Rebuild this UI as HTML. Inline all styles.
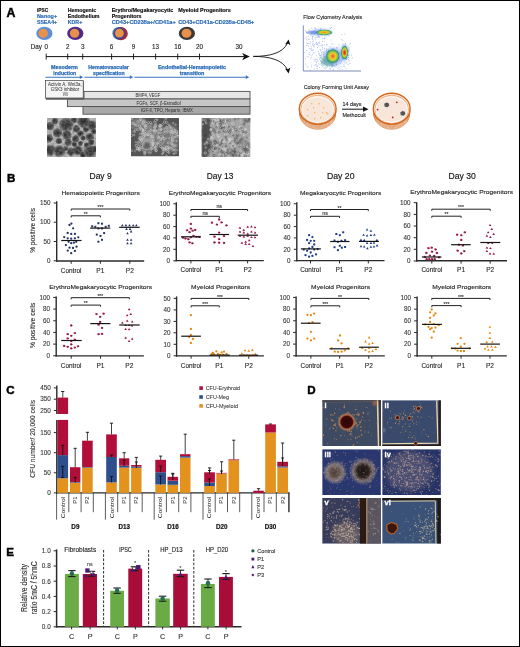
<!DOCTYPE html>
<html><head><meta charset="utf-8"><style>
html,body{margin:0;padding:0;background:#fff;}
svg{display:block;}
#root{will-change:transform;}
text{font-family:"Liberation Sans", sans-serif;}
</style></head><body>
<svg id="root" width="520" height="647" viewBox="0 0 520 647">
<defs>
<radialGradient id="gsph"><stop offset="0" stop-color="#303030"/><stop offset="0.5" stop-color="#3c3c3c" stop-opacity="0.95"/><stop offset="0.8" stop-color="#555" stop-opacity="0.7"/><stop offset="1" stop-color="#777" stop-opacity="0"/></radialGradient>
<radialGradient id="gflow2"><stop offset="0" stop-color="#f08820"/><stop offset="0.35" stop-color="#f0c020"/><stop offset="0.6" stop-color="#a8d040"/><stop offset="0.85" stop-color="#40a870"/><stop offset="1" stop-color="#3060c0" stop-opacity="0.3"/></radialGradient>
<radialGradient id="gflowM"><stop offset="0" stop-color="#e85a20"/><stop offset="0.25" stop-color="#f09a28"/><stop offset="0.45" stop-color="#f0d030"/><stop offset="0.68" stop-color="#88c440"/><stop offset="0.86" stop-color="#30a070"/><stop offset="1" stop-color="#3060c0" stop-opacity="0.3"/></radialGradient>
<radialGradient id="gflow"><stop offset="0" stop-color="#d82818"/><stop offset="0.3" stop-color="#e86020"/><stop offset="0.5" stop-color="#f0c828"/><stop offset="0.72" stop-color="#80c040"/><stop offset="0.88" stop-color="#30a070"/><stop offset="1" stop-color="#3060c0" stop-opacity="0.3"/></radialGradient>
<radialGradient id="gcol1"><stop offset="0" stop-color="#2a0606"/><stop offset="0.6" stop-color="#400a0a"/><stop offset="0.7" stop-color="#a04a28"/><stop offset="0.8" stop-color="#d09060" stop-opacity="0.6"/><stop offset="1" stop-color="#d08850" stop-opacity="0"/></radialGradient>
<radialGradient id="gcol2"><stop offset="0" stop-color="#3a0c08"/><stop offset="0.4" stop-color="#5a1a10"/><stop offset="0.65" stop-color="#b07048" stop-opacity="0.8"/><stop offset="1" stop-color="#c09060" stop-opacity="0"/></radialGradient>
<radialGradient id="gcol3"><stop offset="0" stop-color="#4a3c3a"/><stop offset="0.4" stop-color="#62524c"/><stop offset="0.7" stop-color="#988880" stop-opacity="0.75"/><stop offset="1" stop-color="#a09088" stop-opacity="0"/></radialGradient>
<radialGradient id="gcol4"><stop offset="0" stop-color="#1a1210"/><stop offset="0.45" stop-color="#2e2420"/><stop offset="0.68" stop-color="#807068" stop-opacity="0.85"/><stop offset="1" stop-color="#a09088" stop-opacity="0"/></radialGradient>
<filter id="spkW" x="0" y="0" width="100%" height="100%"><feTurbulence type="fractalNoise" baseFrequency="0.6" numOctaves="2" seed="4"/><feColorMatrix type="matrix" values="0 0 0 0 1  0 0 0 0 1  0 0 0 0 1  3 0 0 0 -1.35"/></filter>
<filter id="spkD" x="0" y="0" width="100%" height="100%"><feTurbulence type="fractalNoise" baseFrequency="0.6" numOctaves="2" seed="8"/><feColorMatrix type="matrix" values="0 0 0 0 0  0 0 0 0 0  0 0 0 0 0  3 0 0 0 -1.35"/></filter>
<filter id="spkW2" x="0" y="0" width="100%" height="100%"><feTurbulence type="fractalNoise" baseFrequency="0.35" numOctaves="2" seed="14"/><feColorMatrix type="matrix" values="0 0 0 0 1  0 0 0 0 1  0 0 0 0 1  3 0 0 0 -1.2"/></filter>
<filter id="spkD2" x="0" y="0" width="100%" height="100%"><feTurbulence type="fractalNoise" baseFrequency="0.35" numOctaves="2" seed="18"/><feColorMatrix type="matrix" values="0 0 0 0 0  0 0 0 0 0  0 0 0 0 0  3 0 0 0 -1.2"/></filter>
<filter id="blur03" x="-10%" y="-10%" width="120%" height="120%"><feGaussianBlur stdDeviation="0.3"/></filter>
<filter id="blur1" x="-50%" y="-50%" width="200%" height="200%"><feGaussianBlur stdDeviation="0.8"/></filter>
<filter id="blur2" x="-50%" y="-50%" width="200%" height="200%"><feGaussianBlur stdDeviation="2"/></filter>
<filter id="noise" x="0" y="0" width="100%" height="100%"><feTurbulence type="fractalNoise" baseFrequency="0.6" numOctaves="2" seed="3"/><feColorMatrix type="saturate" values="0"/></filter>
<filter id="noise2" x="0" y="0" width="100%" height="100%"><feTurbulence type="fractalNoise" baseFrequency="0.45" numOctaves="2" seed="5"/><feColorMatrix type="saturate" values="0"/></filter>
<filter id="noise3" x="0" y="0" width="100%" height="100%"><feTurbulence type="fractalNoise" baseFrequency="0.7" numOctaves="2" seed="9"/><feColorMatrix type="saturate" values="0"/></filter>
</defs>
<rect x="0" y="0" width="520" height="647" fill="#fff"/>
<text x="6.6" y="16.8" font-size="12.3" fill="#000" stroke="#000" stroke-width="0.45" font-weight="bold">A</text>
<text x="36.9" y="11.5" font-size="6.0" fill="#111" stroke="#111" stroke-width="0.18" font-weight="bold" textLength="11.3" lengthAdjust="spacingAndGlyphs">iPSC</text>
<text x="36.9" y="17.9" font-size="6.0" fill="#2b6cb6" stroke="#2b6cb6" stroke-width="0.18" font-weight="bold" textLength="20.2" lengthAdjust="spacingAndGlyphs">Nanog+</text>
<text x="36.9" y="24.4" font-size="6.0" fill="#2b6cb6" stroke="#2b6cb6" stroke-width="0.18" font-weight="bold" textLength="20.2" lengthAdjust="spacingAndGlyphs">SSEA4+</text>
<text x="67.8" y="11.5" font-size="6.0" fill="#111" stroke="#111" stroke-width="0.18" font-weight="bold" textLength="28.4" lengthAdjust="spacingAndGlyphs">Hemogenic</text>
<text x="67.8" y="17.9" font-size="6.0" fill="#111" stroke="#111" stroke-width="0.18" font-weight="bold" textLength="31.7" lengthAdjust="spacingAndGlyphs">Endothelium</text>
<text x="67.8" y="24.4" font-size="6.0" fill="#2b6cb6" stroke="#2b6cb6" stroke-width="0.18" font-weight="bold" textLength="14.4" lengthAdjust="spacingAndGlyphs">KDR+</text>
<text x="111.7" y="11.5" font-size="6.0" fill="#111" stroke="#111" stroke-width="0.18" font-weight="bold" textLength="61.6" lengthAdjust="spacingAndGlyphs">Erythro/Megakaryocytic</text>
<text x="111.7" y="17.9" font-size="6.0" fill="#111" stroke="#111" stroke-width="0.18" font-weight="bold" textLength="29.8" lengthAdjust="spacingAndGlyphs">Progenitors</text>
<text x="111.7" y="24.4" font-size="6.0" fill="#2b6cb6" stroke="#2b6cb6" stroke-width="0.18" font-weight="bold" textLength="64.1" lengthAdjust="spacingAndGlyphs">CD43+CD235a+/CD41a+</text>
<text x="178.2" y="11.5" font-size="6.0" fill="#111" stroke="#111" stroke-width="0.18" font-weight="bold" textLength="52.6" lengthAdjust="spacingAndGlyphs">Myeloid Progenitors</text>
<text x="178.2" y="24.4" font-size="6.0" fill="#2b6cb6" stroke="#2b6cb6" stroke-width="0.18" font-weight="bold" textLength="76" lengthAdjust="spacingAndGlyphs">CD43+CD41a-CD235a-CD45+</text>
<ellipse cx="44.4" cy="33.4" rx="8.1" ry="6.6" fill="#5b8fd8"/>
<ellipse cx="43.2" cy="33.2" rx="4.7" ry="4.5" fill="#e8914a"/>
<ellipse cx="75.3" cy="33.4" rx="8.1" ry="6.6" fill="#4e2a8a"/>
<ellipse cx="74.6" cy="33.2" rx="4.7" ry="4.5" fill="#e8914a"/>
<ellipse cx="120.9" cy="33.7" rx="6.9" ry="6.6" fill="#a02a3c"/>
<ellipse cx="118.7" cy="33.2" rx="6.3" ry="6.3" fill="#2c4a94" opacity="0.82"/>
<ellipse cx="119.4" cy="33.2" rx="4.4" ry="4.4" fill="#e8914a"/>
<ellipse cx="186.9" cy="33.4" rx="8.1" ry="6.6" fill="#3a3a3a"/>
<ellipse cx="186.5" cy="33.2" rx="4.9" ry="4.5" fill="#e8914a"/>
<text x="30.8" y="48.8" font-size="6.3" fill="#222" stroke="#222" stroke-width="0.12">Day</text>
<text x="46.2" y="48.8" font-size="6.3" fill="#222" stroke="#222" stroke-width="0.12" text-anchor="middle">0</text>
<text x="67.7" y="48.8" font-size="6.3" fill="#222" stroke="#222" stroke-width="0.12" text-anchor="middle">2</text>
<text x="82.7" y="48.8" font-size="6.3" fill="#222" stroke="#222" stroke-width="0.12" text-anchor="middle">3</text>
<text x="111.6" y="48.8" font-size="6.3" fill="#222" stroke="#222" stroke-width="0.12" text-anchor="middle">6</text>
<text x="133.5" y="48.8" font-size="6.3" fill="#222" stroke="#222" stroke-width="0.12" text-anchor="middle">9</text>
<text x="155.6" y="48.8" font-size="6.3" fill="#222" stroke="#222" stroke-width="0.12" text-anchor="middle">13</text>
<text x="177.7" y="48.8" font-size="6.3" fill="#222" stroke="#222" stroke-width="0.12" text-anchor="middle">16</text>
<text x="199.5" y="48.8" font-size="6.3" fill="#222" stroke="#222" stroke-width="0.12" text-anchor="middle">20</text>
<text x="239.0" y="48.8" font-size="6.3" fill="#222" stroke="#222" stroke-width="0.12" text-anchor="middle">30</text>
<line x1="46.2" y1="56.6" x2="245.0" y2="56.6" stroke="#111" stroke-width="1" />
<path d="M249.8 56.6 L242.2 52.9 L244.2 56.6 L242.2 60.3 Z" fill="#111"/>
<line x1="46.2" y1="53.6" x2="46.2" y2="59.6" stroke="#111" stroke-width="0.9" />
<line x1="67.7" y1="53.6" x2="67.7" y2="59.6" stroke="#111" stroke-width="0.9" />
<line x1="82.7" y1="53.6" x2="82.7" y2="59.6" stroke="#111" stroke-width="0.9" />
<line x1="111.6" y1="53.6" x2="111.6" y2="59.6" stroke="#111" stroke-width="0.9" />
<line x1="133.5" y1="53.6" x2="133.5" y2="59.6" stroke="#111" stroke-width="0.9" />
<line x1="155.6" y1="53.6" x2="155.6" y2="59.6" stroke="#111" stroke-width="0.9" />
<line x1="177.7" y1="53.6" x2="177.7" y2="59.6" stroke="#111" stroke-width="0.9" />
<line x1="199.5" y1="53.6" x2="199.5" y2="59.6" stroke="#111" stroke-width="0.9" />
<text x="64.4" y="68.7" font-size="5.4" fill="#2b6cb6" stroke="#2b6cb6" stroke-width="0.25" font-weight="bold" text-anchor="middle" textLength="26.9" lengthAdjust="spacingAndGlyphs">Mesoderm</text>
<text x="64.7" y="74.7" font-size="5.4" fill="#2b6cb6" stroke="#2b6cb6" stroke-width="0.25" font-weight="bold" text-anchor="middle" textLength="22.8" lengthAdjust="spacingAndGlyphs">induction</text>
<text x="108.6" y="68.7" font-size="5.4" fill="#2b6cb6" stroke="#2b6cb6" stroke-width="0.25" font-weight="bold" text-anchor="middle" textLength="40.6" lengthAdjust="spacingAndGlyphs">Hematovascular</text>
<text x="108.8" y="74.7" font-size="5.4" fill="#2b6cb6" stroke="#2b6cb6" stroke-width="0.25" font-weight="bold" text-anchor="middle" textLength="31.5" lengthAdjust="spacingAndGlyphs">specification</text>
<text x="192.0" y="68.9" font-size="5.4" fill="#2b6cb6" stroke="#2b6cb6" stroke-width="0.25" font-weight="bold" text-anchor="middle">Endothelial-Hematopoietic</text>
<text x="192.0" y="75.2" font-size="5.4" fill="#2b6cb6" stroke="#2b6cb6" stroke-width="0.25" font-weight="bold" text-anchor="middle">transition</text>
<line x1="45.5" y1="77.2" x2="80.7" y2="77.2" stroke="#3573c0" stroke-width="1.1" />
<path d="M79.8 75.3 L83.2 77.2 L79.8 79.1 Z" fill="#3573c0"/>
<line x1="84.5" y1="77.2" x2="130.7" y2="77.2" stroke="#3573c0" stroke-width="1.1" />
<path d="M129.8 75.3 L133.2 77.2 L129.8 79.1 Z" fill="#3573c0"/>
<line x1="134.5" y1="77.2" x2="246.7" y2="77.2" stroke="#3573c0" stroke-width="1.1" />
<path d="M245.8 75.3 L249.2 77.2 L245.8 79.1 Z" fill="#3573c0"/>
<rect x="84" y="91.4" width="166" height="7.6" fill="#e6e6e6" stroke="#505050" stroke-width="0.9"/>
<text x="147.9" y="97.1" font-size="4.9" fill="#333" stroke="#333" stroke-width="0.03" text-anchor="middle" textLength="25" lengthAdjust="spacingAndGlyphs">BMP4, VEGF</text>
<rect x="67.5" y="99" width="182.5" height="7.6" fill="#c6c6c6" stroke="#505050" stroke-width="0.9"/>
<text x="158.6" y="104.7" font-size="4.9" fill="#333" stroke="#333" stroke-width="0.03" text-anchor="middle" textLength="44" lengthAdjust="spacingAndGlyphs">FGFs, SCF, &#946;-Estradiol</text>
<rect x="83" y="106.6" width="167" height="7.6" fill="#a8a8a8" stroke="#505050" stroke-width="0.9"/>
<text x="166.9" y="112.3" font-size="4.9" fill="#333" stroke="#333" stroke-width="0.03" text-anchor="middle" textLength="52" lengthAdjust="spacingAndGlyphs">IGF-II, TPO, Heparin, IBMX</text>
<rect x="45.8" y="81.6" width="38" height="18.2" fill="#666"/>
<rect x="45.4" y="80.4" width="37.8" height="17.6" fill="#f4f4f4" stroke="#444" stroke-width="0.7"/>
<text x="64.9" y="86.0" font-size="5.0" fill="#333" stroke="#333" stroke-width="0.03" text-anchor="middle" textLength="33.8" lengthAdjust="spacingAndGlyphs">Activin A, Wnt3a,</text>
<text x="65.0" y="91.0" font-size="5.0" fill="#333" stroke="#333" stroke-width="0.03" text-anchor="middle" textLength="28.4" lengthAdjust="spacingAndGlyphs">GSK3 inhibitor</text>
<text x="65.2" y="96.3" font-size="5.0" fill="#333" stroke="#333" stroke-width="0.03" text-anchor="middle" textLength="4.9" lengthAdjust="spacingAndGlyphs">VIII</text>
<svg x="47" y="118" width="49" height="39" viewBox="0 0 49 39">
<rect width="49" height="39" fill="#b2b2b2"/>
<circle cx="3.1" cy="8.2" r="4.75" fill="url(#gsph)"/>
<circle cx="19.2" cy="6.8" r="8.00" fill="url(#gsph)"/>
<circle cx="36.7" cy="3.4" r="7.25" fill="url(#gsph)"/>
<circle cx="44.8" cy="7.5" r="5.50" fill="url(#gsph)"/>
<circle cx="10.5" cy="14.9" r="5.25" fill="url(#gsph)"/>
<circle cx="19.9" cy="16.9" r="5.25" fill="url(#gsph)"/>
<circle cx="29.3" cy="10.8" r="4.25" fill="url(#gsph)"/>
<circle cx="38.8" cy="11.5" r="3.50" fill="url(#gsph)"/>
<circle cx="33.4" cy="15.6" r="3.75" fill="url(#gsph)"/>
<circle cx="42.8" cy="18.9" r="4.75" fill="url(#gsph)"/>
<circle cx="46.8" cy="13.5" r="3.00" fill="url(#gsph)"/>
<circle cx="1.7" cy="20.3" r="4.75" fill="url(#gsph)"/>
<circle cx="11.8" cy="23" r="3.75" fill="url(#gsph)"/>
<circle cx="21.3" cy="24.3" r="4.25" fill="url(#gsph)"/>
<circle cx="28.7" cy="20.9" r="4.25" fill="url(#gsph)"/>
<circle cx="36.1" cy="20" r="3.00" fill="url(#gsph)"/>
<circle cx="27.3" cy="26.3" r="3.00" fill="url(#gsph)"/>
<circle cx="33.4" cy="25.6" r="3.00" fill="url(#gsph)"/>
<circle cx="39.4" cy="27" r="3.00" fill="url(#gsph)"/>
<circle cx="44.1" cy="24.3" r="3.75" fill="url(#gsph)"/>
<circle cx="3.1" cy="32.4" r="6.50" fill="url(#gsph)"/>
<circle cx="12.5" cy="33.1" r="6.50" fill="url(#gsph)"/>
<circle cx="18.6" cy="30.4" r="3.00" fill="url(#gsph)"/>
<circle cx="23.9" cy="33.7" r="4.75" fill="url(#gsph)"/>
<circle cx="30.7" cy="32.4" r="5.50" fill="url(#gsph)"/>
<circle cx="42.8" cy="33.7" r="7.25" fill="url(#gsph)"/>
<circle cx="8" cy="3" r="3.75" fill="url(#gsph)"/>
<circle cx="27" cy="2" r="3.75" fill="url(#gsph)"/>
<circle cx="48" cy="31" r="3.75" fill="url(#gsph)"/>
<circle cx="36" cy="37" r="3.75" fill="url(#gsph)"/>
<rect width="49" height="39" filter="url(#spkW2)" opacity="0.18"/>
<rect width="49" height="39" filter="url(#spkD2)" opacity="0.15"/>
</svg>
<svg x="131" y="118" width="48" height="38.5" viewBox="0 0 48 38.5">
<rect width="48" height="38.5" fill="#545454"/>
<g filter="url(#blur2)" fill="#8c8c8c">
<ellipse cx="7" cy="5" rx="8" ry="6" opacity="0.8"/>
<ellipse cx="20" cy="18" rx="11" ry="10" opacity="0.75"/>
<ellipse cx="40" cy="20" rx="8" ry="13" opacity="0.7"/>
<ellipse cx="16" cy="27" rx="6" ry="5.5" opacity="0.8"/>
</g>
<g filter="url(#blur03)" fill="none" stroke-width="0.55">
<circle cx="11.7" cy="11.6" r="0.9" stroke="rgb(200,200,200)"/>
<circle cx="10.0" cy="10.6" r="0.7" stroke="rgb(210,210,210)"/>
<circle cx="1.5" cy="9.8" r="0.8" stroke="rgb(164,164,164)"/>
<circle cx="17.3" cy="4.8" r="1.1" stroke="rgb(186,186,186)"/>
<circle cx="12.2" cy="5.9" r="1.1" stroke="rgb(191,191,191)"/>
<circle cx="16.8" cy="6.2" r="0.8" stroke="rgb(165,165,165)"/>
<circle cx="12.9" cy="2.6" r="1.1" stroke="rgb(195,195,195)"/>
<circle cx="4.2" cy="6.7" r="0.7" stroke="rgb(202,202,202)"/>
<circle cx="9.9" cy="2.3" r="0.8" stroke="rgb(209,209,209)"/>
<circle cx="13.9" cy="7.8" r="1.2" stroke="rgb(195,195,195)"/>
<circle cx="11.1" cy="15.8" r="1.0" stroke="rgb(216,216,216)"/>
<circle cx="3.1" cy="17.0" r="0.9" stroke="rgb(192,192,192)"/>
<circle cx="12.9" cy="4.8" r="1.2" stroke="rgb(161,161,161)"/>
<circle cx="12.2" cy="11.7" r="0.7" stroke="rgb(191,191,191)"/>
<circle cx="14.3" cy="7.9" r="0.8" stroke="rgb(193,193,193)"/>
<circle cx="1.1" cy="1.0" r="0.8" stroke="rgb(199,199,199)"/>
<circle cx="9.7" cy="1.1" r="1.1" stroke="rgb(208,208,208)"/>
<circle cx="6.0" cy="7.2" r="1.3" stroke="rgb(164,164,164)"/>
<circle cx="9.9" cy="9.7" r="1.1" stroke="rgb(170,170,170)"/>
<circle cx="12.9" cy="3.7" r="1.3" stroke="rgb(170,170,170)"/>
<circle cx="1.2" cy="5.3" r="1.3" stroke="rgb(175,175,175)"/>
<circle cx="7.2" cy="11.4" r="1.2" stroke="rgb(188,188,188)"/>
<circle cx="8.0" cy="3.6" r="1.1" stroke="rgb(176,176,176)"/>
<circle cx="11.4" cy="5.8" r="0.7" stroke="rgb(185,185,185)"/>
<circle cx="0.2" cy="14.1" r="1.1" stroke="rgb(169,169,169)"/>
<circle cx="2.5" cy="5.5" r="1.0" stroke="rgb(201,201,201)"/>
<circle cx="6.8" cy="3.8" r="1.2" stroke="rgb(173,173,173)"/>
<circle cx="4.7" cy="7.2" r="1.1" stroke="rgb(183,183,183)"/>
<circle cx="10.6" cy="22.7" r="1.0" stroke="rgb(214,214,214)"/>
<circle cx="26.9" cy="26.2" r="1.2" stroke="rgb(168,168,168)"/>
<circle cx="32.1" cy="18.8" r="0.7" stroke="rgb(205,205,205)"/>
<circle cx="10.4" cy="11.6" r="1.3" stroke="rgb(214,214,214)"/>
<circle cx="9.3" cy="23.8" r="1.3" stroke="rgb(208,208,208)"/>
<circle cx="23.6" cy="15.6" r="0.9" stroke="rgb(166,166,166)"/>
<circle cx="24.4" cy="28.6" r="0.8" stroke="rgb(210,210,210)"/>
<circle cx="27.8" cy="9.4" r="0.9" stroke="rgb(168,168,168)"/>
<circle cx="27.5" cy="15.1" r="0.8" stroke="rgb(216,216,216)"/>
<circle cx="22.6" cy="22.4" r="0.8" stroke="rgb(184,184,184)"/>
<circle cx="19.5" cy="4.6" r="1.1" stroke="rgb(198,198,198)"/>
<circle cx="29.7" cy="8.2" r="1.3" stroke="rgb(210,210,210)"/>
<circle cx="7.8" cy="28.4" r="1.2" stroke="rgb(185,185,185)"/>
<circle cx="25.7" cy="29.2" r="1.3" stroke="rgb(176,176,176)"/>
<circle cx="9.5" cy="9.9" r="0.9" stroke="rgb(175,175,175)"/>
<circle cx="13.7" cy="34.0" r="1.2" stroke="rgb(178,178,178)"/>
<circle cx="23.0" cy="9.2" r="0.8" stroke="rgb(196,196,196)"/>
<circle cx="12.3" cy="12.3" r="0.9" stroke="rgb(207,207,207)"/>
<circle cx="13.4" cy="17.3" r="1.0" stroke="rgb(199,199,199)"/>
<circle cx="17.3" cy="16.9" r="0.9" stroke="rgb(212,212,212)"/>
<circle cx="20.9" cy="20.8" r="1.3" stroke="rgb(202,202,202)"/>
<circle cx="22.5" cy="20.0" r="1.1" stroke="rgb(164,164,164)"/>
<circle cx="0.6" cy="17.4" r="1.1" stroke="rgb(203,203,203)"/>
<circle cx="11.0" cy="21.4" r="1.2" stroke="rgb(184,184,184)"/>
<circle cx="21.6" cy="18.8" r="1.0" stroke="rgb(202,202,202)"/>
<circle cx="20.2" cy="30.5" r="0.9" stroke="rgb(212,212,212)"/>
<circle cx="7.2" cy="24.3" r="0.9" stroke="rgb(185,185,185)"/>
<circle cx="8.7" cy="18.9" r="0.8" stroke="rgb(201,201,201)"/>
<circle cx="10.8" cy="19.2" r="1.1" stroke="rgb(205,205,205)"/>
<circle cx="21.9" cy="26.5" r="1.2" stroke="rgb(200,200,200)"/>
<circle cx="12.2" cy="4.2" r="1.2" stroke="rgb(204,204,204)"/>
<circle cx="19.3" cy="27.1" r="0.9" stroke="rgb(191,191,191)"/>
<circle cx="8.8" cy="8.1" r="1.3" stroke="rgb(205,205,205)"/>
<circle cx="26.9" cy="18.3" r="1.2" stroke="rgb(179,179,179)"/>
<circle cx="19.3" cy="14.6" r="0.7" stroke="rgb(171,171,171)"/>
<circle cx="13.8" cy="36.1" r="1.1" stroke="rgb(207,207,207)"/>
<circle cx="44.4" cy="15.4" r="1.1" stroke="rgb(170,170,170)"/>
<circle cx="22.0" cy="25.0" r="1.0" stroke="rgb(201,201,201)"/>
<circle cx="21.2" cy="21.1" r="0.9" stroke="rgb(161,161,161)"/>
<circle cx="19.6" cy="33.5" r="1.2" stroke="rgb(169,169,169)"/>
<circle cx="14.1" cy="17.7" r="0.9" stroke="rgb(204,204,204)"/>
<circle cx="6.2" cy="31.1" r="0.9" stroke="rgb(189,189,189)"/>
<circle cx="8.5" cy="20.9" r="0.8" stroke="rgb(202,202,202)"/>
<circle cx="15.2" cy="22.2" r="1.3" stroke="rgb(172,172,172)"/>
<circle cx="21.6" cy="25.3" r="1.3" stroke="rgb(200,200,200)"/>
<circle cx="19.6" cy="16.5" r="1.0" stroke="rgb(192,192,192)"/>
<circle cx="13.1" cy="23.2" r="0.8" stroke="rgb(188,188,188)"/>
<circle cx="30.0" cy="18.5" r="1.3" stroke="rgb(166,166,166)"/>
<circle cx="22.8" cy="25.2" r="0.9" stroke="rgb(160,160,160)"/>
<circle cx="29.4" cy="28.6" r="1.0" stroke="rgb(212,212,212)"/>
<circle cx="23.7" cy="12.2" r="0.9" stroke="rgb(186,186,186)"/>
<circle cx="14.6" cy="16.2" r="1.2" stroke="rgb(211,211,211)"/>
<circle cx="12.3" cy="13.4" r="0.7" stroke="rgb(210,210,210)"/>
<circle cx="17.1" cy="16.4" r="1.2" stroke="rgb(217,217,217)"/>
<circle cx="31.7" cy="17.2" r="0.7" stroke="rgb(169,169,169)"/>
<circle cx="24.4" cy="8.0" r="1.0" stroke="rgb(199,199,199)"/>
<circle cx="14.8" cy="7.2" r="0.9" stroke="rgb(169,169,169)"/>
<circle cx="15.9" cy="23.4" r="0.7" stroke="rgb(200,200,200)"/>
<circle cx="24.2" cy="6.9" r="1.0" stroke="rgb(171,171,171)"/>
<circle cx="17.7" cy="13.3" r="0.9" stroke="rgb(177,177,177)"/>
<circle cx="25.6" cy="27.0" r="1.1" stroke="rgb(177,177,177)"/>
<circle cx="17.3" cy="14.1" r="0.8" stroke="rgb(166,166,166)"/>
<circle cx="16.2" cy="22.7" r="1.1" stroke="rgb(172,172,172)"/>
<circle cx="18.6" cy="8.3" r="0.9" stroke="rgb(165,165,165)"/>
<circle cx="21.8" cy="27.3" r="0.9" stroke="rgb(206,206,206)"/>
<circle cx="9.0" cy="15.7" r="0.7" stroke="rgb(171,171,171)"/>
<circle cx="13.8" cy="24.7" r="1.2" stroke="rgb(215,215,215)"/>
<circle cx="26.1" cy="1.7" r="0.7" stroke="rgb(203,203,203)"/>
<circle cx="15.1" cy="7.5" r="1.0" stroke="rgb(199,199,199)"/>
<circle cx="37.8" cy="6.5" r="0.8" stroke="rgb(184,184,184)"/>
<circle cx="8.0" cy="20.8" r="0.7" stroke="rgb(183,183,183)"/>
<circle cx="13.4" cy="26.8" r="0.7" stroke="rgb(198,198,198)"/>
<circle cx="10.5" cy="27.3" r="1.3" stroke="rgb(171,171,171)"/>
<circle cx="3.9" cy="14.3" r="0.8" stroke="rgb(173,173,173)"/>
<circle cx="13.5" cy="17.4" r="1.1" stroke="rgb(188,188,188)"/>
<circle cx="25.6" cy="12.9" r="0.8" stroke="rgb(165,165,165)"/>
<circle cx="14.0" cy="13.6" r="1.2" stroke="rgb(202,202,202)"/>
<circle cx="17.3" cy="21.2" r="1.2" stroke="rgb(161,161,161)"/>
<circle cx="32.9" cy="14.2" r="1.1" stroke="rgb(202,202,202)"/>
<circle cx="19.7" cy="12.5" r="1.0" stroke="rgb(194,194,194)"/>
<circle cx="27.6" cy="12.1" r="0.8" stroke="rgb(167,167,167)"/>
<circle cx="14.2" cy="8.6" r="1.2" stroke="rgb(189,189,189)"/>
<circle cx="20.1" cy="6.4" r="0.8" stroke="rgb(176,176,176)"/>
<circle cx="22.6" cy="13.0" r="0.9" stroke="rgb(190,190,190)"/>
<circle cx="11.4" cy="15.9" r="1.2" stroke="rgb(162,162,162)"/>
<circle cx="15.6" cy="25.4" r="1.1" stroke="rgb(179,179,179)"/>
<circle cx="14.3" cy="23.6" r="1.2" stroke="rgb(160,160,160)"/>
<circle cx="24.5" cy="13.0" r="1.3" stroke="rgb(213,213,213)"/>
<circle cx="21.9" cy="23.4" r="1.0" stroke="rgb(206,206,206)"/>
<circle cx="21.1" cy="6.1" r="0.9" stroke="rgb(161,161,161)"/>
<circle cx="24.3" cy="9.6" r="0.9" stroke="rgb(189,189,189)"/>
<circle cx="11.9" cy="14.7" r="1.1" stroke="rgb(205,205,205)"/>
<circle cx="28.8" cy="8.0" r="1.1" stroke="rgb(183,183,183)"/>
<circle cx="19.1" cy="9.2" r="1.3" stroke="rgb(167,167,167)"/>
<circle cx="24.9" cy="32.7" r="1.2" stroke="rgb(216,216,216)"/>
<circle cx="19.8" cy="12.0" r="0.8" stroke="rgb(168,168,168)"/>
<circle cx="23.1" cy="12.5" r="1.1" stroke="rgb(203,203,203)"/>
<circle cx="14.2" cy="10.4" r="1.0" stroke="rgb(168,168,168)"/>
<circle cx="39.0" cy="13.2" r="1.2" stroke="rgb(203,203,203)"/>
<circle cx="46.4" cy="14.2" r="0.8" stroke="rgb(160,160,160)"/>
<circle cx="41.3" cy="22.7" r="1.2" stroke="rgb(204,204,204)"/>
<circle cx="34.2" cy="12.9" r="0.8" stroke="rgb(206,206,206)"/>
<circle cx="38.0" cy="8.9" r="1.3" stroke="rgb(194,194,194)"/>
<circle cx="34.0" cy="30.1" r="1.3" stroke="rgb(200,200,200)"/>
<circle cx="43.8" cy="27.9" r="1.1" stroke="rgb(188,188,188)"/>
<circle cx="33.1" cy="23.2" r="1.0" stroke="rgb(174,174,174)"/>
<circle cx="40.0" cy="10.8" r="0.8" stroke="rgb(169,169,169)"/>
<circle cx="41.6" cy="11.5" r="0.9" stroke="rgb(181,181,181)"/>
<circle cx="46.5" cy="17.6" r="0.8" stroke="rgb(172,172,172)"/>
<circle cx="31.7" cy="6.4" r="1.0" stroke="rgb(174,174,174)"/>
<circle cx="44.3" cy="32.4" r="0.9" stroke="rgb(200,200,200)"/>
<circle cx="40.3" cy="13.3" r="0.8" stroke="rgb(204,204,204)"/>
<circle cx="41.5" cy="32.7" r="0.8" stroke="rgb(175,175,175)"/>
<circle cx="30.2" cy="11.4" r="1.1" stroke="rgb(193,193,193)"/>
<circle cx="42.3" cy="10.7" r="1.2" stroke="rgb(180,180,180)"/>
<circle cx="35.2" cy="0.8" r="0.7" stroke="rgb(186,186,186)"/>
<circle cx="27.4" cy="20.2" r="1.2" stroke="rgb(209,209,209)"/>
<circle cx="38.3" cy="20.3" r="0.7" stroke="rgb(200,200,200)"/>
<circle cx="38.6" cy="7.9" r="0.9" stroke="rgb(170,170,170)"/>
<circle cx="35.2" cy="28.4" r="0.9" stroke="rgb(176,176,176)"/>
<circle cx="40.6" cy="16.9" r="1.1" stroke="rgb(178,178,178)"/>
<circle cx="28.9" cy="21.5" r="1.2" stroke="rgb(168,168,168)"/>
<circle cx="43.0" cy="26.9" r="0.9" stroke="rgb(167,167,167)"/>
<circle cx="34.2" cy="0.5" r="0.9" stroke="rgb(163,163,163)"/>
<circle cx="44.2" cy="12.1" r="0.8" stroke="rgb(204,204,204)"/>
<circle cx="44.1" cy="18.8" r="0.9" stroke="rgb(216,216,216)"/>
<circle cx="42.2" cy="31.1" r="1.1" stroke="rgb(179,179,179)"/>
<circle cx="30.6" cy="26.8" r="1.0" stroke="rgb(161,161,161)"/>
<circle cx="40.5" cy="22.4" r="0.8" stroke="rgb(173,173,173)"/>
<circle cx="41.0" cy="19.6" r="0.8" stroke="rgb(209,209,209)"/>
<circle cx="36.2" cy="11.1" r="0.9" stroke="rgb(207,207,207)"/>
<circle cx="42.2" cy="14.7" r="1.1" stroke="rgb(204,204,204)"/>
<circle cx="44.5" cy="6.6" r="0.8" stroke="rgb(190,190,190)"/>
<circle cx="31.3" cy="35.9" r="0.8" stroke="rgb(201,201,201)"/>
<circle cx="35.6" cy="4.5" r="1.1" stroke="rgb(203,203,203)"/>
<circle cx="41.8" cy="21.6" r="1.3" stroke="rgb(206,206,206)"/>
<circle cx="37.3" cy="28.6" r="0.8" stroke="rgb(210,210,210)"/>
<circle cx="33.3" cy="28.6" r="1.2" stroke="rgb(177,177,177)"/>
<circle cx="40.5" cy="12.8" r="1.2" stroke="rgb(167,167,167)"/>
<circle cx="47.0" cy="18.4" r="1.1" stroke="rgb(204,204,204)"/>
<circle cx="40.9" cy="25.9" r="1.0" stroke="rgb(217,217,217)"/>
<circle cx="37.4" cy="12.8" r="1.0" stroke="rgb(168,168,168)"/>
<circle cx="40.1" cy="14.0" r="1.2" stroke="rgb(167,167,167)"/>
<circle cx="45.5" cy="27.7" r="1.1" stroke="rgb(178,178,178)"/>
<circle cx="43.5" cy="14.0" r="0.9" stroke="rgb(209,209,209)"/>
<circle cx="39.6" cy="15.1" r="0.7" stroke="rgb(182,182,182)"/>
<circle cx="31.0" cy="29.6" r="0.9" stroke="rgb(216,216,216)"/>
<circle cx="36.3" cy="13.9" r="0.9" stroke="rgb(204,204,204)"/>
<circle cx="35.7" cy="30.0" r="1.3" stroke="rgb(201,201,201)"/>
<circle cx="34.9" cy="31.3" r="0.8" stroke="rgb(212,212,212)"/>
<circle cx="41.0" cy="14.3" r="0.7" stroke="rgb(181,181,181)"/>
<circle cx="42.2" cy="5.1" r="0.7" stroke="rgb(192,192,192)"/>
<circle cx="41.2" cy="14.2" r="1.1" stroke="rgb(196,196,196)"/>
<circle cx="40.4" cy="25.2" r="1.1" stroke="rgb(180,180,180)"/>
<circle cx="44.9" cy="34.8" r="0.8" stroke="rgb(166,166,166)"/>
<circle cx="39.3" cy="9.8" r="0.8" stroke="rgb(180,180,180)"/>
<circle cx="31.6" cy="30.8" r="0.9" stroke="rgb(214,214,214)"/>
<circle cx="41.6" cy="18.7" r="0.9" stroke="rgb(179,179,179)"/>
<circle cx="37.9" cy="30.0" r="0.8" stroke="rgb(215,215,215)"/>
<circle cx="45.4" cy="13.4" r="1.1" stroke="rgb(205,205,205)"/>
<circle cx="40.8" cy="13.7" r="1.0" stroke="rgb(199,199,199)"/>
<circle cx="45.6" cy="23.0" r="0.8" stroke="rgb(191,191,191)"/>
<circle cx="29.0" cy="7.5" r="1.3" stroke="rgb(218,218,218)"/>
<circle cx="33.6" cy="4.0" r="1.2" stroke="rgb(199,199,199)"/>
<circle cx="29.8" cy="11.0" r="1.0" stroke="rgb(179,179,179)"/>
<circle cx="30.0" cy="11.8" r="0.7" stroke="rgb(216,216,216)"/>
<circle cx="39.9" cy="8.9" r="0.8" stroke="rgb(188,188,188)"/>
<circle cx="20.4" cy="18.3" r="0.9" stroke="rgb(215,215,215)"/>
<circle cx="23.8" cy="14.4" r="1.0" stroke="rgb(171,171,171)"/>
<circle cx="23.1" cy="3.8" r="0.7" stroke="rgb(179,179,179)"/>
<circle cx="32.0" cy="10.8" r="1.1" stroke="rgb(186,186,186)"/>
<circle cx="23.6" cy="9.5" r="1.0" stroke="rgb(185,185,185)"/>
<circle cx="33.7" cy="15.3" r="1.2" stroke="rgb(163,163,163)"/>
<circle cx="24.7" cy="5.5" r="0.9" stroke="rgb(189,189,189)"/>
<circle cx="28.0" cy="19.4" r="1.0" stroke="rgb(202,202,202)"/>
<circle cx="29.5" cy="14.6" r="0.9" stroke="rgb(196,196,196)"/>
<circle cx="25.1" cy="7.6" r="1.0" stroke="rgb(194,194,194)"/>
<circle cx="31.1" cy="20.5" r="0.9" stroke="rgb(215,215,215)"/>
<circle cx="24.8" cy="2.3" r="1.3" stroke="rgb(193,193,193)"/>
<circle cx="34.9" cy="20.3" r="0.9" stroke="rgb(171,171,171)"/>
<circle cx="30.0" cy="7.8" r="0.9" stroke="rgb(194,194,194)"/>
<circle cx="28.3" cy="12.0" r="1.1" stroke="rgb(198,198,198)"/>
<circle cx="33.9" cy="31.9" r="1.0" stroke="rgb(178,178,178)"/>
<circle cx="36.4" cy="33.4" r="1.0" stroke="rgb(209,209,209)"/>
<circle cx="46.3" cy="32.0" r="1.1" stroke="rgb(175,175,175)"/>
<circle cx="29.6" cy="23.4" r="1.1" stroke="rgb(214,214,214)"/>
<circle cx="35.4" cy="37.6" r="0.8" stroke="rgb(187,187,187)"/>
<circle cx="32.2" cy="25.3" r="0.8" stroke="rgb(186,186,186)"/>
<circle cx="27.0" cy="24.8" r="1.1" stroke="rgb(219,219,219)"/>
<circle cx="32.9" cy="30.4" r="1.1" stroke="rgb(178,178,178)"/>
<circle cx="37.7" cy="32.3" r="0.9" stroke="rgb(183,183,183)"/>
<circle cx="43.1" cy="32.1" r="0.7" stroke="rgb(192,192,192)"/>
<circle cx="29.5" cy="26.2" r="1.2" stroke="rgb(174,174,174)"/>
<circle cx="43.0" cy="35.6" r="0.8" stroke="rgb(218,218,218)"/>
<circle cx="36.5" cy="31.2" r="1.0" stroke="rgb(198,198,198)"/>
<circle cx="43.1" cy="31.0" r="1.3" stroke="rgb(162,162,162)"/>
<circle cx="40.0" cy="30.2" r="1.0" stroke="rgb(215,215,215)"/>
<circle cx="32.4" cy="34.8" r="0.7" stroke="rgb(210,210,210)"/>
<circle cx="37.9" cy="34.7" r="0.9" stroke="rgb(197,197,197)"/>
<circle cx="33.5" cy="31.7" r="1.3" stroke="rgb(211,211,211)"/>
<circle cx="11.9" cy="32.0" r="1.1" stroke="rgb(173,173,173)"/>
<circle cx="17.1" cy="25.4" r="0.7" stroke="rgb(181,181,181)"/>
<circle cx="24.8" cy="25.5" r="1.0" stroke="rgb(181,181,181)"/>
<circle cx="17.6" cy="22.6" r="1.2" stroke="rgb(165,165,165)"/>
<circle cx="17.4" cy="26.3" r="1.3" stroke="rgb(209,209,209)"/>
<circle cx="12.2" cy="26.5" r="1.0" stroke="rgb(182,182,182)"/>
<circle cx="24.2" cy="31.1" r="0.9" stroke="rgb(189,189,189)"/>
<circle cx="10.9" cy="20.9" r="0.9" stroke="rgb(208,208,208)"/>
<circle cx="14.7" cy="26.1" r="1.1" stroke="rgb(175,175,175)"/>
<circle cx="24.4" cy="29.4" r="1.0" stroke="rgb(205,205,205)"/>
<circle cx="16.2" cy="30.1" r="1.2" stroke="rgb(196,196,196)"/>
<circle cx="8.2" cy="30.1" r="1.1" stroke="rgb(219,219,219)"/>
<circle cx="6.3" cy="30.4" r="1.3" stroke="rgb(216,216,216)"/>
<circle cx="18.7" cy="25.5" r="1.2" stroke="rgb(183,183,183)"/>
<circle cx="14.0" cy="34.3" r="1.0" stroke="rgb(203,203,203)"/>
<circle cx="18.1" cy="26.6" r="0.7" stroke="rgb(177,177,177)"/>
<circle cx="20.3" cy="30.2" r="1.0" stroke="rgb(201,201,201)"/>
<circle cx="19.4" cy="16.6" r="0.9" stroke="rgb(181,181,181)"/>
<circle cx="14.0" cy="26.7" r="0.8" stroke="rgb(214,214,214)"/>
<circle cx="5.0" cy="24.3" r="0.9" stroke="rgb(172,172,172)"/>
<circle cx="10.8" cy="29.9" r="1.0" stroke="rgb(220,220,220)"/>
<circle cx="5.2" cy="27.5" r="1.2" stroke="rgb(208,208,208)"/>
<circle cx="21.9" cy="29.9" r="1.3" stroke="rgb(220,220,220)"/>
<circle cx="21.7" cy="25.9" r="1.2" stroke="rgb(186,186,186)"/>
<circle cx="17.2" cy="34.3" r="0.8" stroke="rgb(161,161,161)"/>
<circle cx="15.8" cy="25.7" r="0.9" stroke="rgb(198,198,198)"/>
<circle cx="14.9" cy="24.5" r="1.3" stroke="rgb(167,167,167)"/>
<circle cx="15.6" cy="28.7" r="1.2" stroke="rgb(197,197,197)"/>
<circle cx="22.1" cy="22.3" r="1.1" stroke="rgb(162,162,162)"/>
<circle cx="17.9" cy="24.4" r="1.2" stroke="rgb(191,191,191)"/>
<circle cx="14.4" cy="27.7" r="1.1" stroke="rgb(190,190,190)"/>
<circle cx="15.9" cy="27.8" r="0.8" stroke="rgb(217,217,217)"/>
<circle cx="22.2" cy="26.0" r="0.9" stroke="rgb(197,197,197)"/>
<circle cx="21.3" cy="25.5" r="1.2" stroke="rgb(208,208,208)"/>
<circle cx="12.5" cy="25.5" r="1.1" stroke="rgb(200,200,200)"/>
<circle cx="15.7" cy="30.5" r="1.1" stroke="rgb(171,171,171)"/>
<circle cx="20.6" cy="31.0" r="1.0" stroke="rgb(170,170,170)"/>
<circle cx="18.8" cy="22.8" r="0.9" stroke="rgb(170,170,170)"/>
<circle cx="7.3" cy="26.0" r="0.9" stroke="rgb(165,165,165)"/>
<circle cx="13.0" cy="20.4" r="1.0" stroke="rgb(210,210,210)"/>
<circle cx="8.4" cy="32.4" r="0.9" stroke="rgb(218,218,218)"/>
<circle cx="33.9" cy="10.4" r="0.9" stroke="rgb(202,202,202)"/>
<circle cx="4.2" cy="32.9" r="1.0" stroke="rgb(160,160,160)"/>
<circle cx="9.6" cy="21.6" r="0.7" stroke="rgb(218,218,218)"/>
<circle cx="4.7" cy="11.7" r="1.1" stroke="rgb(200,200,200)"/>
<circle cx="35.5" cy="8.9" r="0.8" stroke="rgb(215,215,215)"/>
<circle cx="15.2" cy="9.6" r="1.3" stroke="rgb(202,202,202)"/>
<circle cx="19.0" cy="35.1" r="1.2" stroke="rgb(173,173,173)"/>
<circle cx="25.4" cy="32.4" r="1.0" stroke="rgb(194,194,194)"/>
<circle cx="0.9" cy="32.7" r="0.9" stroke="rgb(180,180,180)"/>
<circle cx="30.2" cy="21.3" r="0.8" stroke="rgb(189,189,189)"/>
<circle cx="14.8" cy="4.4" r="0.8" stroke="rgb(193,193,193)"/>
<circle cx="45.9" cy="16.3" r="1.1" stroke="rgb(203,203,203)"/>
<circle cx="19.1" cy="19.5" r="0.8" stroke="rgb(190,190,190)"/>
<circle cx="2.9" cy="13.2" r="0.9" stroke="rgb(180,180,180)"/>
<circle cx="40.1" cy="14.9" r="0.9" stroke="rgb(161,161,161)"/>
<circle cx="32.0" cy="33.2" r="1.1" stroke="rgb(189,189,189)"/>
<circle cx="18.1" cy="28.2" r="1.2" stroke="rgb(205,205,205)"/>
<circle cx="30.2" cy="15.0" r="0.7" stroke="rgb(170,170,170)"/>
<circle cx="42.0" cy="27.6" r="1.1" stroke="rgb(196,196,196)"/>
<circle cx="26.1" cy="25.4" r="0.9" stroke="rgb(180,180,180)"/>
<circle cx="21.7" cy="18.1" r="1.2" stroke="rgb(202,202,202)"/>
<circle cx="8.4" cy="31.2" r="1.2" stroke="rgb(210,210,210)"/>
<circle cx="37.2" cy="24.8" r="1.1" stroke="rgb(204,204,204)"/>
<circle cx="20.1" cy="11.5" r="0.7" stroke="rgb(173,173,173)"/>
<circle cx="33.1" cy="20.7" r="1.1" stroke="rgb(217,217,217)"/>
<circle cx="20.5" cy="22.4" r="1.1" stroke="rgb(190,190,190)"/>
</g>
<circle cx="16" cy="27.5" r="4.4" fill="none" stroke="#b0b0b0" stroke-width="1.2" filter="url(#blur03)"/>
<circle cx="16" cy="27.5" r="3.4" fill="#5e5e5e" filter="url(#blur1)"/>
</svg>
<svg x="201.5" y="118" width="49" height="39" viewBox="0 0 49 39">
<rect width="49" height="39" fill="#a4a4a4"/>
<g filter="url(#blur1)" fill="#404040">
<path d="M0 0 L11 0 L8 6 L11 12 L7 20 L10 28 L6 39 L0 39 Z" opacity="0.85"/>
<ellipse cx="37" cy="22" rx="4" ry="5" opacity="0.5"/>
<ellipse cx="30" cy="34" rx="5" ry="3.5" opacity="0.45"/>
<ellipse cx="46" cy="2" rx="4" ry="3" opacity="0.55"/>
<ellipse cx="44" cy="30" rx="4" ry="5" opacity="0.4"/>
<ellipse cx="20" cy="36" rx="4" ry="3" opacity="0.4"/>
</g>
<g filter="url(#blur03)" fill="none" stroke-width="0.55">
<circle cx="47.0" cy="5.5" r="0.7" stroke="rgb(203,203,203)"/>
<circle cx="5.9" cy="25.4" r="0.8" stroke="rgb(189,189,189)"/>
<circle cx="35.9" cy="16.8" r="1.1" stroke="rgb(96,96,96)"/>
<circle cx="28.9" cy="12.1" r="0.9" stroke="rgb(182,182,182)"/>
<circle cx="46.0" cy="30.2" r="0.6" stroke="rgb(96,96,96)"/>
<circle cx="16.0" cy="13.1" r="0.8" stroke="rgb(200,200,200)"/>
<circle cx="38.3" cy="37.2" r="0.8" stroke="rgb(69,69,69)"/>
<circle cx="13.3" cy="27.0" r="0.9" stroke="rgb(196,196,196)"/>
<circle cx="20.1" cy="25.8" r="0.9" stroke="rgb(79,79,79)"/>
<circle cx="19.5" cy="1.0" r="0.9" stroke="rgb(210,210,210)"/>
<circle cx="21.2" cy="26.3" r="0.7" stroke="rgb(180,180,180)"/>
<circle cx="21.7" cy="3.8" r="1.2" stroke="rgb(63,63,63)"/>
<circle cx="46.7" cy="20.0" r="0.9" stroke="rgb(181,181,181)"/>
<circle cx="9.5" cy="1.2" r="0.8" stroke="rgb(186,186,186)"/>
<circle cx="17.5" cy="7.5" r="0.7" stroke="rgb(209,209,209)"/>
<circle cx="38.2" cy="28.8" r="0.6" stroke="rgb(66,66,66)"/>
<circle cx="20.1" cy="32.3" r="0.6" stroke="rgb(89,89,89)"/>
<circle cx="33.5" cy="33.5" r="1.0" stroke="rgb(179,179,179)"/>
<circle cx="17.3" cy="30.6" r="0.8" stroke="rgb(98,98,98)"/>
<circle cx="4.8" cy="24.5" r="0.6" stroke="rgb(186,186,186)"/>
<circle cx="47.4" cy="13.7" r="0.9" stroke="rgb(188,188,188)"/>
<circle cx="23.8" cy="2.7" r="0.7" stroke="rgb(223,223,223)"/>
<circle cx="23.0" cy="8.1" r="1.1" stroke="rgb(222,222,222)"/>
<circle cx="25.7" cy="7.0" r="0.6" stroke="rgb(214,214,214)"/>
<circle cx="10.0" cy="19.1" r="1.0" stroke="rgb(223,223,223)"/>
<circle cx="20.5" cy="9.9" r="0.8" stroke="rgb(67,67,67)"/>
<circle cx="3.2" cy="26.0" r="0.8" stroke="rgb(216,216,216)"/>
<circle cx="1.5" cy="6.2" r="0.6" stroke="rgb(219,219,219)"/>
<circle cx="37.5" cy="0.2" r="1.1" stroke="rgb(88,88,88)"/>
<circle cx="11.4" cy="20.8" r="0.8" stroke="rgb(196,196,196)"/>
<circle cx="47.6" cy="26.9" r="1.0" stroke="rgb(98,98,98)"/>
<circle cx="8.6" cy="31.3" r="1.0" stroke="rgb(95,95,95)"/>
<circle cx="13.7" cy="32.9" r="0.8" stroke="rgb(191,191,191)"/>
<circle cx="7.8" cy="32.7" r="1.2" stroke="rgb(183,183,183)"/>
<circle cx="9.3" cy="15.8" r="0.6" stroke="rgb(108,108,108)"/>
<circle cx="32.6" cy="20.5" r="0.6" stroke="rgb(65,65,65)"/>
<circle cx="18.6" cy="9.2" r="0.7" stroke="rgb(184,184,184)"/>
<circle cx="17.7" cy="37.2" r="1.1" stroke="rgb(195,195,195)"/>
<circle cx="1.1" cy="37.0" r="1.1" stroke="rgb(100,100,100)"/>
<circle cx="46.0" cy="35.5" r="0.9" stroke="rgb(214,214,214)"/>
<circle cx="26.9" cy="12.6" r="1.0" stroke="rgb(110,110,110)"/>
<circle cx="44.2" cy="31.2" r="1.0" stroke="rgb(80,80,80)"/>
<circle cx="43.6" cy="36.5" r="1.1" stroke="rgb(203,203,203)"/>
<circle cx="45.0" cy="6.2" r="0.8" stroke="rgb(200,200,200)"/>
<circle cx="39.8" cy="12.0" r="1.2" stroke="rgb(214,214,214)"/>
<circle cx="18.4" cy="1.6" r="0.9" stroke="rgb(92,92,92)"/>
<circle cx="4.5" cy="32.1" r="0.7" stroke="rgb(95,95,95)"/>
<circle cx="2.4" cy="38.8" r="0.9" stroke="rgb(67,67,67)"/>
<circle cx="16.0" cy="6.5" r="0.8" stroke="rgb(218,218,218)"/>
<circle cx="18.7" cy="35.7" r="0.9" stroke="rgb(204,204,204)"/>
<circle cx="26.4" cy="15.4" r="0.9" stroke="rgb(217,217,217)"/>
<circle cx="10.2" cy="26.8" r="0.7" stroke="rgb(67,67,67)"/>
<circle cx="22.2" cy="30.4" r="1.1" stroke="rgb(205,205,205)"/>
<circle cx="13.1" cy="4.9" r="1.0" stroke="rgb(70,70,70)"/>
<circle cx="14.9" cy="9.3" r="0.8" stroke="rgb(110,110,110)"/>
<circle cx="19.5" cy="21.7" r="1.0" stroke="rgb(200,200,200)"/>
<circle cx="22.1" cy="31.2" r="1.1" stroke="rgb(224,224,224)"/>
<circle cx="38.4" cy="8.8" r="0.8" stroke="rgb(218,218,218)"/>
<circle cx="2.3" cy="36.2" r="0.8" stroke="rgb(75,75,75)"/>
<circle cx="39.1" cy="14.5" r="1.0" stroke="rgb(97,97,97)"/>
<circle cx="17.1" cy="14.6" r="0.6" stroke="rgb(68,68,68)"/>
<circle cx="29.6" cy="12.0" r="1.1" stroke="rgb(68,68,68)"/>
<circle cx="24.9" cy="35.8" r="0.8" stroke="rgb(181,181,181)"/>
<circle cx="31.8" cy="10.2" r="1.2" stroke="rgb(203,203,203)"/>
<circle cx="16.4" cy="18.9" r="0.7" stroke="rgb(213,213,213)"/>
<circle cx="22.1" cy="27.2" r="1.1" stroke="rgb(189,189,189)"/>
<circle cx="36.5" cy="24.9" r="0.6" stroke="rgb(83,83,83)"/>
<circle cx="40.5" cy="21.1" r="1.2" stroke="rgb(100,100,100)"/>
<circle cx="46.7" cy="29.9" r="0.8" stroke="rgb(201,201,201)"/>
<circle cx="27.9" cy="23.9" r="1.1" stroke="rgb(221,221,221)"/>
<circle cx="45.4" cy="19.9" r="0.8" stroke="rgb(104,104,104)"/>
<circle cx="3.6" cy="17.3" r="0.9" stroke="rgb(60,60,60)"/>
<circle cx="18.9" cy="2.9" r="0.8" stroke="rgb(90,90,90)"/>
<circle cx="14.1" cy="23.9" r="1.2" stroke="rgb(70,70,70)"/>
<circle cx="49.0" cy="4.3" r="0.8" stroke="rgb(187,187,187)"/>
<circle cx="40.8" cy="17.7" r="1.2" stroke="rgb(176,176,176)"/>
<circle cx="9.5" cy="16.5" r="1.0" stroke="rgb(91,91,91)"/>
<circle cx="15.0" cy="25.9" r="0.8" stroke="rgb(83,83,83)"/>
<circle cx="27.3" cy="38.0" r="0.8" stroke="rgb(202,202,202)"/>
<circle cx="3.7" cy="35.0" r="1.2" stroke="rgb(222,222,222)"/>
<circle cx="39.8" cy="35.8" r="1.1" stroke="rgb(214,214,214)"/>
<circle cx="23.4" cy="1.0" r="0.6" stroke="rgb(194,194,194)"/>
<circle cx="31.3" cy="37.3" r="0.7" stroke="rgb(70,70,70)"/>
<circle cx="32.2" cy="9.4" r="1.0" stroke="rgb(90,90,90)"/>
<circle cx="37.9" cy="37.8" r="0.8" stroke="rgb(103,103,103)"/>
<circle cx="34.6" cy="10.7" r="1.0" stroke="rgb(194,194,194)"/>
<circle cx="27.2" cy="8.7" r="0.7" stroke="rgb(68,68,68)"/>
<circle cx="12.4" cy="37.5" r="1.2" stroke="rgb(74,74,74)"/>
<circle cx="28.6" cy="32.5" r="0.9" stroke="rgb(182,182,182)"/>
<circle cx="37.7" cy="0.1" r="1.0" stroke="rgb(103,103,103)"/>
<circle cx="30.2" cy="29.3" r="0.7" stroke="rgb(218,218,218)"/>
<circle cx="25.2" cy="9.3" r="0.8" stroke="rgb(177,177,177)"/>
<circle cx="4.2" cy="29.5" r="0.9" stroke="rgb(207,207,207)"/>
<circle cx="11.4" cy="5.0" r="1.2" stroke="rgb(218,218,218)"/>
<circle cx="2.2" cy="2.5" r="0.8" stroke="rgb(61,61,61)"/>
<circle cx="39.2" cy="14.7" r="0.9" stroke="rgb(201,201,201)"/>
<circle cx="24.6" cy="14.3" r="1.1" stroke="rgb(98,98,98)"/>
<circle cx="19.1" cy="9.7" r="1.2" stroke="rgb(66,66,66)"/>
<circle cx="2.7" cy="28.3" r="0.8" stroke="rgb(84,84,84)"/>
<circle cx="13.0" cy="14.2" r="0.8" stroke="rgb(192,192,192)"/>
<circle cx="43.3" cy="14.3" r="1.0" stroke="rgb(77,77,77)"/>
<circle cx="47.3" cy="31.0" r="0.7" stroke="rgb(222,222,222)"/>
<circle cx="39.7" cy="3.8" r="1.1" stroke="rgb(190,190,190)"/>
<circle cx="11.5" cy="16.8" r="0.9" stroke="rgb(198,198,198)"/>
<circle cx="31.8" cy="17.4" r="0.7" stroke="rgb(88,88,88)"/>
<circle cx="17.3" cy="18.9" r="0.8" stroke="rgb(218,218,218)"/>
<circle cx="6.9" cy="34.8" r="0.9" stroke="rgb(88,88,88)"/>
<circle cx="48.3" cy="23.3" r="0.8" stroke="rgb(200,200,200)"/>
<circle cx="11.9" cy="18.6" r="1.0" stroke="rgb(182,182,182)"/>
<circle cx="46.8" cy="27.6" r="1.2" stroke="rgb(198,198,198)"/>
<circle cx="35.6" cy="13.5" r="1.1" stroke="rgb(108,108,108)"/>
<circle cx="23.7" cy="37.0" r="1.1" stroke="rgb(60,60,60)"/>
<circle cx="19.8" cy="18.2" r="1.2" stroke="rgb(186,186,186)"/>
<circle cx="17.5" cy="2.0" r="0.7" stroke="rgb(198,198,198)"/>
<circle cx="4.2" cy="28.6" r="1.0" stroke="rgb(108,108,108)"/>
<circle cx="33.1" cy="22.2" r="0.6" stroke="rgb(92,92,92)"/>
<circle cx="25.1" cy="33.6" r="0.8" stroke="rgb(200,200,200)"/>
<circle cx="47.4" cy="28.8" r="1.1" stroke="rgb(105,105,105)"/>
<circle cx="9.6" cy="20.1" r="1.0" stroke="rgb(221,221,221)"/>
<circle cx="16.5" cy="1.9" r="0.7" stroke="rgb(199,199,199)"/>
<circle cx="17.6" cy="15.6" r="1.2" stroke="rgb(194,194,194)"/>
<circle cx="45.2" cy="23.0" r="0.8" stroke="rgb(85,85,85)"/>
<circle cx="31.1" cy="11.6" r="0.9" stroke="rgb(213,213,213)"/>
<circle cx="32.1" cy="30.6" r="0.8" stroke="rgb(188,188,188)"/>
<circle cx="45.7" cy="28.9" r="0.7" stroke="rgb(191,191,191)"/>
<circle cx="1.1" cy="11.9" r="0.7" stroke="rgb(86,86,86)"/>
<circle cx="28.0" cy="2.5" r="1.1" stroke="rgb(110,110,110)"/>
<circle cx="30.9" cy="14.7" r="1.1" stroke="rgb(181,181,181)"/>
<circle cx="25.9" cy="34.5" r="1.0" stroke="rgb(65,65,65)"/>
<circle cx="16.2" cy="24.9" r="0.9" stroke="rgb(105,105,105)"/>
<circle cx="30.9" cy="5.3" r="1.0" stroke="rgb(213,213,213)"/>
<circle cx="44.7" cy="38.1" r="1.1" stroke="rgb(205,205,205)"/>
<circle cx="23.8" cy="16.2" r="1.0" stroke="rgb(214,214,214)"/>
<circle cx="43.9" cy="12.5" r="1.2" stroke="rgb(206,206,206)"/>
<circle cx="19.7" cy="20.9" r="0.9" stroke="rgb(194,194,194)"/>
<circle cx="39.2" cy="34.8" r="1.0" stroke="rgb(70,70,70)"/>
<circle cx="38.1" cy="27.0" r="1.1" stroke="rgb(189,189,189)"/>
<circle cx="23.7" cy="31.1" r="0.8" stroke="rgb(214,214,214)"/>
<circle cx="29.1" cy="21.1" r="1.0" stroke="rgb(216,216,216)"/>
<circle cx="16.0" cy="17.0" r="0.9" stroke="rgb(214,214,214)"/>
<circle cx="26.2" cy="8.2" r="0.8" stroke="rgb(178,178,178)"/>
<circle cx="25.2" cy="34.9" r="0.7" stroke="rgb(90,90,90)"/>
<circle cx="40.7" cy="12.8" r="1.1" stroke="rgb(221,221,221)"/>
<circle cx="2.1" cy="14.7" r="0.6" stroke="rgb(92,92,92)"/>
<circle cx="45.8" cy="14.9" r="0.8" stroke="rgb(202,202,202)"/>
<circle cx="23.5" cy="23.0" r="1.1" stroke="rgb(201,201,201)"/>
<circle cx="34.9" cy="6.2" r="0.8" stroke="rgb(92,92,92)"/>
<circle cx="37.6" cy="20.1" r="1.0" stroke="rgb(198,198,198)"/>
<circle cx="32.7" cy="34.8" r="0.7" stroke="rgb(60,60,60)"/>
<circle cx="35.1" cy="15.1" r="0.7" stroke="rgb(181,181,181)"/>
<circle cx="42.2" cy="29.8" r="0.7" stroke="rgb(92,92,92)"/>
<circle cx="45.4" cy="29.5" r="0.7" stroke="rgb(211,211,211)"/>
<circle cx="33.4" cy="27.8" r="1.0" stroke="rgb(221,221,221)"/>
<circle cx="22.9" cy="32.9" r="0.7" stroke="rgb(64,64,64)"/>
<circle cx="38.9" cy="30.2" r="1.0" stroke="rgb(175,175,175)"/>
<circle cx="45.7" cy="33.7" r="0.7" stroke="rgb(190,190,190)"/>
<circle cx="19.7" cy="2.7" r="1.0" stroke="rgb(71,71,71)"/>
<circle cx="45.9" cy="31.6" r="1.2" stroke="rgb(80,80,80)"/>
<circle cx="43.1" cy="29.3" r="0.9" stroke="rgb(94,94,94)"/>
<circle cx="13.1" cy="30.9" r="0.6" stroke="rgb(82,82,82)"/>
<circle cx="34.2" cy="11.4" r="1.2" stroke="rgb(89,89,89)"/>
<circle cx="28.2" cy="38.8" r="0.9" stroke="rgb(176,176,176)"/>
<circle cx="23.8" cy="12.7" r="1.0" stroke="rgb(203,203,203)"/>
<circle cx="33.4" cy="30.7" r="0.6" stroke="rgb(79,79,79)"/>
<circle cx="40.5" cy="13.6" r="1.1" stroke="rgb(88,88,88)"/>
<circle cx="31.4" cy="20.5" r="1.0" stroke="rgb(196,196,196)"/>
<circle cx="10.8" cy="15.0" r="0.8" stroke="rgb(195,195,195)"/>
<circle cx="11.5" cy="1.9" r="0.8" stroke="rgb(207,207,207)"/>
<circle cx="0.3" cy="2.1" r="0.7" stroke="rgb(224,224,224)"/>
<circle cx="32.8" cy="33.6" r="1.0" stroke="rgb(60,60,60)"/>
<circle cx="22.0" cy="37.5" r="0.7" stroke="rgb(221,221,221)"/>
<circle cx="45.6" cy="10.7" r="1.0" stroke="rgb(183,183,183)"/>
<circle cx="35.3" cy="6.2" r="0.8" stroke="rgb(210,210,210)"/>
<circle cx="14.5" cy="26.7" r="0.9" stroke="rgb(220,220,220)"/>
<circle cx="26.2" cy="32.4" r="0.6" stroke="rgb(65,65,65)"/>
<circle cx="1.1" cy="13.3" r="1.0" stroke="rgb(70,70,70)"/>
<circle cx="24.2" cy="19.0" r="0.8" stroke="rgb(79,79,79)"/>
<circle cx="43.9" cy="23.2" r="0.7" stroke="rgb(91,91,91)"/>
<circle cx="39.2" cy="14.6" r="0.7" stroke="rgb(225,225,225)"/>
<circle cx="49.0" cy="6.1" r="1.1" stroke="rgb(185,185,185)"/>
<circle cx="48.0" cy="19.5" r="0.6" stroke="rgb(196,196,196)"/>
<circle cx="23.4" cy="21.6" r="1.0" stroke="rgb(201,201,201)"/>
<circle cx="18.1" cy="36.5" r="1.2" stroke="rgb(201,201,201)"/>
<circle cx="19.5" cy="5.5" r="0.9" stroke="rgb(100,100,100)"/>
<circle cx="45.2" cy="1.1" r="0.9" stroke="rgb(184,184,184)"/>
<circle cx="24.5" cy="21.5" r="1.2" stroke="rgb(89,89,89)"/>
<circle cx="11.0" cy="27.6" r="1.1" stroke="rgb(198,198,198)"/>
<circle cx="21.1" cy="2.4" r="0.9" stroke="rgb(188,188,188)"/>
<circle cx="1.5" cy="21.9" r="1.0" stroke="rgb(67,67,67)"/>
<circle cx="6.3" cy="23.1" r="0.7" stroke="rgb(72,72,72)"/>
<circle cx="31.6" cy="25.6" r="0.9" stroke="rgb(218,218,218)"/>
<circle cx="38.5" cy="9.2" r="0.9" stroke="rgb(217,217,217)"/>
<circle cx="31.5" cy="12.6" r="0.6" stroke="rgb(218,218,218)"/>
<circle cx="22.8" cy="26.0" r="1.1" stroke="rgb(80,80,80)"/>
<circle cx="20.1" cy="29.8" r="0.9" stroke="rgb(189,189,189)"/>
<circle cx="40.7" cy="37.1" r="1.0" stroke="rgb(202,202,202)"/>
<circle cx="7.1" cy="21.4" r="0.7" stroke="rgb(100,100,100)"/>
<circle cx="13.3" cy="14.1" r="1.0" stroke="rgb(72,72,72)"/>
<circle cx="23.6" cy="31.9" r="0.7" stroke="rgb(221,221,221)"/>
<circle cx="12.2" cy="4.5" r="1.1" stroke="rgb(206,206,206)"/>
<circle cx="32.9" cy="6.7" r="0.7" stroke="rgb(192,192,192)"/>
<circle cx="14.9" cy="37.2" r="0.9" stroke="rgb(75,75,75)"/>
<circle cx="21.2" cy="28.7" r="0.6" stroke="rgb(75,75,75)"/>
<circle cx="33.5" cy="1.2" r="1.0" stroke="rgb(87,87,87)"/>
<circle cx="31.9" cy="21.1" r="0.8" stroke="rgb(192,192,192)"/>
<circle cx="24.1" cy="24.4" r="0.7" stroke="rgb(183,183,183)"/>
<circle cx="24.3" cy="36.2" r="0.9" stroke="rgb(200,200,200)"/>
<circle cx="13.1" cy="26.3" r="0.9" stroke="rgb(64,64,64)"/>
<circle cx="44.9" cy="14.3" r="0.7" stroke="rgb(91,91,91)"/>
<circle cx="26.8" cy="33.4" r="1.0" stroke="rgb(177,177,177)"/>
<circle cx="9.3" cy="12.0" r="1.0" stroke="rgb(211,211,211)"/>
<circle cx="39.4" cy="10.3" r="1.0" stroke="rgb(88,88,88)"/>
<circle cx="42.3" cy="34.9" r="0.9" stroke="rgb(209,209,209)"/>
<circle cx="23.2" cy="3.3" r="1.0" stroke="rgb(223,223,223)"/>
<circle cx="15.2" cy="1.5" r="1.1" stroke="rgb(217,217,217)"/>
<circle cx="24.1" cy="27.8" r="0.9" stroke="rgb(67,67,67)"/>
<circle cx="42.7" cy="16.6" r="1.0" stroke="rgb(217,217,217)"/>
<circle cx="21.0" cy="34.0" r="1.0" stroke="rgb(101,101,101)"/>
<circle cx="36.2" cy="33.5" r="0.9" stroke="rgb(110,110,110)"/>
<circle cx="33.3" cy="33.8" r="0.9" stroke="rgb(66,66,66)"/>
<circle cx="7.3" cy="27.7" r="0.7" stroke="rgb(70,70,70)"/>
<circle cx="43.8" cy="11.2" r="0.9" stroke="rgb(214,214,214)"/>
<circle cx="17.6" cy="14.4" r="0.9" stroke="rgb(60,60,60)"/>
<circle cx="28.0" cy="14.5" r="1.0" stroke="rgb(70,70,70)"/>
<circle cx="32.2" cy="36.2" r="0.8" stroke="rgb(100,100,100)"/>
<circle cx="15.6" cy="27.2" r="0.8" stroke="rgb(199,199,199)"/>
<circle cx="22.9" cy="26.2" r="1.0" stroke="rgb(175,175,175)"/>
<circle cx="9.5" cy="11.2" r="1.0" stroke="rgb(201,201,201)"/>
<circle cx="46.8" cy="25.4" r="1.0" stroke="rgb(99,99,99)"/>
<circle cx="39.2" cy="32.8" r="0.9" stroke="rgb(209,209,209)"/>
<circle cx="48.6" cy="29.7" r="1.0" stroke="rgb(177,177,177)"/>
<circle cx="23.1" cy="32.9" r="1.0" stroke="rgb(204,204,204)"/>
<circle cx="29.8" cy="26.4" r="1.0" stroke="rgb(222,222,222)"/>
<circle cx="42.6" cy="6.2" r="1.0" stroke="rgb(74,74,74)"/>
<circle cx="48.2" cy="1.2" r="0.7" stroke="rgb(88,88,88)"/>
<circle cx="44.0" cy="0.6" r="0.9" stroke="rgb(176,176,176)"/>
<circle cx="16.8" cy="15.1" r="1.1" stroke="rgb(182,182,182)"/>
<circle cx="3.7" cy="2.7" r="1.1" stroke="rgb(186,186,186)"/>
<circle cx="42.4" cy="28.5" r="1.1" stroke="rgb(196,196,196)"/>
<circle cx="40.1" cy="34.3" r="1.0" stroke="rgb(180,180,180)"/>
<circle cx="14.9" cy="37.2" r="0.8" stroke="rgb(202,202,202)"/>
<circle cx="45.4" cy="22.2" r="1.2" stroke="rgb(203,203,203)"/>
<circle cx="23.5" cy="31.3" r="0.9" stroke="rgb(192,192,192)"/>
<circle cx="31.8" cy="37.8" r="0.8" stroke="rgb(95,95,95)"/>
<circle cx="25.7" cy="2.5" r="0.8" stroke="rgb(91,91,91)"/>
<circle cx="13.9" cy="30.2" r="1.1" stroke="rgb(60,60,60)"/>
<circle cx="23.4" cy="26.9" r="0.6" stroke="rgb(181,181,181)"/>
<circle cx="12.2" cy="3.2" r="0.7" stroke="rgb(68,68,68)"/>
<circle cx="44.2" cy="1.7" r="0.9" stroke="rgb(99,99,99)"/>
<circle cx="22.5" cy="22.6" r="1.1" stroke="rgb(195,195,195)"/>
<circle cx="13.4" cy="2.5" r="0.8" stroke="rgb(224,224,224)"/>
<circle cx="0.0" cy="16.8" r="1.0" stroke="rgb(91,91,91)"/>
<circle cx="9.5" cy="7.9" r="0.7" stroke="rgb(202,202,202)"/>
<circle cx="20.1" cy="24.6" r="0.8" stroke="rgb(86,86,86)"/>
<circle cx="22.2" cy="2.1" r="0.9" stroke="rgb(80,80,80)"/>
<circle cx="18.5" cy="27.0" r="0.7" stroke="rgb(79,79,79)"/>
<circle cx="31.9" cy="34.7" r="0.6" stroke="rgb(189,189,189)"/>
<circle cx="36.5" cy="32.8" r="1.2" stroke="rgb(175,175,175)"/>
<circle cx="12.5" cy="11.6" r="1.0" stroke="rgb(78,78,78)"/>
<circle cx="38.3" cy="19.1" r="1.1" stroke="rgb(192,192,192)"/>
<circle cx="43.6" cy="31.7" r="0.6" stroke="rgb(108,108,108)"/>
<circle cx="31.5" cy="27.9" r="0.6" stroke="rgb(101,101,101)"/>
<circle cx="10.5" cy="28.6" r="0.7" stroke="rgb(103,103,103)"/>
<circle cx="2.2" cy="2.0" r="0.7" stroke="rgb(182,182,182)"/>
<circle cx="22.8" cy="12.8" r="1.2" stroke="rgb(69,69,69)"/>
<circle cx="22.7" cy="9.4" r="0.8" stroke="rgb(62,62,62)"/>
<circle cx="41.7" cy="12.8" r="0.8" stroke="rgb(109,109,109)"/>
<circle cx="9.6" cy="24.2" r="0.7" stroke="rgb(89,89,89)"/>
<circle cx="21.1" cy="36.4" r="0.8" stroke="rgb(186,186,186)"/>
<circle cx="28.4" cy="21.7" r="0.9" stroke="rgb(215,215,215)"/>
<circle cx="5.5" cy="23.7" r="1.0" stroke="rgb(206,206,206)"/>
<circle cx="22.5" cy="24.2" r="0.8" stroke="rgb(201,201,201)"/>
<circle cx="45.0" cy="34.3" r="1.1" stroke="rgb(100,100,100)"/>
<circle cx="6.7" cy="0.5" r="0.8" stroke="rgb(103,103,103)"/>
<circle cx="37.1" cy="15.4" r="1.1" stroke="rgb(176,176,176)"/>
<circle cx="40.3" cy="37.4" r="1.1" stroke="rgb(207,207,207)"/>
<circle cx="43.9" cy="38.0" r="1.1" stroke="rgb(79,79,79)"/>
<circle cx="18.8" cy="22.1" r="1.0" stroke="rgb(210,210,210)"/>
<circle cx="20.8" cy="22.4" r="0.9" stroke="rgb(64,64,64)"/>
<circle cx="6.7" cy="20.9" r="0.8" stroke="rgb(211,211,211)"/>
<circle cx="18.8" cy="6.5" r="1.1" stroke="rgb(74,74,74)"/>
<circle cx="13.2" cy="22.9" r="1.1" stroke="rgb(77,77,77)"/>
<circle cx="21.8" cy="23.8" r="0.8" stroke="rgb(212,212,212)"/>
<circle cx="10.8" cy="28.7" r="0.7" stroke="rgb(98,98,98)"/>
<circle cx="36.0" cy="22.4" r="1.1" stroke="rgb(222,222,222)"/>
<circle cx="2.7" cy="20.0" r="0.8" stroke="rgb(85,85,85)"/>
<circle cx="43.0" cy="26.6" r="1.0" stroke="rgb(179,179,179)"/>
<circle cx="34.7" cy="37.3" r="0.8" stroke="rgb(77,77,77)"/>
<circle cx="27.6" cy="20.8" r="1.0" stroke="rgb(221,221,221)"/>
<circle cx="28.9" cy="25.3" r="0.6" stroke="rgb(69,69,69)"/>
<circle cx="7.7" cy="19.1" r="1.0" stroke="rgb(71,71,71)"/>
<circle cx="4.7" cy="5.1" r="0.8" stroke="rgb(205,205,205)"/>
<circle cx="21.7" cy="29.4" r="1.1" stroke="rgb(179,179,179)"/>
<circle cx="44.3" cy="32.0" r="1.0" stroke="rgb(93,93,93)"/>
<circle cx="47.7" cy="35.8" r="0.7" stroke="rgb(205,205,205)"/>
<circle cx="11.3" cy="33.6" r="0.6" stroke="rgb(92,92,92)"/>
<circle cx="20.8" cy="0.3" r="0.9" stroke="rgb(204,204,204)"/>
<circle cx="9.4" cy="11.7" r="0.9" stroke="rgb(208,208,208)"/>
<circle cx="38.9" cy="1.4" r="1.0" stroke="rgb(199,199,199)"/>
<circle cx="40.8" cy="37.8" r="0.6" stroke="rgb(206,206,206)"/>
<circle cx="23.9" cy="11.6" r="0.9" stroke="rgb(179,179,179)"/>
</g>
</svg>
<path d="M253.3 56.4 C 270 56.4, 283 53, 287.6 43" fill="none" stroke="#111" stroke-width="0.9"/>
<path d="M253.3 56.4 C 270 56.4, 283 60, 287.6 70" fill="none" stroke="#111" stroke-width="0.9"/>
<path d="M288.6 39.4 L290.4 45.2 L287.9 43.6 L285.0 44.4 Z" fill="#111"/>
<path d="M288.6 73.4 L290.4 67.6 L287.9 69.2 L285.0 68.4 Z" fill="#111"/>
<text x="303.3" y="19.2" font-size="5.6" fill="#222" stroke="#222" stroke-width="0.12" textLength="59" lengthAdjust="spacingAndGlyphs">Flow Cytometry Analysis</text>
<line x1="303.3" y1="25.4" x2="303.3" y2="71.0" stroke="#7080b0" stroke-width="0.9" />
<line x1="303.3" y1="71.0" x2="361.0" y2="71.0" stroke="#7080b0" stroke-width="0.9" />
<g filter="url(#blur03)">
<g fill="#4a6ad8" opacity="0.55">
<rect x="318.7" y="36.1" width="0.8" height="0.8"/>
<rect x="311.5" y="35.5" width="0.8" height="0.8"/>
<rect x="316.2" y="32.3" width="0.8" height="0.8"/>
<rect x="331.3" y="33.4" width="0.8" height="0.8"/>
<rect x="317.7" y="34.8" width="0.8" height="0.8"/>
<rect x="325.9" y="32.9" width="0.8" height="0.8"/>
<rect x="322.1" y="30.6" width="0.8" height="0.8"/>
<rect x="315.4" y="31.9" width="0.8" height="0.8"/>
<rect x="308.7" y="29.2" width="0.8" height="0.8"/>
<rect x="306.6" y="32.4" width="0.8" height="0.8"/>
<rect x="316.8" y="32.2" width="0.8" height="0.8"/>
<rect x="318.5" y="29.7" width="0.8" height="0.8"/>
<rect x="317.4" y="33.6" width="0.8" height="0.8"/>
<rect x="323.3" y="30.9" width="0.8" height="0.8"/>
<rect x="315.2" y="28.0" width="0.8" height="0.8"/>
<rect x="314.5" y="27.5" width="0.8" height="0.8"/>
<rect x="308.1" y="35.8" width="0.8" height="0.8"/>
<rect x="320.3" y="32.2" width="0.8" height="0.8"/>
<rect x="321.2" y="34.3" width="0.8" height="0.8"/>
<rect x="325.3" y="32.4" width="0.8" height="0.8"/>
<rect x="313.9" y="31.5" width="0.8" height="0.8"/>
<rect x="311.1" y="32.9" width="0.8" height="0.8"/>
<rect x="312.5" y="35.7" width="0.8" height="0.8"/>
<rect x="304.9" y="30.3" width="0.8" height="0.8"/>
<rect x="311.3" y="27.8" width="0.8" height="0.8"/>
<rect x="331.3" y="27.0" width="0.8" height="0.8"/>
<rect x="316.0" y="31.7" width="0.8" height="0.8"/>
<rect x="329.6" y="28.0" width="0.8" height="0.8"/>
<rect x="325.5" y="31.2" width="0.8" height="0.8"/>
<rect x="316.9" y="31.3" width="0.8" height="0.8"/>
<rect x="322.5" y="30.2" width="0.8" height="0.8"/>
<rect x="317.4" y="33.9" width="0.8" height="0.8"/>
<rect x="330.9" y="27.0" width="0.8" height="0.8"/>
<rect x="328.7" y="35.4" width="0.8" height="0.8"/>
<rect x="314.6" y="33.8" width="0.8" height="0.8"/>
<rect x="314.7" y="37.1" width="0.8" height="0.8"/>
<rect x="319.5" y="32.5" width="0.8" height="0.8"/>
<rect x="316.4" y="32.5" width="0.8" height="0.8"/>
<rect x="316.8" y="30.8" width="0.8" height="0.8"/>
<rect x="349.5" y="43.6" width="0.8" height="0.8"/>
<rect x="331.8" y="59.6" width="0.8" height="0.8"/>
<rect x="331.4" y="56.0" width="0.8" height="0.8"/>
<rect x="335.7" y="63.8" width="0.8" height="0.8"/>
<rect x="329.4" y="54.4" width="0.8" height="0.8"/>
<rect x="348.5" y="60.7" width="0.8" height="0.8"/>
<rect x="339.2" y="52.9" width="0.8" height="0.8"/>
<rect x="323.6" y="59.1" width="0.8" height="0.8"/>
<rect x="326.3" y="49.6" width="0.8" height="0.8"/>
<rect x="322.6" y="53.5" width="0.8" height="0.8"/>
<rect x="341.9" y="54.0" width="0.8" height="0.8"/>
<rect x="321.4" y="61.7" width="0.8" height="0.8"/>
<rect x="333.5" y="62.9" width="0.8" height="0.8"/>
<rect x="342.6" y="55.8" width="0.8" height="0.8"/>
<rect x="331.8" y="56.7" width="0.8" height="0.8"/>
<rect x="323.9" y="61.7" width="0.8" height="0.8"/>
<rect x="344.0" y="58.2" width="0.8" height="0.8"/>
<rect x="331.1" y="55.2" width="0.8" height="0.8"/>
<rect x="326.8" y="51.4" width="0.8" height="0.8"/>
<rect x="329.8" y="51.1" width="0.8" height="0.8"/>
<rect x="329.5" y="46.0" width="0.8" height="0.8"/>
<rect x="335.8" y="57.3" width="0.8" height="0.8"/>
<rect x="323.8" y="40.9" width="0.8" height="0.8"/>
<rect x="332.9" y="64.7" width="0.8" height="0.8"/>
<rect x="327.1" y="53.6" width="0.8" height="0.8"/>
<rect x="328.5" y="61.6" width="0.8" height="0.8"/>
<rect x="325.7" y="63.9" width="0.8" height="0.8"/>
<rect x="330.6" y="63.5" width="0.8" height="0.8"/>
<rect x="333.3" y="55.4" width="0.8" height="0.8"/>
<rect x="321.2" y="52.2" width="0.8" height="0.8"/>
<rect x="330.9" y="61.6" width="0.8" height="0.8"/>
<rect x="335.0" y="52.1" width="0.8" height="0.8"/>
<rect x="336.3" y="63.9" width="0.8" height="0.8"/>
<rect x="331.8" y="53.9" width="0.8" height="0.8"/>
<rect x="329.8" y="62.7" width="0.8" height="0.8"/>
<rect x="337.3" y="50.5" width="0.8" height="0.8"/>
<rect x="336.0" y="53.6" width="0.8" height="0.8"/>
<rect x="327.0" y="65.7" width="0.8" height="0.8"/>
<rect x="339.6" y="51.9" width="0.8" height="0.8"/>
<rect x="333.6" y="60.5" width="0.8" height="0.8"/>
<rect x="327.9" y="56.2" width="0.8" height="0.8"/>
<rect x="338.3" y="44.5" width="0.8" height="0.8"/>
<rect x="335.6" y="62.2" width="0.8" height="0.8"/>
<rect x="337.0" y="47.6" width="0.8" height="0.8"/>
<rect x="335.5" y="51.0" width="0.8" height="0.8"/>
<rect x="337.6" y="61.2" width="0.8" height="0.8"/>
<rect x="334.7" y="51.6" width="0.8" height="0.8"/>
<rect x="328.3" y="63.0" width="0.8" height="0.8"/>
<rect x="325.8" y="60.5" width="0.8" height="0.8"/>
<rect x="337.1" y="55.0" width="0.8" height="0.8"/>
<rect x="352.2" y="57.5" width="0.8" height="0.8"/>
<rect x="350.2" y="42.9" width="0.8" height="0.8"/>
<rect x="315.1" y="63.9" width="0.8" height="0.8"/>
<rect x="338.1" y="54.8" width="0.8" height="0.8"/>
<rect x="332.6" y="43.7" width="0.8" height="0.8"/>
<rect x="328.0" y="49.8" width="0.8" height="0.8"/>
<rect x="331.2" y="63.2" width="0.8" height="0.8"/>
<rect x="333.4" y="59.6" width="0.8" height="0.8"/>
<rect x="327.4" y="54.0" width="0.8" height="0.8"/>
<rect x="333.9" y="55.0" width="0.8" height="0.8"/>
<rect x="343.1" y="50.9" width="0.8" height="0.8"/>
<rect x="348.1" y="50.1" width="0.8" height="0.8"/>
<rect x="341.5" y="51.6" width="0.8" height="0.8"/>
<rect x="346.2" y="58.0" width="0.8" height="0.8"/>
<rect x="336.2" y="62.2" width="0.8" height="0.8"/>
<rect x="327.9" y="49.7" width="0.8" height="0.8"/>
<rect x="316.8" y="65.5" width="0.8" height="0.8"/>
<rect x="327.4" y="52.9" width="0.8" height="0.8"/>
<rect x="319.2" y="58.7" width="0.8" height="0.8"/>
<rect x="329.8" y="60.7" width="0.8" height="0.8"/>
<rect x="318.6" y="54.2" width="0.8" height="0.8"/>
<rect x="339.7" y="67.9" width="0.8" height="0.8"/>
<rect x="345.8" y="51.0" width="0.8" height="0.8"/>
<rect x="333.4" y="56.2" width="0.8" height="0.8"/>
<rect x="322.0" y="46.9" width="0.8" height="0.8"/>
<rect x="339.1" y="58.7" width="0.8" height="0.8"/>
<rect x="331.9" y="65.5" width="0.8" height="0.8"/>
<rect x="325.0" y="60.7" width="0.8" height="0.8"/>
<rect x="333.1" y="56.6" width="0.8" height="0.8"/>
<rect x="336.9" y="58.2" width="0.8" height="0.8"/>
<rect x="335.1" y="58.9" width="0.8" height="0.8"/>
<rect x="348.5" y="54.8" width="0.8" height="0.8"/>
<rect x="341.1" y="61.3" width="0.8" height="0.8"/>
<rect x="330.2" y="62.6" width="0.8" height="0.8"/>
<rect x="326.1" y="65.1" width="0.8" height="0.8"/>
<rect x="326.5" y="53.6" width="0.8" height="0.8"/>
<rect x="335.6" y="62.8" width="0.8" height="0.8"/>
<rect x="340.3" y="63.3" width="0.8" height="0.8"/>
<rect x="331.3" y="50.3" width="0.8" height="0.8"/>
<rect x="337.4" y="59.1" width="0.8" height="0.8"/>
<rect x="325.4" y="63.8" width="0.8" height="0.8"/>
<rect x="334.6" y="50.3" width="0.8" height="0.8"/>
<rect x="336.5" y="47.7" width="0.8" height="0.8"/>
<rect x="326.0" y="59.8" width="0.8" height="0.8"/>
<rect x="320.5" y="57.3" width="0.8" height="0.8"/>
<rect x="322.2" y="62.2" width="0.8" height="0.8"/>
<rect x="327.2" y="58.3" width="0.8" height="0.8"/>
<rect x="321.0" y="54.6" width="0.8" height="0.8"/>
<rect x="340.6" y="60.2" width="0.8" height="0.8"/>
<rect x="318.3" y="63.5" width="0.8" height="0.8"/>
<rect x="340.1" y="54.4" width="0.8" height="0.8"/>
<rect x="344.3" y="49.6" width="0.8" height="0.8"/>
<rect x="332.3" y="64.8" width="0.8" height="0.8"/>
<rect x="343.5" y="66.0" width="0.8" height="0.8"/>
<rect x="324.2" y="44.5" width="0.8" height="0.8"/>
<rect x="336.1" y="47.0" width="0.8" height="0.8"/>
<rect x="331.9" y="48.0" width="0.8" height="0.8"/>
<rect x="348.2" y="58.9" width="0.8" height="0.8"/>
<rect x="346.4" y="52.6" width="0.8" height="0.8"/>
<rect x="344.7" y="50.1" width="0.8" height="0.8"/>
<rect x="345.8" y="54.5" width="0.8" height="0.8"/>
<rect x="346.1" y="49.1" width="0.8" height="0.8"/>
<rect x="351.1" y="54.8" width="0.8" height="0.8"/>
<rect x="349.4" y="63.1" width="0.8" height="0.8"/>
<rect x="341.4" y="39.0" width="0.8" height="0.8"/>
<rect x="348.9" y="49.4" width="0.8" height="0.8"/>
<rect x="344.8" y="50.4" width="0.8" height="0.8"/>
<rect x="345.0" y="43.0" width="0.8" height="0.8"/>
<rect x="344.1" y="48.8" width="0.8" height="0.8"/>
<rect x="344.4" y="33.8" width="0.8" height="0.8"/>
<rect x="347.4" y="55.2" width="0.8" height="0.8"/>
<rect x="338.5" y="46.6" width="0.8" height="0.8"/>
<rect x="344.6" y="57.5" width="0.8" height="0.8"/>
<rect x="344.5" y="63.6" width="0.8" height="0.8"/>
<rect x="344.6" y="44.5" width="0.8" height="0.8"/>
<rect x="342.1" y="58.4" width="0.8" height="0.8"/>
<rect x="342.4" y="59.2" width="0.8" height="0.8"/>
<rect x="348.1" y="57.2" width="0.8" height="0.8"/>
<rect x="348.1" y="51.1" width="0.8" height="0.8"/>
<rect x="344.5" y="47.8" width="0.8" height="0.8"/>
<rect x="342.4" y="40.0" width="0.8" height="0.8"/>
<rect x="342.6" y="43.9" width="0.8" height="0.8"/>
<rect x="339.5" y="53.7" width="0.8" height="0.8"/>
<rect x="346.1" y="49.8" width="0.8" height="0.8"/>
<rect x="349.3" y="60.0" width="0.8" height="0.8"/>
<rect x="348.2" y="47.7" width="0.8" height="0.8"/>
<rect x="339.3" y="57.0" width="0.8" height="0.8"/>
<rect x="345.6" y="58.3" width="0.8" height="0.8"/>
<rect x="346.0" y="62.6" width="0.8" height="0.8"/>
<rect x="343.5" y="57.8" width="0.8" height="0.8"/>
<rect x="341.4" y="34.0" width="0.8" height="0.8"/>
<rect x="342.9" y="64.5" width="0.8" height="0.8"/>
<rect x="338.6" y="60.6" width="0.8" height="0.8"/>
<rect x="342.1" y="49.3" width="0.8" height="0.8"/>
<rect x="344.7" y="54.2" width="0.8" height="0.8"/>
<rect x="341.1" y="53.5" width="0.8" height="0.8"/>
<rect x="346.1" y="59.2" width="0.8" height="0.8"/>
<rect x="311.2" y="66.6" width="0.8" height="0.8"/>
<rect x="305.9" y="50.1" width="0.8" height="0.8"/>
<rect x="323.0" y="34.2" width="0.8" height="0.8"/>
<rect x="323.7" y="38.5" width="0.8" height="0.8"/>
<rect x="311.6" y="49.8" width="0.8" height="0.8"/>
<rect x="319.4" y="67.0" width="0.8" height="0.8"/>
<rect x="322.1" y="40.9" width="0.8" height="0.8"/>
<rect x="320.6" y="56.6" width="0.8" height="0.8"/>
<rect x="323.4" y="65.3" width="0.8" height="0.8"/>
<rect x="330.2" y="28.0" width="0.8" height="0.8"/>
<rect x="314.3" y="59.6" width="0.8" height="0.8"/>
<rect x="317.5" y="43.0" width="0.8" height="0.8"/>
<rect x="332.2" y="60.5" width="0.8" height="0.8"/>
<rect x="315.8" y="58.9" width="0.8" height="0.8"/>
<rect x="306.2" y="39.3" width="0.8" height="0.8"/>
<rect x="326.1" y="48.5" width="0.8" height="0.8"/>
<rect x="308.4" y="53.4" width="0.8" height="0.8"/>
<rect x="321.0" y="63.4" width="0.8" height="0.8"/>
<rect x="326.6" y="44.7" width="0.8" height="0.8"/>
<rect x="313.6" y="46.3" width="0.8" height="0.8"/>
<rect x="315.9" y="65.5" width="0.8" height="0.8"/>
<rect x="332.3" y="64.3" width="0.8" height="0.8"/>
<rect x="321.4" y="45.1" width="0.8" height="0.8"/>
<rect x="326.1" y="43.8" width="0.8" height="0.8"/>
<rect x="320.1" y="28.0" width="0.8" height="0.8"/>
<rect x="314.2" y="65.3" width="0.8" height="0.8"/>
<rect x="308.8" y="30.1" width="0.8" height="0.8"/>
<rect x="316.5" y="68.0" width="0.8" height="0.8"/>
<rect x="331.1" y="43.7" width="0.8" height="0.8"/>
<rect x="313.7" y="46.7" width="0.8" height="0.8"/>
<rect x="309.6" y="48.4" width="0.8" height="0.8"/>
<rect x="315.3" y="30.3" width="0.8" height="0.8"/>
<rect x="312.8" y="44.9" width="0.8" height="0.8"/>
<rect x="310.3" y="34.6" width="0.8" height="0.8"/>
<rect x="315.4" y="42.9" width="0.8" height="0.8"/>
<rect x="322.5" y="45.2" width="0.8" height="0.8"/>
<rect x="311.0" y="64.7" width="0.8" height="0.8"/>
<rect x="308.6" y="39.2" width="0.8" height="0.8"/>
<rect x="312.0" y="37.4" width="0.8" height="0.8"/>
<rect x="315.9" y="54.9" width="0.8" height="0.8"/>
<rect x="331.0" y="56.0" width="0.8" height="0.8"/>
<rect x="318.3" y="33.0" width="0.8" height="0.8"/>
<rect x="317.4" y="36.7" width="0.8" height="0.8"/>
<rect x="317.1" y="59.7" width="0.8" height="0.8"/>
<rect x="319.8" y="45.5" width="0.8" height="0.8"/>
<rect x="311.2" y="47.7" width="0.8" height="0.8"/>
<rect x="319.0" y="36.9" width="0.8" height="0.8"/>
<rect x="313.5" y="58.6" width="0.8" height="0.8"/>
<rect x="307.5" y="66.6" width="0.8" height="0.8"/>
<rect x="323.4" y="54.2" width="0.8" height="0.8"/>
<rect x="321.6" y="51.4" width="0.8" height="0.8"/>
<rect x="320.6" y="29.0" width="0.8" height="0.8"/>
<rect x="320.3" y="55.1" width="0.8" height="0.8"/>
<rect x="305.1" y="57.9" width="0.8" height="0.8"/>
<rect x="324.0" y="29.7" width="0.8" height="0.8"/>
<rect x="313.8" y="44.3" width="0.8" height="0.8"/>
<rect x="313.3" y="52.7" width="0.8" height="0.8"/>
<rect x="306.5" y="45.3" width="0.8" height="0.8"/>
<rect x="320.0" y="56.7" width="0.8" height="0.8"/>
<rect x="318.4" y="45.1" width="0.8" height="0.8"/>
<rect x="326.4" y="44.3" width="0.8" height="0.8"/>
<rect x="306.7" y="42.8" width="0.8" height="0.8"/>
<rect x="315.1" y="38.7" width="0.8" height="0.8"/>
<rect x="324.6" y="37.4" width="0.8" height="0.8"/>
<rect x="306.3" y="36.5" width="0.8" height="0.8"/>
<rect x="333.4" y="48.3" width="0.8" height="0.8"/>
<rect x="312.5" y="36.1" width="0.8" height="0.8"/>
<rect x="308.1" y="46.0" width="0.8" height="0.8"/>
<rect x="321.8" y="61.8" width="0.8" height="0.8"/>
<rect x="328.3" y="51.3" width="0.8" height="0.8"/>
<rect x="312.1" y="37.7" width="0.8" height="0.8"/>
<rect x="321.8" y="43.9" width="0.8" height="0.8"/>
<rect x="321.3" y="31.8" width="0.8" height="0.8"/>
<rect x="326.1" y="51.5" width="0.8" height="0.8"/>
<rect x="318.4" y="52.8" width="0.8" height="0.8"/>
<rect x="309.9" y="69.7" width="0.8" height="0.8"/>
<rect x="316.4" y="41.9" width="0.8" height="0.8"/>
<rect x="325.7" y="35.4" width="0.8" height="0.8"/>
<rect x="330.8" y="39.6" width="0.8" height="0.8"/>
<rect x="317.5" y="37.0" width="0.8" height="0.8"/>
<rect x="324.2" y="38.2" width="0.8" height="0.8"/>
<rect x="318.4" y="34.2" width="0.8" height="0.8"/>
<rect x="320.1" y="50.2" width="0.8" height="0.8"/>
<rect x="323.3" y="51.8" width="0.8" height="0.8"/>
<rect x="323.6" y="59.9" width="0.8" height="0.8"/>
<rect x="314.5" y="33.8" width="0.8" height="0.8"/>
<rect x="306.5" y="56.2" width="0.8" height="0.8"/>
<rect x="314.6" y="60.6" width="0.8" height="0.8"/>
<rect x="318.4" y="35.9" width="0.8" height="0.8"/>
<rect x="316.4" y="36.7" width="0.8" height="0.8"/>
<rect x="310.4" y="58.7" width="0.8" height="0.8"/>
<rect x="312.7" y="43.1" width="0.8" height="0.8"/>
<rect x="324.2" y="48.1" width="0.8" height="0.8"/>
<rect x="319.0" y="41.5" width="0.8" height="0.8"/>
<rect x="312.3" y="50.0" width="0.8" height="0.8"/>
<rect x="319.4" y="55.1" width="0.8" height="0.8"/>
<rect x="313.5" y="52.1" width="0.8" height="0.8"/>
<rect x="322.3" y="49.0" width="0.8" height="0.8"/>
<rect x="323.1" y="60.1" width="0.8" height="0.8"/>
<rect x="319.8" y="48.9" width="0.8" height="0.8"/>
<rect x="309.3" y="51.9" width="0.8" height="0.8"/>
<rect x="317.2" y="44.3" width="0.8" height="0.8"/>
<rect x="310.6" y="54.9" width="0.8" height="0.8"/>
<rect x="341.0" y="53.2" width="0.8" height="0.8"/>
<rect x="318.8" y="53.2" width="0.8" height="0.8"/>
<rect x="312.7" y="49.1" width="0.8" height="0.8"/>
<rect x="315.4" y="58.8" width="0.8" height="0.8"/>
<rect x="324.3" y="63.1" width="0.8" height="0.8"/>
<rect x="320.9" y="58.0" width="0.8" height="0.8"/>
<rect x="324.6" y="56.6" width="0.8" height="0.8"/>
<rect x="329.7" y="60.3" width="0.8" height="0.8"/>
<rect x="322.0" y="65.9" width="0.8" height="0.8"/>
<rect x="327.6" y="55.5" width="0.8" height="0.8"/>
<rect x="319.5" y="63.8" width="0.8" height="0.8"/>
<rect x="311.1" y="50.0" width="0.8" height="0.8"/>
<rect x="321.3" y="61.8" width="0.8" height="0.8"/>
<rect x="326.3" y="62.4" width="0.8" height="0.8"/>
<rect x="323.3" y="63.2" width="0.8" height="0.8"/>
<rect x="335.7" y="64.4" width="0.8" height="0.8"/>
<rect x="327.4" y="60.0" width="0.8" height="0.8"/>
<rect x="333.2" y="61.1" width="0.8" height="0.8"/>
<rect x="329.4" y="51.5" width="0.8" height="0.8"/>
<rect x="324.5" y="61.5" width="0.8" height="0.8"/>
<rect x="317.4" y="68.4" width="0.8" height="0.8"/>
<rect x="326.0" y="61.3" width="0.8" height="0.8"/>
<rect x="329.5" y="65.3" width="0.8" height="0.8"/>
<rect x="314.4" y="68.5" width="0.8" height="0.8"/>
<rect x="327.6" y="60.7" width="0.8" height="0.8"/>
<rect x="321.0" y="53.9" width="0.8" height="0.8"/>
<rect x="328.5" y="56.5" width="0.8" height="0.8"/>
<rect x="330.4" y="59.8" width="0.8" height="0.8"/>
<rect x="315.8" y="63.8" width="0.8" height="0.8"/>
<rect x="324.1" y="56.4" width="0.8" height="0.8"/>
<rect x="321.3" y="65.0" width="0.8" height="0.8"/>
<rect x="319.5" y="55.3" width="0.8" height="0.8"/>
<rect x="319.6" y="57.2" width="0.8" height="0.8"/>
<rect x="316.2" y="62.2" width="0.8" height="0.8"/>
<rect x="321.5" y="61.0" width="0.8" height="0.8"/>
<rect x="305.5" y="63.7" width="0.8" height="0.8"/>
<rect x="320.0" y="60.0" width="0.8" height="0.8"/>
<rect x="309.1" y="54.0" width="0.8" height="0.8"/>
<rect x="329.6" y="58.1" width="0.8" height="0.8"/>
<rect x="335.0" y="57.1" width="0.8" height="0.8"/>
<rect x="317.2" y="66.2" width="0.8" height="0.8"/>
<rect x="331.1" y="64.2" width="0.8" height="0.8"/>
<rect x="326.5" y="61.4" width="0.8" height="0.8"/>
<rect x="317.6" y="61.0" width="0.8" height="0.8"/>
<rect x="334.6" y="65.5" width="0.8" height="0.8"/>
<rect x="322.2" y="63.6" width="0.8" height="0.8"/>
<rect x="330.3" y="67.9" width="0.8" height="0.8"/>
<rect x="320.7" y="61.6" width="0.8" height="0.8"/>
<rect x="324.4" y="68.3" width="0.8" height="0.8"/>
<rect x="306.7" y="66.2" width="0.8" height="0.8"/>
<rect x="308.0" y="56.6" width="0.8" height="0.8"/>
<rect x="315.7" y="61.3" width="0.8" height="0.8"/>
<rect x="323.8" y="63.8" width="0.8" height="0.8"/>
<rect x="324.2" y="59.8" width="0.8" height="0.8"/>
<rect x="347.8" y="64.0" width="0.8" height="0.8"/>
<rect x="331.6" y="64.9" width="0.8" height="0.8"/>
<rect x="311.3" y="57.2" width="0.8" height="0.8"/>
<rect x="323.5" y="51.9" width="0.8" height="0.8"/>
<rect x="329.3" y="68.5" width="0.8" height="0.8"/>
<rect x="336.1" y="64.5" width="0.8" height="0.8"/>
<rect x="333.6" y="66.1" width="0.8" height="0.8"/>
<rect x="325.5" y="67.2" width="0.8" height="0.8"/>
<rect x="331.7" y="66.8" width="0.8" height="0.8"/>
<rect x="338.9" y="69.7" width="0.8" height="0.8"/>
<rect x="331.4" y="64.9" width="0.8" height="0.8"/>
<rect x="327.1" y="64.7" width="0.8" height="0.8"/>
<rect x="337.4" y="67.9" width="0.8" height="0.8"/>
<rect x="329.7" y="68.5" width="0.8" height="0.8"/>
<rect x="332.7" y="69.8" width="0.8" height="0.8"/>
<rect x="340.8" y="66.0" width="0.8" height="0.8"/>
<rect x="344.4" y="61.8" width="0.8" height="0.8"/>
<rect x="321.4" y="63.5" width="0.8" height="0.8"/>
<rect x="325.9" y="67.3" width="0.8" height="0.8"/>
<rect x="344.3" y="65.9" width="0.8" height="0.8"/>
<rect x="338.6" y="66.9" width="0.8" height="0.8"/>
<rect x="332.9" y="65.0" width="0.8" height="0.8"/>
<rect x="345.5" y="67.9" width="0.8" height="0.8"/>
<rect x="333.1" y="69.2" width="0.8" height="0.8"/>
<rect x="331.1" y="65.5" width="0.8" height="0.8"/>
<rect x="323.5" y="67.5" width="0.8" height="0.8"/>
<rect x="341.6" y="69.3" width="0.8" height="0.8"/>
<rect x="331.9" y="65.5" width="0.8" height="0.8"/>
<rect x="316.0" y="44.1" width="0.8" height="0.8"/>
<rect x="310.0" y="41.7" width="0.8" height="0.8"/>
<rect x="317.8" y="51.1" width="0.8" height="0.8"/>
<rect x="324.2" y="37.9" width="0.8" height="0.8"/>
<rect x="309.5" y="43.4" width="0.8" height="0.8"/>
<rect x="309.5" y="48.3" width="0.8" height="0.8"/>
<rect x="304.6" y="38.4" width="0.8" height="0.8"/>
<rect x="304.5" y="52.1" width="0.8" height="0.8"/>
<rect x="310.5" y="48.7" width="0.8" height="0.8"/>
<rect x="320.2" y="30.5" width="0.8" height="0.8"/>
<rect x="310.7" y="45.7" width="0.8" height="0.8"/>
<rect x="312.3" y="38.9" width="0.8" height="0.8"/>
<rect x="317.0" y="47.2" width="0.8" height="0.8"/>
<rect x="308.5" y="38.9" width="0.8" height="0.8"/>
<rect x="315.9" y="41.7" width="0.8" height="0.8"/>
<rect x="312.8" y="31.1" width="0.8" height="0.8"/>
<rect x="322.4" y="38.2" width="0.8" height="0.8"/>
<rect x="313.6" y="39.7" width="0.8" height="0.8"/>
<rect x="312.4" y="41.2" width="0.8" height="0.8"/>
<rect x="307.0" y="43.0" width="0.8" height="0.8"/>
<rect x="319.2" y="43.2" width="0.8" height="0.8"/>
<rect x="316.3" y="43.8" width="0.8" height="0.8"/>
<rect x="312.2" y="54.4" width="0.8" height="0.8"/>
<rect x="307.9" y="43.1" width="0.8" height="0.8"/>
<rect x="318.1" y="42.3" width="0.8" height="0.8"/>
<rect x="305.7" y="31.4" width="0.8" height="0.8"/>
<rect x="321.3" y="32.4" width="0.8" height="0.8"/>
<rect x="312.1" y="44.3" width="0.8" height="0.8"/>
<rect x="307.4" y="37.9" width="0.8" height="0.8"/>
<rect x="312.5" y="41.3" width="0.8" height="0.8"/>
<rect x="317.6" y="35.0" width="0.8" height="0.8"/>
<rect x="315.2" y="30.0" width="0.8" height="0.8"/>
<rect x="305.8" y="45.0" width="0.8" height="0.8"/>
<rect x="313.8" y="44.5" width="0.8" height="0.8"/>
</g></g>
<g filter="url(#blur1)">
<ellipse cx="333" cy="57" rx="10.5" ry="9.5" fill="#5a8ae0" opacity="0.45"/>
<ellipse cx="321" cy="32.4" rx="11" ry="3.4" fill="#5a8ae0" opacity="0.5"/>
<ellipse cx="344.6" cy="52.6" rx="4.6" ry="8.6" fill="#5a8ae0" opacity="0.45"/>
</g>
<ellipse cx="312" cy="32.6" rx="6" ry="1.8" fill="#4a70d8" opacity="0.5" filter="url(#blur03)"/>
<ellipse cx="324.2" cy="32.4" rx="8.2" ry="2.8" fill="url(#gflow2)"/>
<ellipse cx="328" cy="61" rx="7" ry="5" fill="#40a080" opacity="0.55" filter="url(#blur1)"/>
<ellipse cx="332.8" cy="56.2" rx="7" ry="7.2" fill="url(#gflowM)"/>
<ellipse cx="344.6" cy="52.6" rx="3.6" ry="7" fill="url(#gflow)"/>
<text x="303.7" y="88.5" font-size="5.6" fill="#222" stroke="#222" stroke-width="0.12" textLength="65.3" lengthAdjust="spacingAndGlyphs">Colony Forming Unit Assay</text>
<ellipse cx="317.7" cy="113.8" rx="18.0" ry="15.5" fill="#fff" stroke="#d0661c" stroke-width="0.55"/>
<ellipse cx="317.7" cy="113.0" rx="18.0" ry="15.5" fill="#fff" stroke="#d0661c" stroke-width="0.55"/>
<ellipse cx="317.7" cy="112.1" rx="18.0" ry="15.5" fill="#fff" stroke="#d0661c" stroke-width="0.55"/>
<ellipse cx="317.7" cy="111.2" rx="18.0" ry="15.5" fill="#fff" stroke="#d0661c" stroke-width="0.55"/>
<ellipse cx="317.7" cy="110.4" rx="18.0" ry="15.5" fill="#fff" stroke="#d0661c" stroke-width="0.55"/>
<ellipse cx="317.7" cy="109.5" rx="18.0" ry="15.5" fill="#fff" stroke="#d0661c" stroke-width="0.55"/>
<ellipse cx="317.7" cy="108.7" rx="18.4" ry="15.5" fill="#fce6d6" stroke="#d0661c" stroke-width="1.4"/>
<ellipse cx="317.7" cy="109.2" rx="16.799999999999997" ry="13.8" fill="none" stroke="#d0661c" stroke-width="0.5" opacity="0.8"/>
<ellipse cx="317.7" cy="109.7" rx="15.899999999999999" ry="12.8" fill="#f9e6da" stroke="#fff" stroke-width="0.7"/>
<circle cx="311.7" cy="103.7" r="0.7" fill="#f2b04c"/>
<circle cx="319.2" cy="103.7" r="0.7" fill="#f2b04c"/>
<circle cx="313.7" cy="107.7" r="0.7" fill="#f2b04c"/>
<circle cx="323.7" cy="107.7" r="0.7" fill="#f2b04c"/>
<circle cx="307.7" cy="109.7" r="0.7" fill="#f2b04c"/>
<circle cx="314.7" cy="112.7" r="0.7" fill="#f2b04c"/>
<circle cx="322.7" cy="112.7" r="0.7" fill="#f2b04c"/>
<circle cx="326.7" cy="112.7" r="0.7" fill="#f2b04c"/>
<circle cx="307.7" cy="115.7" r="0.7" fill="#f2b04c"/>
<circle cx="314.7" cy="118.7" r="0.7" fill="#f2b04c"/>
<circle cx="320.7" cy="117.7" r="0.7" fill="#f2b04c"/>
<circle cx="327.7" cy="113.7" r="0.7" fill="#f2b04c"/>
<ellipse cx="391.7" cy="113.8" rx="18.0" ry="15.5" fill="#fff" stroke="#d0661c" stroke-width="0.55"/>
<ellipse cx="391.7" cy="113.0" rx="18.0" ry="15.5" fill="#fff" stroke="#d0661c" stroke-width="0.55"/>
<ellipse cx="391.7" cy="112.1" rx="18.0" ry="15.5" fill="#fff" stroke="#d0661c" stroke-width="0.55"/>
<ellipse cx="391.7" cy="111.2" rx="18.0" ry="15.5" fill="#fff" stroke="#d0661c" stroke-width="0.55"/>
<ellipse cx="391.7" cy="110.4" rx="18.0" ry="15.5" fill="#fff" stroke="#d0661c" stroke-width="0.55"/>
<ellipse cx="391.7" cy="109.5" rx="18.0" ry="15.5" fill="#fff" stroke="#d0661c" stroke-width="0.55"/>
<ellipse cx="391.7" cy="108.7" rx="18.4" ry="15.5" fill="#fce6d6" stroke="#d0661c" stroke-width="1.4"/>
<ellipse cx="391.7" cy="109.2" rx="16.799999999999997" ry="13.8" fill="none" stroke="#d0661c" stroke-width="0.5" opacity="0.8"/>
<ellipse cx="391.7" cy="109.7" rx="15.899999999999999" ry="12.8" fill="#f9e6da" stroke="#fff" stroke-width="0.7"/>
<path d="M384.2 103.7 l2.2 -1.2 l2.3 0.8 l0.6 2.3 l-1.8 1.7 l-2.8 -0.5 Z" fill="#555"/>
<path d="M400.3 112.2 l2.2 -1.2 l2.3 0.8 l0.6 2.3 l-1.8 1.7 l-2.8 -0.5 Z" fill="#555"/>
<circle cx="396.8" cy="102.3" r="0.9" fill="#d0142c"/>
<circle cx="377.59999999999997" cy="109.60000000000001" r="0.9" fill="#d0142c"/>
<circle cx="392.7" cy="117.4" r="0.9" fill="#d0142c"/>
<line x1="342.0" y1="109.2" x2="364.0" y2="109.2" stroke="#111" stroke-width="1" />
<path d="M363 106.6 L368.5 109.2 L363 111.8 Z" fill="#111"/>
<text x="342.5" y="105.6" font-size="5.4" fill="#222" stroke="#222" stroke-width="0.12">14 days</text>
<text x="342.5" y="117.2" font-size="5.4" fill="#222" stroke="#222" stroke-width="0.12">Methocult</text>
<text x="6.9" y="181.5" font-size="11.6" fill="#000" stroke="#000" stroke-width="0.45" font-weight="bold">B</text>
<text x="89.5" y="179.4" font-size="8.7" fill="#111" stroke="#111" stroke-width="0.15" textLength="22.2" lengthAdjust="spacingAndGlyphs">Day 9</text>
<text x="206.8" y="179.4" font-size="8.7" fill="#111" stroke="#111" stroke-width="0.15" textLength="26.5" lengthAdjust="spacingAndGlyphs">Day 13</text>
<text x="327.0" y="179.4" font-size="8.7" fill="#111" stroke="#111" stroke-width="0.15" textLength="27.5" lengthAdjust="spacingAndGlyphs">Day 20</text>
<text x="448.6" y="179.4" font-size="8.7" fill="#111" stroke="#111" stroke-width="0.15" textLength="27.3" lengthAdjust="spacingAndGlyphs">Day 30</text>
<text transform="translate(34.5,230.4) rotate(-90)" font-size="7.2" fill="#2a2a2a" stroke="#2a2a2a" stroke-width="0.12" text-anchor="middle" textLength="44.9" lengthAdjust="spacingAndGlyphs">% positive cells</text>
<text transform="translate(34.8,325.3) rotate(-90)" font-size="7.2" fill="#2a2a2a" stroke="#2a2a2a" stroke-width="0.12" text-anchor="middle" textLength="45.5" lengthAdjust="spacingAndGlyphs">% positive cells</text>
<text x="61.5" y="195.0" font-size="6.2" fill="#222" stroke="#222" stroke-width="0.12" textLength="78.3" lengthAdjust="spacingAndGlyphs">Hematopoietic Progenitors</text>
<line x1="56.7" y1="201.3" x2="56.7" y2="261.7" stroke="#2a2a2a" stroke-width="1.4" />
<line x1="56.0" y1="261.0" x2="144.2" y2="261.0" stroke="#2a2a2a" stroke-width="1.4" />
<line x1="53.7" y1="260.8" x2="56.7" y2="260.8" stroke="#2a2a2a" stroke-width="1.0" />
<text x="50.5" y="262.9" font-size="6.3" fill="#3a3a3a" stroke="#3a3a3a" stroke-width="0.12" text-anchor="end">0</text>
<line x1="53.7" y1="241.5" x2="56.7" y2="241.5" stroke="#2a2a2a" stroke-width="1.0" />
<text x="50.5" y="243.7" font-size="6.3" fill="#3a3a3a" stroke="#3a3a3a" stroke-width="0.12" text-anchor="end">50</text>
<line x1="53.7" y1="222.2" x2="56.7" y2="222.2" stroke="#2a2a2a" stroke-width="1.0" />
<text x="50.5" y="224.4" font-size="6.3" fill="#3a3a3a" stroke="#3a3a3a" stroke-width="0.12" text-anchor="end">100</text>
<line x1="53.7" y1="203.0" x2="56.7" y2="203.0" stroke="#2a2a2a" stroke-width="1.0" />
<text x="50.5" y="205.2" font-size="6.3" fill="#3a3a3a" stroke="#3a3a3a" stroke-width="0.12" text-anchor="end">150</text>
<line x1="71.2" y1="261.0" x2="71.2" y2="263.8" stroke="#2a2a2a" stroke-width="1.0" />
<text x="71.2" y="272.6" font-size="6.6" fill="#2a2a2a" stroke="#2a2a2a" stroke-width="0.12" text-anchor="middle" textLength="20.7" lengthAdjust="spacingAndGlyphs">Control</text>
<line x1="100.4" y1="261.0" x2="100.4" y2="263.8" stroke="#2a2a2a" stroke-width="1.0" />
<text x="100.4" y="272.6" font-size="6.6" fill="#2a2a2a" stroke="#2a2a2a" stroke-width="0.12" text-anchor="middle">P1</text>
<line x1="129.8" y1="261.0" x2="129.8" y2="263.8" stroke="#2a2a2a" stroke-width="1.0" />
<text x="129.8" y="272.6" font-size="6.6" fill="#2a2a2a" stroke="#2a2a2a" stroke-width="0.12" text-anchor="middle">P2</text>
<path d="M71.2 210.6 V209.0 H129.8 V210.6" fill="none" stroke="#222" stroke-width="1.0"/>
<text x="100.5" y="209.2" font-size="5.0" fill="#333" stroke="#333" stroke-width="0.12" text-anchor="middle">***</text>
<path d="M71.2 217.4 V215.8 H100.4 V217.4" fill="none" stroke="#222" stroke-width="1.0"/>
<text x="85.8" y="216.0" font-size="5.0" fill="#333" stroke="#333" stroke-width="0.12" text-anchor="middle">**</text>
<circle cx="71.4" cy="223.6" r="1.15" fill="#24325e"/>
<circle cx="69.5" cy="225.0" r="1.15" fill="#24325e"/>
<circle cx="73.1" cy="228.3" r="1.15" fill="#24325e"/>
<circle cx="67.7" cy="233.0" r="1.15" fill="#24325e"/>
<circle cx="71.2" cy="233.9" r="1.15" fill="#24325e"/>
<circle cx="74.9" cy="233.9" r="1.15" fill="#24325e"/>
<circle cx="64.2" cy="237.1" r="1.15" fill="#24325e"/>
<circle cx="67.7" cy="238.3" r="1.15" fill="#24325e"/>
<circle cx="71.2" cy="238.7" r="1.15" fill="#24325e"/>
<circle cx="74.9" cy="238.3" r="1.15" fill="#24325e"/>
<circle cx="78.3" cy="237.3" r="1.15" fill="#24325e"/>
<circle cx="68.6" cy="241.8" r="1.15" fill="#24325e"/>
<circle cx="71.2" cy="243.2" r="1.15" fill="#24325e"/>
<circle cx="73.9" cy="242.7" r="1.15" fill="#24325e"/>
<circle cx="76.2" cy="241.8" r="1.15" fill="#24325e"/>
<circle cx="65.9" cy="245.1" r="1.15" fill="#24325e"/>
<circle cx="69.5" cy="247.7" r="1.15" fill="#24325e"/>
<circle cx="73.0" cy="248.0" r="1.15" fill="#24325e"/>
<circle cx="76.5" cy="246.7" r="1.15" fill="#24325e"/>
<circle cx="67.7" cy="250.6" r="1.15" fill="#24325e"/>
<circle cx="74.9" cy="250.9" r="1.15" fill="#24325e"/>
<circle cx="71.2" cy="253.2" r="1.15" fill="#24325e"/>
<rect x="97.4" y="222.2" width="2.0" height="2.0" fill="#24325e"/>
<rect x="101.0" y="222.7" width="2.0" height="2.0" fill="#24325e"/>
<rect x="91.2" y="225.3" width="2.0" height="2.0" fill="#24325e"/>
<rect x="94.3" y="225.8" width="2.0" height="2.0" fill="#24325e"/>
<rect x="97.4" y="227.4" width="2.0" height="2.0" fill="#24325e"/>
<rect x="101.0" y="227.4" width="2.0" height="2.0" fill="#24325e"/>
<rect x="104.7" y="225.8" width="2.0" height="2.0" fill="#24325e"/>
<rect x="107.8" y="224.8" width="2.0" height="2.0" fill="#24325e"/>
<rect x="95.8" y="233.6" width="2.0" height="2.0" fill="#24325e"/>
<rect x="99.5" y="234.9" width="2.0" height="2.0" fill="#24325e"/>
<rect x="103.1" y="232.1" width="2.0" height="2.0" fill="#24325e"/>
<rect x="97.4" y="240.7" width="2.0" height="2.0" fill="#24325e"/>
<rect x="101.0" y="238.8" width="2.0" height="2.0" fill="#24325e"/>
<path d="M122.3 223.9 L123.6 226.2 L121.0 226.2 Z" fill="#24325e"/>
<path d="M125.9 223.9 L127.2 226.2 L124.6 226.2 Z" fill="#24325e"/>
<path d="M129.5 223.9 L130.8 226.2 L128.2 226.2 Z" fill="#24325e"/>
<path d="M133.2 223.9 L134.5 226.2 L131.9 226.2 Z" fill="#24325e"/>
<path d="M136.3 223.9 L137.6 226.2 L135.0 226.2 Z" fill="#24325e"/>
<path d="M126.5 227.6 L127.8 229.9 L125.2 229.9 Z" fill="#24325e"/>
<path d="M130.0 227.6 L131.3 229.9 L128.7 229.9 Z" fill="#24325e"/>
<path d="M127.5 232.0 L128.8 234.3 L126.2 234.3 Z" fill="#24325e"/>
<path d="M131.1 230.1 L132.4 232.4 L129.8 232.4 Z" fill="#24325e"/>
<path d="M127.5 238.4 L128.8 240.7 L126.2 240.7 Z" fill="#24325e"/>
<path d="M131.1 238.4 L132.4 240.7 L129.8 240.7 Z" fill="#24325e"/>
<path d="M127.5 242.0 L128.8 244.3 L126.2 244.3 Z" fill="#24325e"/>
<path d="M131.1 242.0 L132.4 244.3 L129.8 244.3 Z" fill="#24325e"/>
<line x1="61.2" y1="240.5" x2="81.5" y2="240.5" stroke="#151515" stroke-width="1.2" />
<line x1="90.1" y1="228.1" x2="110.3" y2="228.1" stroke="#151515" stroke-width="1.2" />
<line x1="119.2" y1="227.3" x2="139.7" y2="227.3" stroke="#151515" stroke-width="1.2" />
<text x="168.8" y="195.0" font-size="6.2" fill="#222" stroke="#222" stroke-width="0.12" textLength="102.3" lengthAdjust="spacingAndGlyphs">ErythroMegakaryocytic Progenitors</text>
<line x1="176.3" y1="202.3" x2="176.3" y2="261.3" stroke="#2a2a2a" stroke-width="1.4" />
<line x1="175.6" y1="260.6" x2="263.8" y2="260.6" stroke="#2a2a2a" stroke-width="1.4" />
<line x1="173.3" y1="260.8" x2="176.3" y2="260.8" stroke="#2a2a2a" stroke-width="1.0" />
<text x="170.1" y="262.9" font-size="6.3" fill="#3a3a3a" stroke="#3a3a3a" stroke-width="0.12" text-anchor="end">0</text>
<line x1="173.3" y1="249.3" x2="176.3" y2="249.3" stroke="#2a2a2a" stroke-width="1.0" />
<text x="170.1" y="251.5" font-size="6.3" fill="#3a3a3a" stroke="#3a3a3a" stroke-width="0.12" text-anchor="end">20</text>
<line x1="173.3" y1="237.9" x2="176.3" y2="237.9" stroke="#2a2a2a" stroke-width="1.0" />
<text x="170.1" y="240.1" font-size="6.3" fill="#3a3a3a" stroke="#3a3a3a" stroke-width="0.12" text-anchor="end">40</text>
<line x1="173.3" y1="226.6" x2="176.3" y2="226.6" stroke="#2a2a2a" stroke-width="1.0" />
<text x="170.1" y="228.8" font-size="6.3" fill="#3a3a3a" stroke="#3a3a3a" stroke-width="0.12" text-anchor="end">60</text>
<line x1="173.3" y1="215.2" x2="176.3" y2="215.2" stroke="#2a2a2a" stroke-width="1.0" />
<text x="170.1" y="217.3" font-size="6.3" fill="#3a3a3a" stroke="#3a3a3a" stroke-width="0.12" text-anchor="end">80</text>
<line x1="173.3" y1="203.8" x2="176.3" y2="203.8" stroke="#2a2a2a" stroke-width="1.0" />
<text x="170.1" y="205.9" font-size="6.3" fill="#3a3a3a" stroke="#3a3a3a" stroke-width="0.12" text-anchor="end">100</text>
<line x1="190.9" y1="260.6" x2="190.9" y2="263.4" stroke="#2a2a2a" stroke-width="1.0" />
<text x="190.9" y="272.2" font-size="6.6" fill="#2a2a2a" stroke="#2a2a2a" stroke-width="0.12" text-anchor="middle" textLength="20.7" lengthAdjust="spacingAndGlyphs">Control</text>
<line x1="219.4" y1="260.6" x2="219.4" y2="263.4" stroke="#2a2a2a" stroke-width="1.0" />
<text x="219.4" y="272.2" font-size="6.6" fill="#2a2a2a" stroke="#2a2a2a" stroke-width="0.12" text-anchor="middle">P1</text>
<line x1="247.6" y1="260.6" x2="247.6" y2="263.4" stroke="#2a2a2a" stroke-width="1.0" />
<text x="247.6" y="272.2" font-size="6.6" fill="#2a2a2a" stroke="#2a2a2a" stroke-width="0.12" text-anchor="middle">P2</text>
<path d="M190.9 211.1 V209.5 H247.6 V211.1" fill="none" stroke="#222" stroke-width="1.0"/>
<text x="219.2" y="208.2" font-size="5.3" fill="#333" stroke="#333" stroke-width="0.12" text-anchor="middle">ns</text>
<path d="M190.9 217.9 V216.3 H219.4 V217.9" fill="none" stroke="#222" stroke-width="1.0"/>
<text x="205.2" y="215.0" font-size="5.3" fill="#333" stroke="#333" stroke-width="0.12" text-anchor="middle">ns</text>
<circle cx="190.7" cy="223.9" r="1.15" fill="#d41e3c"/>
<circle cx="191.4" cy="223.9" r="0.7" fill="#2a2c6a"/>
<circle cx="190.7" cy="228.6" r="1.15" fill="#d41e3c"/>
<circle cx="191.4" cy="228.6" r="0.7" fill="#2a2c6a"/>
<circle cx="186.9" cy="230.3" r="1.15" fill="#d41e3c"/>
<circle cx="187.6" cy="230.3" r="0.7" fill="#2a2c6a"/>
<circle cx="192.4" cy="230.7" r="1.15" fill="#d41e3c"/>
<circle cx="193.1" cy="230.7" r="0.7" fill="#2a2c6a"/>
<circle cx="195.0" cy="230.0" r="1.15" fill="#d41e3c"/>
<circle cx="195.7" cy="230.0" r="0.7" fill="#2a2c6a"/>
<circle cx="189.4" cy="232.2" r="1.15" fill="#d41e3c"/>
<circle cx="190.1" cy="232.2" r="0.7" fill="#2a2c6a"/>
<circle cx="182.7" cy="237.7" r="1.15" fill="#d41e3c"/>
<circle cx="183.4" cy="237.7" r="0.7" fill="#2a2c6a"/>
<circle cx="185.2" cy="238.5" r="1.15" fill="#d41e3c"/>
<circle cx="185.9" cy="238.5" r="0.7" fill="#2a2c6a"/>
<circle cx="188.2" cy="239.2" r="1.15" fill="#d41e3c"/>
<circle cx="188.9" cy="239.2" r="0.7" fill="#2a2c6a"/>
<circle cx="190.7" cy="237.3" r="1.15" fill="#d41e3c"/>
<circle cx="191.4" cy="237.3" r="0.7" fill="#2a2c6a"/>
<circle cx="193.3" cy="235.8" r="1.15" fill="#d41e3c"/>
<circle cx="194.0" cy="235.8" r="0.7" fill="#2a2c6a"/>
<circle cx="196.2" cy="236.8" r="1.15" fill="#d41e3c"/>
<circle cx="196.9" cy="236.8" r="0.7" fill="#2a2c6a"/>
<circle cx="199.2" cy="237.0" r="1.15" fill="#d41e3c"/>
<circle cx="199.9" cy="237.0" r="0.7" fill="#2a2c6a"/>
<circle cx="189.4" cy="242.4" r="1.15" fill="#d41e3c"/>
<circle cx="190.1" cy="242.4" r="0.7" fill="#2a2c6a"/>
<circle cx="192.2" cy="243.3" r="1.15" fill="#d41e3c"/>
<circle cx="192.9" cy="243.3" r="0.7" fill="#2a2c6a"/>
<circle cx="219.0" cy="219.5" r="1.15" fill="#d41e3c"/>
<circle cx="219.7" cy="219.5" r="0.7" fill="#2a2c6a"/>
<circle cx="211.8" cy="222.7" r="1.15" fill="#d41e3c"/>
<circle cx="212.5" cy="222.7" r="0.7" fill="#2a2c6a"/>
<circle cx="221.4" cy="222.4" r="1.15" fill="#d41e3c"/>
<circle cx="222.1" cy="222.4" r="0.7" fill="#2a2c6a"/>
<circle cx="216.8" cy="224.6" r="1.15" fill="#d41e3c"/>
<circle cx="217.5" cy="224.6" r="0.7" fill="#2a2c6a"/>
<circle cx="226.3" cy="225.4" r="1.15" fill="#d41e3c"/>
<circle cx="227.0" cy="225.4" r="0.7" fill="#2a2c6a"/>
<circle cx="219.0" cy="232.6" r="1.15" fill="#d41e3c"/>
<circle cx="219.7" cy="232.6" r="0.7" fill="#2a2c6a"/>
<circle cx="214.3" cy="236.7" r="1.15" fill="#d41e3c"/>
<circle cx="215.0" cy="236.7" r="0.7" fill="#2a2c6a"/>
<circle cx="223.9" cy="236.1" r="1.15" fill="#d41e3c"/>
<circle cx="224.6" cy="236.1" r="0.7" fill="#2a2c6a"/>
<circle cx="219.0" cy="239.2" r="1.15" fill="#d41e3c"/>
<circle cx="219.7" cy="239.2" r="0.7" fill="#2a2c6a"/>
<circle cx="214.3" cy="242.5" r="1.15" fill="#d41e3c"/>
<circle cx="215.0" cy="242.5" r="0.7" fill="#2a2c6a"/>
<circle cx="219.0" cy="242.7" r="1.15" fill="#d41e3c"/>
<circle cx="219.7" cy="242.7" r="0.7" fill="#2a2c6a"/>
<circle cx="223.9" cy="242.9" r="1.15" fill="#d41e3c"/>
<circle cx="224.6" cy="242.9" r="0.7" fill="#2a2c6a"/>
<path d="M239.8 226.6 L241.0 228.8 L238.6 228.8 Z" fill="#d41e3c"/>
<path d="M240.4 227.3 L241.1 228.6 L239.7 228.6 Z" fill="#2a2a6a"/>
<path d="M247.5 225.5 L248.7 227.7 L246.3 227.7 Z" fill="#d41e3c"/>
<path d="M248.1 226.2 L248.8 227.5 L247.4 227.5 Z" fill="#2a2a6a"/>
<path d="M251.3 225.3 L252.5 227.5 L250.1 227.5 Z" fill="#d41e3c"/>
<path d="M251.9 226.0 L252.6 227.3 L251.2 227.3 Z" fill="#2a2a6a"/>
<path d="M254.9 226.1 L256.1 228.3 L253.7 228.3 Z" fill="#d41e3c"/>
<path d="M255.5 226.8 L256.2 228.1 L254.8 228.1 Z" fill="#2a2a6a"/>
<path d="M243.6 228.8 L244.8 231.0 L242.4 231.0 Z" fill="#d41e3c"/>
<path d="M244.2 229.5 L244.9 230.8 L243.5 230.8 Z" fill="#2a2a6a"/>
<path d="M239.8 230.4 L241.0 232.6 L238.6 232.6 Z" fill="#d41e3c"/>
<path d="M240.4 231.1 L241.1 232.4 L239.7 232.4 Z" fill="#2a2a6a"/>
<path d="M243.6 231.3 L244.8 233.5 L242.4 233.5 Z" fill="#d41e3c"/>
<path d="M244.2 232.0 L244.9 233.3 L243.5 233.3 Z" fill="#2a2a6a"/>
<path d="M251.3 230.4 L252.5 232.6 L250.1 232.6 Z" fill="#d41e3c"/>
<path d="M251.9 231.1 L252.6 232.4 L251.2 232.4 Z" fill="#2a2a6a"/>
<path d="M254.9 231.3 L256.1 233.5 L253.7 233.5 Z" fill="#d41e3c"/>
<path d="M255.5 232.0 L256.2 233.3 L254.8 233.3 Z" fill="#2a2a6a"/>
<path d="M247.5 232.4 L248.7 234.6 L246.3 234.6 Z" fill="#d41e3c"/>
<path d="M248.1 233.1 L248.8 234.4 L247.4 234.4 Z" fill="#2a2a6a"/>
<path d="M239.8 234.6 L241.0 236.8 L238.6 236.8 Z" fill="#d41e3c"/>
<path d="M240.4 235.3 L241.1 236.6 L239.7 236.6 Z" fill="#2a2a6a"/>
<path d="M243.6 235.4 L244.8 237.6 L242.4 237.6 Z" fill="#d41e3c"/>
<path d="M244.2 236.1 L244.9 237.4 L243.5 237.4 Z" fill="#2a2a6a"/>
<path d="M247.5 234.6 L248.7 236.8 L246.3 236.8 Z" fill="#d41e3c"/>
<path d="M248.1 235.3 L248.8 236.6 L247.4 236.6 Z" fill="#2a2a6a"/>
<path d="M251.3 235.9 L252.5 238.1 L250.1 238.1 Z" fill="#d41e3c"/>
<path d="M251.9 236.6 L252.6 237.9 L251.2 237.9 Z" fill="#2a2a6a"/>
<path d="M254.9 236.1 L256.1 238.3 L253.7 238.3 Z" fill="#d41e3c"/>
<path d="M255.5 236.8 L256.2 238.1 L254.8 238.1 Z" fill="#2a2a6a"/>
<path d="M249.1 239.0 L250.3 241.2 L247.9 241.2 Z" fill="#d41e3c"/>
<path d="M249.7 239.7 L250.4 241.0 L249.0 241.0 Z" fill="#2a2a6a"/>
<path d="M241.8 241.6 L243.0 243.8 L240.6 243.8 Z" fill="#d41e3c"/>
<path d="M242.4 242.3 L243.1 243.6 L241.7 243.6 Z" fill="#2a2a6a"/>
<path d="M245.5 240.5 L246.7 242.7 L244.3 242.7 Z" fill="#d41e3c"/>
<path d="M246.1 241.2 L246.8 242.5 L245.4 242.5 Z" fill="#2a2a6a"/>
<path d="M245.5 242.7 L246.7 244.9 L244.3 244.9 Z" fill="#d41e3c"/>
<path d="M246.1 243.4 L246.8 244.7 L245.4 244.7 Z" fill="#2a2a6a"/>
<path d="M249.1 242.7 L250.3 244.9 L247.9 244.9 Z" fill="#d41e3c"/>
<path d="M249.7 243.4 L250.4 244.7 L249.0 244.7 Z" fill="#2a2a6a"/>
<path d="M252.9 244.7 L254.1 246.9 L251.7 246.9 Z" fill="#d41e3c"/>
<path d="M253.5 245.4 L254.2 246.7 L252.8 246.7 Z" fill="#2a2a6a"/>
<line x1="181.0" y1="236.8" x2="200.8" y2="236.8" stroke="#151515" stroke-width="1.2" />
<line x1="209.4" y1="234.5" x2="229.1" y2="234.5" stroke="#151515" stroke-width="1.2" />
<line x1="237.7" y1="235.2" x2="258.0" y2="235.2" stroke="#151515" stroke-width="1.2" />
<text x="300.0" y="195.0" font-size="6.2" fill="#222" stroke="#222" stroke-width="0.12" textLength="81.2" lengthAdjust="spacingAndGlyphs">Megakaryocytic Progenitors</text>
<line x1="296.8" y1="202.3" x2="296.8" y2="261.3" stroke="#2a2a2a" stroke-width="1.4" />
<line x1="296.1" y1="260.6" x2="384.5" y2="260.6" stroke="#2a2a2a" stroke-width="1.4" />
<line x1="293.8" y1="260.8" x2="296.8" y2="260.8" stroke="#2a2a2a" stroke-width="1.0" />
<text x="290.6" y="262.9" font-size="6.3" fill="#3a3a3a" stroke="#3a3a3a" stroke-width="0.12" text-anchor="end">0</text>
<line x1="293.8" y1="249.3" x2="296.8" y2="249.3" stroke="#2a2a2a" stroke-width="1.0" />
<text x="290.6" y="251.5" font-size="6.3" fill="#3a3a3a" stroke="#3a3a3a" stroke-width="0.12" text-anchor="end">20</text>
<line x1="293.8" y1="237.9" x2="296.8" y2="237.9" stroke="#2a2a2a" stroke-width="1.0" />
<text x="290.6" y="240.1" font-size="6.3" fill="#3a3a3a" stroke="#3a3a3a" stroke-width="0.12" text-anchor="end">40</text>
<line x1="293.8" y1="226.6" x2="296.8" y2="226.6" stroke="#2a2a2a" stroke-width="1.0" />
<text x="290.6" y="228.8" font-size="6.3" fill="#3a3a3a" stroke="#3a3a3a" stroke-width="0.12" text-anchor="end">60</text>
<line x1="293.8" y1="215.2" x2="296.8" y2="215.2" stroke="#2a2a2a" stroke-width="1.0" />
<text x="290.6" y="217.3" font-size="6.3" fill="#3a3a3a" stroke="#3a3a3a" stroke-width="0.12" text-anchor="end">80</text>
<line x1="293.8" y1="203.8" x2="296.8" y2="203.8" stroke="#2a2a2a" stroke-width="1.0" />
<text x="290.6" y="205.9" font-size="6.3" fill="#3a3a3a" stroke="#3a3a3a" stroke-width="0.12" text-anchor="end">100</text>
<line x1="310.5" y1="260.6" x2="310.5" y2="263.4" stroke="#2a2a2a" stroke-width="1.0" />
<text x="310.5" y="272.2" font-size="6.6" fill="#2a2a2a" stroke="#2a2a2a" stroke-width="0.12" text-anchor="middle" textLength="20.7" lengthAdjust="spacingAndGlyphs">Control</text>
<line x1="339.5" y1="260.6" x2="339.5" y2="263.4" stroke="#2a2a2a" stroke-width="1.0" />
<text x="339.5" y="272.2" font-size="6.6" fill="#2a2a2a" stroke="#2a2a2a" stroke-width="0.12" text-anchor="middle">P1</text>
<line x1="368.3" y1="260.6" x2="368.3" y2="263.4" stroke="#2a2a2a" stroke-width="1.0" />
<text x="368.3" y="272.2" font-size="6.6" fill="#2a2a2a" stroke="#2a2a2a" stroke-width="0.12" text-anchor="middle">P2</text>
<path d="M310.5 211.1 V209.5 H368.3 V211.1" fill="none" stroke="#222" stroke-width="1.0"/>
<text x="339.4" y="209.7" font-size="5.0" fill="#333" stroke="#333" stroke-width="0.12" text-anchor="middle">**</text>
<path d="M310.5 217.9 V216.3 H339.5 V217.9" fill="none" stroke="#222" stroke-width="1.0"/>
<text x="325.0" y="215.0" font-size="5.3" fill="#333" stroke="#333" stroke-width="0.12" text-anchor="middle">ns</text>
<circle cx="309.1" cy="235.2" r="1.15" fill="#1c3c86"/>
<circle cx="312.4" cy="237.1" r="1.15" fill="#1c3c86"/>
<circle cx="307.1" cy="240.0" r="1.15" fill="#1c3c86"/>
<circle cx="310.7" cy="240.8" r="1.15" fill="#1c3c86"/>
<circle cx="314.2" cy="240.8" r="1.15" fill="#1c3c86"/>
<circle cx="309.1" cy="243.2" r="1.15" fill="#1c3c86"/>
<circle cx="314.2" cy="244.5" r="1.15" fill="#1c3c86"/>
<circle cx="312.4" cy="247.0" r="1.15" fill="#1c3c86"/>
<circle cx="303.8" cy="249.6" r="1.15" fill="#1c3c86"/>
<circle cx="307.1" cy="250.8" r="1.15" fill="#1c3c86"/>
<circle cx="309.1" cy="248.4" r="1.15" fill="#1c3c86"/>
<circle cx="314.2" cy="249.6" r="1.15" fill="#1c3c86"/>
<circle cx="317.7" cy="249.2" r="1.15" fill="#1c3c86"/>
<circle cx="310.7" cy="252.5" r="1.15" fill="#1c3c86"/>
<circle cx="305.5" cy="255.2" r="1.15" fill="#1c3c86"/>
<circle cx="309.1" cy="256.7" r="1.15" fill="#1c3c86"/>
<circle cx="312.4" cy="255.9" r="1.15" fill="#1c3c86"/>
<circle cx="316.0" cy="254.4" r="1.15" fill="#1c3c86"/>
<rect x="342.2" y="231.3" width="2.0" height="2.0" fill="#1c3c86"/>
<rect x="335.3" y="233.0" width="2.0" height="2.0" fill="#1c3c86"/>
<rect x="338.8" y="234.2" width="2.0" height="2.0" fill="#1c3c86"/>
<rect x="333.5" y="239.5" width="2.0" height="2.0" fill="#1c3c86"/>
<rect x="336.9" y="240.8" width="2.0" height="2.0" fill="#1c3c86"/>
<rect x="340.5" y="239.8" width="2.0" height="2.0" fill="#1c3c86"/>
<rect x="344.1" y="239.2" width="2.0" height="2.0" fill="#1c3c86"/>
<rect x="333.5" y="246.2" width="2.0" height="2.0" fill="#1c3c86"/>
<rect x="338.8" y="244.8" width="2.0" height="2.0" fill="#1c3c86"/>
<rect x="340.8" y="246.7" width="2.0" height="2.0" fill="#1c3c86"/>
<rect x="344.1" y="246.0" width="2.0" height="2.0" fill="#1c3c86"/>
<rect x="336.9" y="249.1" width="2.0" height="2.0" fill="#1c3c86"/>
<path d="M367.1 228.2 L368.4 230.5 L365.8 230.5 Z" fill="#1c3c86"/>
<path d="M370.9 229.4 L372.2 231.7 L369.6 231.7 Z" fill="#1c3c86"/>
<path d="M363.6 233.4 L364.9 235.7 L362.3 235.7 Z" fill="#1c3c86"/>
<path d="M367.1 234.3 L368.4 236.6 L365.8 236.6 Z" fill="#1c3c86"/>
<path d="M370.9 233.7 L372.2 236.0 L369.6 236.0 Z" fill="#1c3c86"/>
<path d="M374.4 233.4 L375.7 235.7 L373.1 235.7 Z" fill="#1c3c86"/>
<path d="M361.0 238.6 L362.3 240.9 L359.7 240.9 Z" fill="#1c3c86"/>
<path d="M364.2 238.8 L365.5 241.1 L362.9 241.1 Z" fill="#1c3c86"/>
<path d="M376.9 238.8 L378.2 241.1 L375.6 241.1 Z" fill="#1c3c86"/>
<path d="M367.1 241.8 L368.4 244.1 L365.8 244.1 Z" fill="#1c3c86"/>
<path d="M370.9 241.8 L372.2 244.1 L369.6 244.1 Z" fill="#1c3c86"/>
<path d="M374.0 241.5 L375.3 243.8 L372.7 243.8 Z" fill="#1c3c86"/>
<path d="M361.0 244.9 L362.3 247.2 L359.7 247.2 Z" fill="#1c3c86"/>
<path d="M364.2 245.3 L365.5 247.6 L362.9 247.6 Z" fill="#1c3c86"/>
<path d="M367.4 247.0 L368.7 249.3 L366.1 249.3 Z" fill="#1c3c86"/>
<path d="M370.9 245.5 L372.2 247.8 L369.6 247.8 Z" fill="#1c3c86"/>
<path d="M374.0 245.3 L375.3 247.6 L372.7 247.6 Z" fill="#1c3c86"/>
<path d="M377.1 244.1 L378.4 246.4 L375.8 246.4 Z" fill="#1c3c86"/>
<line x1="300.9" y1="248.9" x2="320.9" y2="248.9" stroke="#151515" stroke-width="1.2" />
<line x1="330.2" y1="241.5" x2="349.5" y2="241.5" stroke="#151515" stroke-width="1.2" />
<line x1="359.0" y1="241.4" x2="378.9" y2="241.4" stroke="#151515" stroke-width="1.2" />
<text x="410.2" y="194.2" font-size="6.2" fill="#222" stroke="#222" stroke-width="0.12" textLength="102.8" lengthAdjust="spacingAndGlyphs">ErythroMegakaryocytic Progenitors</text>
<line x1="416.7" y1="202.3" x2="416.7" y2="261.5" stroke="#2a2a2a" stroke-width="1.4" />
<line x1="416.0" y1="260.8" x2="507.0" y2="260.8" stroke="#2a2a2a" stroke-width="1.4" />
<line x1="413.7" y1="261.0" x2="416.7" y2="261.0" stroke="#2a2a2a" stroke-width="1.0" />
<text x="410.5" y="263.2" font-size="6.3" fill="#3a3a3a" stroke="#3a3a3a" stroke-width="0.12" text-anchor="end">0</text>
<line x1="413.7" y1="249.3" x2="416.7" y2="249.3" stroke="#2a2a2a" stroke-width="1.0" />
<text x="410.5" y="251.5" font-size="6.3" fill="#3a3a3a" stroke="#3a3a3a" stroke-width="0.12" text-anchor="end">20</text>
<line x1="413.7" y1="237.7" x2="416.7" y2="237.7" stroke="#2a2a2a" stroke-width="1.0" />
<text x="410.5" y="239.9" font-size="6.3" fill="#3a3a3a" stroke="#3a3a3a" stroke-width="0.12" text-anchor="end">40</text>
<line x1="413.7" y1="226.0" x2="416.7" y2="226.0" stroke="#2a2a2a" stroke-width="1.0" />
<text x="410.5" y="228.2" font-size="6.3" fill="#3a3a3a" stroke="#3a3a3a" stroke-width="0.12" text-anchor="end">60</text>
<line x1="413.7" y1="214.4" x2="416.7" y2="214.4" stroke="#2a2a2a" stroke-width="1.0" />
<text x="410.5" y="216.6" font-size="6.3" fill="#3a3a3a" stroke="#3a3a3a" stroke-width="0.12" text-anchor="end">80</text>
<line x1="413.7" y1="202.7" x2="416.7" y2="202.7" stroke="#2a2a2a" stroke-width="1.0" />
<text x="410.5" y="204.9" font-size="6.3" fill="#3a3a3a" stroke="#3a3a3a" stroke-width="0.12" text-anchor="end">100</text>
<line x1="431.8" y1="260.8" x2="431.8" y2="263.6" stroke="#2a2a2a" stroke-width="1.0" />
<text x="431.8" y="272.4" font-size="6.6" fill="#2a2a2a" stroke="#2a2a2a" stroke-width="0.12" text-anchor="middle" textLength="20.7" lengthAdjust="spacingAndGlyphs">Control</text>
<line x1="461.1" y1="260.8" x2="461.1" y2="263.6" stroke="#2a2a2a" stroke-width="1.0" />
<text x="461.1" y="272.4" font-size="6.6" fill="#2a2a2a" stroke="#2a2a2a" stroke-width="0.12" text-anchor="middle">P1</text>
<line x1="490.2" y1="260.8" x2="490.2" y2="263.6" stroke="#2a2a2a" stroke-width="1.0" />
<text x="490.2" y="272.4" font-size="6.6" fill="#2a2a2a" stroke="#2a2a2a" stroke-width="0.12" text-anchor="middle">P2</text>
<path d="M431.8 210.8 V209.2 H490.2 V210.8" fill="none" stroke="#222" stroke-width="1.0"/>
<text x="461.0" y="209.4" font-size="5.0" fill="#333" stroke="#333" stroke-width="0.12" text-anchor="middle">***</text>
<path d="M431.8 217.8 V216.2 H461.1 V217.8" fill="none" stroke="#222" stroke-width="1.0"/>
<text x="446.5" y="216.4" font-size="5.0" fill="#333" stroke="#333" stroke-width="0.12" text-anchor="middle">**</text>
<circle cx="428.3" cy="248.2" r="1.15" fill="#d41e3c"/>
<circle cx="429.0" cy="248.2" r="0.7" fill="#2a2c6a"/>
<circle cx="431.5" cy="247.7" r="1.15" fill="#d41e3c"/>
<circle cx="432.2" cy="247.7" r="0.7" fill="#2a2c6a"/>
<circle cx="435.4" cy="249.4" r="1.15" fill="#d41e3c"/>
<circle cx="436.1" cy="249.4" r="0.7" fill="#2a2c6a"/>
<circle cx="426.2" cy="253.0" r="1.15" fill="#d41e3c"/>
<circle cx="426.9" cy="253.0" r="0.7" fill="#2a2c6a"/>
<circle cx="431.9" cy="251.7" r="1.15" fill="#d41e3c"/>
<circle cx="432.6" cy="251.7" r="0.7" fill="#2a2c6a"/>
<circle cx="436.8" cy="253.0" r="1.15" fill="#d41e3c"/>
<circle cx="437.5" cy="253.0" r="0.7" fill="#2a2c6a"/>
<circle cx="424.8" cy="257.0" r="1.15" fill="#d41e3c"/>
<circle cx="425.5" cy="257.0" r="0.7" fill="#2a2c6a"/>
<circle cx="429.7" cy="255.6" r="1.15" fill="#d41e3c"/>
<circle cx="430.4" cy="255.6" r="0.7" fill="#2a2c6a"/>
<circle cx="434.0" cy="256.0" r="1.15" fill="#d41e3c"/>
<circle cx="434.7" cy="256.0" r="0.7" fill="#2a2c6a"/>
<circle cx="438.9" cy="257.4" r="1.15" fill="#d41e3c"/>
<circle cx="439.6" cy="257.4" r="0.7" fill="#2a2c6a"/>
<circle cx="426.5" cy="259.2" r="1.15" fill="#d41e3c"/>
<circle cx="427.2" cy="259.2" r="0.7" fill="#2a2c6a"/>
<circle cx="429.2" cy="259.2" r="1.15" fill="#d41e3c"/>
<circle cx="429.9" cy="259.2" r="0.7" fill="#2a2c6a"/>
<circle cx="431.9" cy="259.2" r="1.15" fill="#d41e3c"/>
<circle cx="432.6" cy="259.2" r="0.7" fill="#2a2c6a"/>
<circle cx="434.5" cy="259.2" r="1.15" fill="#d41e3c"/>
<circle cx="435.2" cy="259.2" r="0.7" fill="#2a2c6a"/>
<circle cx="464.6" cy="232.3" r="1.15" fill="#d41e3c"/>
<circle cx="465.3" cy="232.3" r="0.7" fill="#2a2c6a"/>
<circle cx="457.0" cy="234.7" r="1.15" fill="#d41e3c"/>
<circle cx="457.7" cy="234.7" r="0.7" fill="#2a2c6a"/>
<circle cx="461.1" cy="235.3" r="1.15" fill="#d41e3c"/>
<circle cx="461.8" cy="235.3" r="0.7" fill="#2a2c6a"/>
<circle cx="461.1" cy="240.0" r="1.15" fill="#d41e3c"/>
<circle cx="461.8" cy="240.0" r="0.7" fill="#2a2c6a"/>
<circle cx="458.8" cy="244.7" r="1.15" fill="#d41e3c"/>
<circle cx="459.5" cy="244.7" r="0.7" fill="#2a2c6a"/>
<circle cx="462.8" cy="245.5" r="1.15" fill="#d41e3c"/>
<circle cx="463.5" cy="245.5" r="0.7" fill="#2a2c6a"/>
<circle cx="457.5" cy="250.7" r="1.15" fill="#d41e3c"/>
<circle cx="458.2" cy="250.7" r="0.7" fill="#2a2c6a"/>
<circle cx="464.1" cy="251.2" r="1.15" fill="#d41e3c"/>
<circle cx="464.8" cy="251.2" r="0.7" fill="#2a2c6a"/>
<circle cx="461.1" cy="253.5" r="1.15" fill="#d41e3c"/>
<circle cx="461.8" cy="253.5" r="0.7" fill="#2a2c6a"/>
<path d="M489.9 223.9 L491.1 226.1 L488.7 226.1 Z" fill="#d41e3c"/>
<path d="M490.5 224.6 L491.2 225.9 L489.8 225.9 Z" fill="#2a2a6a"/>
<path d="M491.7 227.8 L492.9 230.0 L490.5 230.0 Z" fill="#d41e3c"/>
<path d="M492.3 228.5 L493.0 229.8 L491.6 229.8 Z" fill="#2a2a6a"/>
<path d="M488.1 231.0 L489.3 233.2 L486.9 233.2 Z" fill="#d41e3c"/>
<path d="M488.7 231.7 L489.4 233.0 L488.0 233.0 Z" fill="#2a2a6a"/>
<path d="M493.5 232.7 L494.7 234.9 L492.3 234.9 Z" fill="#d41e3c"/>
<path d="M494.1 233.4 L494.8 234.7 L493.4 234.7 Z" fill="#2a2a6a"/>
<path d="M486.7 234.5 L487.9 236.7 L485.5 236.7 Z" fill="#d41e3c"/>
<path d="M487.3 235.2 L488.0 236.5 L486.6 236.5 Z" fill="#2a2a6a"/>
<path d="M490.3 235.7 L491.5 237.9 L489.1 237.9 Z" fill="#d41e3c"/>
<path d="M490.9 236.4 L491.6 237.7 L490.2 237.7 Z" fill="#2a2a6a"/>
<path d="M488.1 241.9 L489.3 244.1 L486.9 244.1 Z" fill="#d41e3c"/>
<path d="M488.7 242.6 L489.4 243.9 L488.0 243.9 Z" fill="#2a2a6a"/>
<path d="M492.0 241.6 L493.2 243.8 L490.8 243.8 Z" fill="#d41e3c"/>
<path d="M492.6 242.3 L493.3 243.6 L491.9 243.6 Z" fill="#2a2a6a"/>
<path d="M486.7 246.4 L487.9 248.6 L485.5 248.6 Z" fill="#d41e3c"/>
<path d="M487.3 247.1 L488.0 248.4 L486.6 248.4 Z" fill="#2a2a6a"/>
<path d="M490.3 246.9 L491.5 249.1 L489.1 249.1 Z" fill="#d41e3c"/>
<path d="M490.9 247.6 L491.6 248.9 L490.2 248.9 Z" fill="#2a2a6a"/>
<path d="M489.9 252.2 L491.1 254.4 L488.7 254.4 Z" fill="#d41e3c"/>
<path d="M490.5 252.9 L491.2 254.2 L489.8 254.2 Z" fill="#2a2a6a"/>
<path d="M493.5 252.6 L494.7 254.8 L492.3 254.8 Z" fill="#d41e3c"/>
<path d="M494.1 253.3 L494.8 254.6 L493.4 254.6 Z" fill="#2a2a6a"/>
<path d="M486.7 249.9 L487.9 252.1 L485.5 252.1 Z" fill="#d41e3c"/>
<path d="M487.3 250.6 L488.0 251.9 L486.6 251.9 Z" fill="#2a2a6a"/>
<line x1="421.9" y1="257.0" x2="441.4" y2="257.0" stroke="#151515" stroke-width="1.2" />
<line x1="451.1" y1="244.7" x2="470.7" y2="244.7" stroke="#151515" stroke-width="1.2" />
<line x1="480.3" y1="242.5" x2="500.3" y2="242.5" stroke="#151515" stroke-width="1.2" />
<text x="49.2" y="288.6" font-size="6.2" fill="#222" stroke="#222" stroke-width="0.12" textLength="102.8" lengthAdjust="spacingAndGlyphs">ErythroMegakaryocytic Progenitors</text>
<line x1="56.2" y1="296.4" x2="56.2" y2="356.6" stroke="#2a2a2a" stroke-width="1.4" />
<line x1="55.5" y1="355.9" x2="143.9" y2="355.9" stroke="#2a2a2a" stroke-width="1.4" />
<line x1="53.2" y1="355.8" x2="56.2" y2="355.8" stroke="#2a2a2a" stroke-width="1.0" />
<text x="50.0" y="358.0" font-size="6.3" fill="#3a3a3a" stroke="#3a3a3a" stroke-width="0.12" text-anchor="end">0</text>
<line x1="53.2" y1="344.1" x2="56.2" y2="344.1" stroke="#2a2a2a" stroke-width="1.0" />
<text x="50.0" y="346.3" font-size="6.3" fill="#3a3a3a" stroke="#3a3a3a" stroke-width="0.12" text-anchor="end">20</text>
<line x1="53.2" y1="332.4" x2="56.2" y2="332.4" stroke="#2a2a2a" stroke-width="1.0" />
<text x="50.0" y="334.6" font-size="6.3" fill="#3a3a3a" stroke="#3a3a3a" stroke-width="0.12" text-anchor="end">40</text>
<line x1="53.2" y1="320.8" x2="56.2" y2="320.8" stroke="#2a2a2a" stroke-width="1.0" />
<text x="50.0" y="323.0" font-size="6.3" fill="#3a3a3a" stroke="#3a3a3a" stroke-width="0.12" text-anchor="end">60</text>
<line x1="53.2" y1="309.1" x2="56.2" y2="309.1" stroke="#2a2a2a" stroke-width="1.0" />
<text x="50.0" y="311.3" font-size="6.3" fill="#3a3a3a" stroke="#3a3a3a" stroke-width="0.12" text-anchor="end">80</text>
<line x1="53.2" y1="297.4" x2="56.2" y2="297.4" stroke="#2a2a2a" stroke-width="1.0" />
<text x="50.0" y="299.6" font-size="6.3" fill="#3a3a3a" stroke="#3a3a3a" stroke-width="0.12" text-anchor="end">100</text>
<line x1="71.2" y1="355.9" x2="71.2" y2="358.7" stroke="#2a2a2a" stroke-width="1.0" />
<text x="71.2" y="367.5" font-size="6.6" fill="#2a2a2a" stroke="#2a2a2a" stroke-width="0.12" text-anchor="middle" textLength="20.7" lengthAdjust="spacingAndGlyphs">Control</text>
<line x1="100.5" y1="355.9" x2="100.5" y2="358.7" stroke="#2a2a2a" stroke-width="1.0" />
<text x="100.5" y="367.5" font-size="6.6" fill="#2a2a2a" stroke="#2a2a2a" stroke-width="0.12" text-anchor="middle">P1</text>
<line x1="129.4" y1="355.9" x2="129.4" y2="358.7" stroke="#2a2a2a" stroke-width="1.0" />
<text x="129.4" y="367.5" font-size="6.6" fill="#2a2a2a" stroke="#2a2a2a" stroke-width="0.12" text-anchor="middle">P2</text>
<path d="M71.2 299.3 V297.7 H129.4 V299.3" fill="none" stroke="#222" stroke-width="1.0"/>
<text x="100.3" y="297.9" font-size="5.0" fill="#333" stroke="#333" stroke-width="0.12" text-anchor="middle">***</text>
<path d="M71.2 306.7 V305.1 H100.5 V306.7" fill="none" stroke="#222" stroke-width="1.0"/>
<text x="85.8" y="305.3" font-size="5.0" fill="#333" stroke="#333" stroke-width="0.12" text-anchor="middle">**</text>
<circle cx="71.1" cy="325.5" r="1.15" fill="#d41e3c"/>
<circle cx="71.8" cy="325.5" r="0.7" fill="#2a2c6a"/>
<circle cx="67.5" cy="334.2" r="1.15" fill="#d41e3c"/>
<circle cx="68.2" cy="334.2" r="0.7" fill="#2a2c6a"/>
<circle cx="71.1" cy="335.8" r="1.15" fill="#d41e3c"/>
<circle cx="71.8" cy="335.8" r="0.7" fill="#2a2c6a"/>
<circle cx="74.7" cy="333.1" r="1.15" fill="#d41e3c"/>
<circle cx="75.4" cy="333.1" r="0.7" fill="#2a2c6a"/>
<circle cx="67.5" cy="338.4" r="1.15" fill="#d41e3c"/>
<circle cx="68.2" cy="338.4" r="0.7" fill="#2a2c6a"/>
<circle cx="74.7" cy="339.7" r="1.15" fill="#d41e3c"/>
<circle cx="75.4" cy="339.7" r="0.7" fill="#2a2c6a"/>
<circle cx="71.1" cy="341.0" r="1.15" fill="#d41e3c"/>
<circle cx="71.8" cy="341.0" r="0.7" fill="#2a2c6a"/>
<circle cx="71.1" cy="344.4" r="1.15" fill="#d41e3c"/>
<circle cx="71.8" cy="344.4" r="0.7" fill="#2a2c6a"/>
<circle cx="64.0" cy="346.0" r="1.15" fill="#d41e3c"/>
<circle cx="64.7" cy="346.0" r="0.7" fill="#2a2c6a"/>
<circle cx="67.5" cy="346.8" r="1.15" fill="#d41e3c"/>
<circle cx="68.2" cy="346.8" r="0.7" fill="#2a2c6a"/>
<circle cx="71.1" cy="348.4" r="1.15" fill="#d41e3c"/>
<circle cx="71.8" cy="348.4" r="0.7" fill="#2a2c6a"/>
<circle cx="74.7" cy="347.6" r="1.15" fill="#d41e3c"/>
<circle cx="75.4" cy="347.6" r="0.7" fill="#2a2c6a"/>
<circle cx="77.9" cy="346.3" r="1.15" fill="#d41e3c"/>
<circle cx="78.6" cy="346.3" r="0.7" fill="#2a2c6a"/>
<circle cx="96.3" cy="314.1" r="1.15" fill="#d41e3c"/>
<circle cx="97.0" cy="314.1" r="0.7" fill="#2a2c6a"/>
<circle cx="103.4" cy="313.7" r="1.15" fill="#d41e3c"/>
<circle cx="104.1" cy="313.7" r="0.7" fill="#2a2c6a"/>
<circle cx="100.0" cy="316.8" r="1.15" fill="#d41e3c"/>
<circle cx="100.7" cy="316.8" r="0.7" fill="#2a2c6a"/>
<circle cx="100.0" cy="322.0" r="1.15" fill="#d41e3c"/>
<circle cx="100.7" cy="322.0" r="0.7" fill="#2a2c6a"/>
<circle cx="98.4" cy="324.7" r="1.15" fill="#d41e3c"/>
<circle cx="99.1" cy="324.7" r="0.7" fill="#2a2c6a"/>
<circle cx="101.9" cy="327.9" r="1.15" fill="#d41e3c"/>
<circle cx="102.6" cy="327.9" r="0.7" fill="#2a2c6a"/>
<circle cx="98.4" cy="334.2" r="1.15" fill="#d41e3c"/>
<circle cx="99.1" cy="334.2" r="0.7" fill="#2a2c6a"/>
<circle cx="101.9" cy="333.9" r="1.15" fill="#d41e3c"/>
<circle cx="102.6" cy="333.9" r="0.7" fill="#2a2c6a"/>
<path d="M129.0 308.1 L130.2 310.3 L127.8 310.3 Z" fill="#d41e3c"/>
<path d="M129.6 308.8 L130.3 310.1 L128.9 310.1 Z" fill="#2a2a6a"/>
<path d="M127.1 314.0 L128.3 316.2 L125.9 316.2 Z" fill="#d41e3c"/>
<path d="M127.7 314.7 L128.4 316.0 L127.0 316.0 Z" fill="#2a2a6a"/>
<path d="M130.6 312.8 L131.8 315.0 L129.4 315.0 Z" fill="#d41e3c"/>
<path d="M131.2 313.5 L131.9 314.8 L130.5 314.8 Z" fill="#2a2a6a"/>
<path d="M127.1 319.5 L128.3 321.7 L125.9 321.7 Z" fill="#d41e3c"/>
<path d="M127.7 320.2 L128.4 321.5 L127.0 321.5 Z" fill="#2a2a6a"/>
<path d="M122.1 321.4 L123.3 323.6 L120.9 323.6 Z" fill="#d41e3c"/>
<path d="M122.7 322.1 L123.4 323.4 L122.0 323.4 Z" fill="#2a2a6a"/>
<path d="M132.1 320.3 L133.3 322.5 L130.9 322.5 Z" fill="#d41e3c"/>
<path d="M132.7 321.0 L133.4 322.3 L132.0 322.3 Z" fill="#2a2a6a"/>
<path d="M125.5 323.9 L126.7 326.1 L124.3 326.1 Z" fill="#d41e3c"/>
<path d="M126.1 324.6 L126.8 325.9 L125.4 325.9 Z" fill="#2a2a6a"/>
<path d="M129.0 323.9 L130.2 326.1 L127.8 326.1 Z" fill="#d41e3c"/>
<path d="M129.6 324.6 L130.3 325.9 L128.9 325.9 Z" fill="#2a2a6a"/>
<path d="M131.8 324.2 L133.0 326.4 L130.6 326.4 Z" fill="#d41e3c"/>
<path d="M132.4 324.9 L133.1 326.2 L131.7 326.2 Z" fill="#2a2a6a"/>
<path d="M125.5 327.7 L126.7 329.9 L124.3 329.9 Z" fill="#d41e3c"/>
<path d="M126.1 328.4 L126.8 329.7 L125.4 329.7 Z" fill="#2a2a6a"/>
<path d="M129.0 328.1 L130.2 330.3 L127.8 330.3 Z" fill="#d41e3c"/>
<path d="M129.6 328.8 L130.3 330.1 L128.9 330.1 Z" fill="#2a2a6a"/>
<path d="M125.5 336.5 L126.7 338.7 L124.3 338.7 Z" fill="#d41e3c"/>
<path d="M126.1 337.2 L126.8 338.5 L125.4 338.5 Z" fill="#2a2a6a"/>
<path d="M129.0 339.7 L130.2 341.9 L127.8 341.9 Z" fill="#d41e3c"/>
<path d="M129.6 340.4 L130.3 341.7 L128.9 341.7 Z" fill="#2a2a6a"/>
<path d="M132.1 337.6 L133.3 339.8 L130.9 339.8 Z" fill="#d41e3c"/>
<path d="M132.7 338.3 L133.4 339.6 L132.0 339.6 Z" fill="#2a2a6a"/>
<line x1="61.2" y1="340.5" x2="81.7" y2="340.5" stroke="#151515" stroke-width="1.2" />
<line x1="90.3" y1="323.6" x2="110.4" y2="323.6" stroke="#151515" stroke-width="1.2" />
<line x1="119.2" y1="325.0" x2="139.7" y2="325.0" stroke="#151515" stroke-width="1.2" />
<text x="191.1" y="288.6" font-size="6.2" fill="#222" stroke="#222" stroke-width="0.12" textLength="58.9" lengthAdjust="spacingAndGlyphs">Myeloid Progenitors</text>
<line x1="176.6" y1="296.4" x2="176.6" y2="356.6" stroke="#2a2a2a" stroke-width="1.4" />
<line x1="175.9" y1="355.9" x2="263.9" y2="355.9" stroke="#2a2a2a" stroke-width="1.4" />
<line x1="173.6" y1="355.8" x2="176.6" y2="355.8" stroke="#2a2a2a" stroke-width="1.0" />
<text x="170.4" y="358.0" font-size="6.3" fill="#3a3a3a" stroke="#3a3a3a" stroke-width="0.12" text-anchor="end">0</text>
<line x1="173.6" y1="344.3" x2="176.6" y2="344.3" stroke="#2a2a2a" stroke-width="1.0" />
<text x="170.4" y="346.5" font-size="6.3" fill="#3a3a3a" stroke="#3a3a3a" stroke-width="0.12" text-anchor="end">10</text>
<line x1="173.6" y1="332.8" x2="176.6" y2="332.8" stroke="#2a2a2a" stroke-width="1.0" />
<text x="170.4" y="335.0" font-size="6.3" fill="#3a3a3a" stroke="#3a3a3a" stroke-width="0.12" text-anchor="end">20</text>
<line x1="173.6" y1="321.4" x2="176.6" y2="321.4" stroke="#2a2a2a" stroke-width="1.0" />
<text x="170.4" y="323.6" font-size="6.3" fill="#3a3a3a" stroke="#3a3a3a" stroke-width="0.12" text-anchor="end">30</text>
<line x1="173.6" y1="309.9" x2="176.6" y2="309.9" stroke="#2a2a2a" stroke-width="1.0" />
<text x="170.4" y="312.1" font-size="6.3" fill="#3a3a3a" stroke="#3a3a3a" stroke-width="0.12" text-anchor="end">40</text>
<line x1="173.6" y1="298.4" x2="176.6" y2="298.4" stroke="#2a2a2a" stroke-width="1.0" />
<text x="170.4" y="300.6" font-size="6.3" fill="#3a3a3a" stroke="#3a3a3a" stroke-width="0.12" text-anchor="end">50</text>
<line x1="191.1" y1="355.9" x2="191.1" y2="358.7" stroke="#2a2a2a" stroke-width="1.0" />
<text x="191.1" y="367.5" font-size="6.6" fill="#2a2a2a" stroke="#2a2a2a" stroke-width="0.12" text-anchor="middle" textLength="20.7" lengthAdjust="spacingAndGlyphs">Control</text>
<line x1="219.3" y1="355.9" x2="219.3" y2="358.7" stroke="#2a2a2a" stroke-width="1.0" />
<text x="219.3" y="367.5" font-size="6.6" fill="#2a2a2a" stroke="#2a2a2a" stroke-width="0.12" text-anchor="middle">P1</text>
<line x1="248.8" y1="355.9" x2="248.8" y2="358.7" stroke="#2a2a2a" stroke-width="1.0" />
<text x="248.8" y="367.5" font-size="6.6" fill="#2a2a2a" stroke="#2a2a2a" stroke-width="0.12" text-anchor="middle">P2</text>
<path d="M191.1 300.0 V298.4 H248.8 V300.0" fill="none" stroke="#222" stroke-width="1.0"/>
<text x="219.9" y="298.6" font-size="5.0" fill="#333" stroke="#333" stroke-width="0.12" text-anchor="middle">***</text>
<path d="M191.1 307.4 V305.8 H219.3 V307.4" fill="none" stroke="#222" stroke-width="1.0"/>
<text x="205.2" y="306.0" font-size="5.0" fill="#333" stroke="#333" stroke-width="0.12" text-anchor="middle">***</text>
<circle cx="190.9" cy="315.2" r="1.15" fill="#e4870e"/>
<circle cx="190.9" cy="329.0" r="1.15" fill="#e4870e"/>
<circle cx="190.9" cy="334.9" r="1.15" fill="#e4870e"/>
<circle cx="189.3" cy="337.0" r="1.15" fill="#e4870e"/>
<circle cx="192.9" cy="339.0" r="1.15" fill="#e4870e"/>
<circle cx="190.9" cy="343.0" r="1.15" fill="#e4870e"/>
<circle cx="216.4" cy="351.3" r="1.15" fill="#e4870e"/>
<circle cx="211.9" cy="354.0" r="1.15" fill="#e4870e"/>
<circle cx="214.0" cy="354.5" r="1.15" fill="#e4870e"/>
<circle cx="218.0" cy="353.8" r="1.15" fill="#e4870e"/>
<circle cx="221.6" cy="352.4" r="1.15" fill="#e4870e"/>
<circle cx="224.0" cy="351.6" r="1.15" fill="#e4870e"/>
<circle cx="226.5" cy="354.0" r="1.15" fill="#e4870e"/>
<circle cx="220.0" cy="354.8" r="1.15" fill="#e4870e"/>
<circle cx="213.0" cy="352.8" r="1.15" fill="#e4870e"/>
<circle cx="223.0" cy="354.6" r="1.15" fill="#e4870e"/>
<path d="M245.0 349.0 L246.3 351.3 L243.7 351.3 Z" fill="#e4870e"/>
<path d="M248.8 349.4 L250.1 351.7 L247.5 351.7 Z" fill="#e4870e"/>
<path d="M252.3 348.6 L253.6 350.9 L251.0 350.9 Z" fill="#e4870e"/>
<path d="M241.8 352.3 L243.1 354.6 L240.5 354.6 Z" fill="#e4870e"/>
<path d="M255.5 352.6 L256.8 354.9 L254.2 354.9 Z" fill="#e4870e"/>
<path d="M244.0 353.6 L245.3 355.9 L242.7 355.9 Z" fill="#e4870e"/>
<path d="M247.0 353.8 L248.3 356.1 L245.7 356.1 Z" fill="#e4870e"/>
<path d="M250.0 353.9 L251.3 356.2 L248.7 356.2 Z" fill="#e4870e"/>
<path d="M253.0 353.6 L254.3 355.9 L251.7 355.9 Z" fill="#e4870e"/>
<line x1="181.2" y1="336.2" x2="200.9" y2="336.2" stroke="#151515" stroke-width="1.2" />
<line x1="209.5" y1="355.1" x2="229.7" y2="355.1" stroke="#151515" stroke-width="1.2" />
<line x1="239.0" y1="355.2" x2="258.0" y2="355.2" stroke="#151515" stroke-width="1.2" />
<text x="311.1" y="288.6" font-size="6.2" fill="#222" stroke="#222" stroke-width="0.12" textLength="58.9" lengthAdjust="spacingAndGlyphs">Myeloid Progenitors</text>
<line x1="296.1" y1="296.4" x2="296.1" y2="356.6" stroke="#2a2a2a" stroke-width="1.4" />
<line x1="295.4" y1="355.9" x2="384.8" y2="355.9" stroke="#2a2a2a" stroke-width="1.4" />
<line x1="293.1" y1="355.8" x2="296.1" y2="355.8" stroke="#2a2a2a" stroke-width="1.0" />
<text x="289.9" y="358.0" font-size="6.3" fill="#3a3a3a" stroke="#3a3a3a" stroke-width="0.12" text-anchor="end">0</text>
<line x1="293.1" y1="344.1" x2="296.1" y2="344.1" stroke="#2a2a2a" stroke-width="1.0" />
<text x="289.9" y="346.3" font-size="6.3" fill="#3a3a3a" stroke="#3a3a3a" stroke-width="0.12" text-anchor="end">20</text>
<line x1="293.1" y1="332.4" x2="296.1" y2="332.4" stroke="#2a2a2a" stroke-width="1.0" />
<text x="289.9" y="334.6" font-size="6.3" fill="#3a3a3a" stroke="#3a3a3a" stroke-width="0.12" text-anchor="end">40</text>
<line x1="293.1" y1="320.8" x2="296.1" y2="320.8" stroke="#2a2a2a" stroke-width="1.0" />
<text x="289.9" y="323.0" font-size="6.3" fill="#3a3a3a" stroke="#3a3a3a" stroke-width="0.12" text-anchor="end">60</text>
<line x1="293.1" y1="309.1" x2="296.1" y2="309.1" stroke="#2a2a2a" stroke-width="1.0" />
<text x="289.9" y="311.3" font-size="6.3" fill="#3a3a3a" stroke="#3a3a3a" stroke-width="0.12" text-anchor="end">80</text>
<line x1="293.1" y1="297.4" x2="296.1" y2="297.4" stroke="#2a2a2a" stroke-width="1.0" />
<text x="289.9" y="299.6" font-size="6.3" fill="#3a3a3a" stroke="#3a3a3a" stroke-width="0.12" text-anchor="end">100</text>
<line x1="310.9" y1="355.9" x2="310.9" y2="358.7" stroke="#2a2a2a" stroke-width="1.0" />
<text x="310.9" y="367.5" font-size="6.6" fill="#2a2a2a" stroke="#2a2a2a" stroke-width="0.12" text-anchor="middle" textLength="20.7" lengthAdjust="spacingAndGlyphs">Control</text>
<line x1="339.7" y1="355.9" x2="339.7" y2="358.7" stroke="#2a2a2a" stroke-width="1.0" />
<text x="339.7" y="367.5" font-size="6.6" fill="#2a2a2a" stroke="#2a2a2a" stroke-width="0.12" text-anchor="middle">P1</text>
<line x1="368.8" y1="355.9" x2="368.8" y2="358.7" stroke="#2a2a2a" stroke-width="1.0" />
<text x="368.8" y="367.5" font-size="6.6" fill="#2a2a2a" stroke="#2a2a2a" stroke-width="0.12" text-anchor="middle">P2</text>
<path d="M310.9 300.0 V298.4 H368.8 V300.0" fill="none" stroke="#222" stroke-width="1.0"/>
<text x="339.9" y="298.6" font-size="5.0" fill="#333" stroke="#333" stroke-width="0.12" text-anchor="middle">**</text>
<path d="M310.9 307.4 V305.8 H339.7 V307.4" fill="none" stroke="#222" stroke-width="1.0"/>
<text x="325.3" y="306.0" font-size="5.0" fill="#333" stroke="#333" stroke-width="0.12" text-anchor="middle">***</text>
<circle cx="307.4" cy="314.8" r="1.15" fill="#e4870e"/>
<circle cx="310.9" cy="315.2" r="1.15" fill="#e4870e"/>
<circle cx="314.2" cy="313.6" r="1.15" fill="#e4870e"/>
<circle cx="309.0" cy="323.2" r="1.15" fill="#e4870e"/>
<circle cx="312.5" cy="322.1" r="1.15" fill="#e4870e"/>
<circle cx="310.9" cy="331.8" r="1.15" fill="#e4870e"/>
<circle cx="307.4" cy="338.6" r="1.15" fill="#e4870e"/>
<circle cx="310.9" cy="340.4" r="1.15" fill="#e4870e"/>
<circle cx="314.2" cy="338.6" r="1.15" fill="#e4870e"/>
<circle cx="340.0" cy="335.5" r="1.15" fill="#e4870e"/>
<circle cx="338.1" cy="340.4" r="1.15" fill="#e4870e"/>
<circle cx="341.6" cy="343.4" r="1.15" fill="#e4870e"/>
<circle cx="331.6" cy="348.4" r="1.15" fill="#e4870e"/>
<circle cx="348.1" cy="348.4" r="1.15" fill="#e4870e"/>
<circle cx="344.8" cy="350.4" r="1.15" fill="#e4870e"/>
<circle cx="334.8" cy="351.7" r="1.15" fill="#e4870e"/>
<circle cx="338.1" cy="352.0" r="1.15" fill="#e4870e"/>
<circle cx="341.6" cy="351.7" r="1.15" fill="#e4870e"/>
<path d="M369.1 336.1 L370.4 338.4 L367.8 338.4 Z" fill="#e4870e"/>
<path d="M365.5 340.1 L366.8 342.4 L364.2 342.4 Z" fill="#e4870e"/>
<path d="M372.6 341.7 L373.9 344.0 L371.3 344.0 Z" fill="#e4870e"/>
<path d="M369.1 342.5 L370.4 344.8 L367.8 344.8 Z" fill="#e4870e"/>
<path d="M362.3 346.6 L363.6 348.9 L361.0 348.9 Z" fill="#e4870e"/>
<path d="M365.5 348.7 L366.8 351.0 L364.2 351.0 Z" fill="#e4870e"/>
<path d="M369.1 346.6 L370.4 348.9 L367.8 348.9 Z" fill="#e4870e"/>
<path d="M372.6 349.8 L373.9 352.1 L371.3 352.1 Z" fill="#e4870e"/>
<path d="M375.9 347.7 L377.2 350.0 L374.6 350.0 Z" fill="#e4870e"/>
<path d="M369.1 350.3 L370.4 352.6 L367.8 352.6 Z" fill="#e4870e"/>
<line x1="300.9" y1="323.2" x2="320.6" y2="323.2" stroke="#151515" stroke-width="1.2" />
<line x1="329.5" y1="348.8" x2="349.7" y2="348.8" stroke="#151515" stroke-width="1.2" />
<line x1="359.1" y1="347.2" x2="378.8" y2="347.2" stroke="#151515" stroke-width="1.2" />
<text x="432.3" y="288.6" font-size="6.2" fill="#222" stroke="#222" stroke-width="0.12" textLength="58.9" lengthAdjust="spacingAndGlyphs">Myeloid Progenitors</text>
<line x1="417.1" y1="296.4" x2="417.1" y2="356.6" stroke="#2a2a2a" stroke-width="1.4" />
<line x1="416.4" y1="355.9" x2="506.8" y2="355.9" stroke="#2a2a2a" stroke-width="1.4" />
<line x1="414.1" y1="355.8" x2="417.1" y2="355.8" stroke="#2a2a2a" stroke-width="1.0" />
<text x="410.9" y="358.0" font-size="6.3" fill="#3a3a3a" stroke="#3a3a3a" stroke-width="0.12" text-anchor="end">0</text>
<line x1="414.1" y1="344.2" x2="417.1" y2="344.2" stroke="#2a2a2a" stroke-width="1.0" />
<text x="410.9" y="346.4" font-size="6.3" fill="#3a3a3a" stroke="#3a3a3a" stroke-width="0.12" text-anchor="end">20</text>
<line x1="414.1" y1="332.5" x2="417.1" y2="332.5" stroke="#2a2a2a" stroke-width="1.0" />
<text x="410.9" y="334.7" font-size="6.3" fill="#3a3a3a" stroke="#3a3a3a" stroke-width="0.12" text-anchor="end">40</text>
<line x1="414.1" y1="320.9" x2="417.1" y2="320.9" stroke="#2a2a2a" stroke-width="1.0" />
<text x="410.9" y="323.1" font-size="6.3" fill="#3a3a3a" stroke="#3a3a3a" stroke-width="0.12" text-anchor="end">60</text>
<line x1="414.1" y1="309.2" x2="417.1" y2="309.2" stroke="#2a2a2a" stroke-width="1.0" />
<text x="410.9" y="311.4" font-size="6.3" fill="#3a3a3a" stroke="#3a3a3a" stroke-width="0.12" text-anchor="end">80</text>
<line x1="414.1" y1="297.6" x2="417.1" y2="297.6" stroke="#2a2a2a" stroke-width="1.0" />
<text x="410.9" y="299.8" font-size="6.3" fill="#3a3a3a" stroke="#3a3a3a" stroke-width="0.12" text-anchor="end">100</text>
<line x1="431.8" y1="355.9" x2="431.8" y2="358.7" stroke="#2a2a2a" stroke-width="1.0" />
<text x="431.8" y="367.5" font-size="6.6" fill="#2a2a2a" stroke="#2a2a2a" stroke-width="0.12" text-anchor="middle" textLength="20.7" lengthAdjust="spacingAndGlyphs">Control</text>
<line x1="461.1" y1="355.9" x2="461.1" y2="358.7" stroke="#2a2a2a" stroke-width="1.0" />
<text x="461.1" y="367.5" font-size="6.6" fill="#2a2a2a" stroke="#2a2a2a" stroke-width="0.12" text-anchor="middle">P1</text>
<line x1="490.0" y1="355.9" x2="490.0" y2="358.7" stroke="#2a2a2a" stroke-width="1.0" />
<text x="490.0" y="367.5" font-size="6.6" fill="#2a2a2a" stroke="#2a2a2a" stroke-width="0.12" text-anchor="middle">P2</text>
<path d="M431.8 300.0 V298.4 H490.0 V300.0" fill="none" stroke="#222" stroke-width="1.0"/>
<text x="460.9" y="298.6" font-size="5.0" fill="#333" stroke="#333" stroke-width="0.12" text-anchor="middle">***</text>
<path d="M431.8 307.2 V305.6 H461.1 V307.2" fill="none" stroke="#222" stroke-width="1.0"/>
<text x="446.5" y="305.8" font-size="5.0" fill="#333" stroke="#333" stroke-width="0.12" text-anchor="middle">***</text>
<circle cx="431.7" cy="309.5" r="1.15" fill="#e4870e"/>
<circle cx="430.1" cy="312.3" r="1.15" fill="#e4870e"/>
<circle cx="435.4" cy="313.4" r="1.15" fill="#e4870e"/>
<circle cx="433.8" cy="315.5" r="1.15" fill="#e4870e"/>
<circle cx="430.1" cy="317.9" r="1.15" fill="#e4870e"/>
<circle cx="430.1" cy="322.0" r="1.15" fill="#e4870e"/>
<circle cx="425.3" cy="324.4" r="1.15" fill="#e4870e"/>
<circle cx="433.8" cy="324.1" r="1.15" fill="#e4870e"/>
<circle cx="438.7" cy="325.2" r="1.15" fill="#e4870e"/>
<circle cx="428.5" cy="326.8" r="1.15" fill="#e4870e"/>
<circle cx="431.7" cy="328.1" r="1.15" fill="#e4870e"/>
<circle cx="435.4" cy="327.6" r="1.15" fill="#e4870e"/>
<circle cx="430.1" cy="329.2" r="1.15" fill="#e4870e"/>
<circle cx="433.8" cy="331.7" r="1.15" fill="#e4870e"/>
<circle cx="431.7" cy="337.6" r="1.15" fill="#e4870e"/>
<circle cx="460.8" cy="338.1" r="1.15" fill="#e4870e"/>
<circle cx="457.6" cy="343.8" r="1.15" fill="#e4870e"/>
<circle cx="464.5" cy="343.8" r="1.15" fill="#e4870e"/>
<circle cx="460.8" cy="346.7" r="1.15" fill="#e4870e"/>
<circle cx="451.9" cy="348.3" r="1.15" fill="#e4870e"/>
<circle cx="455.0" cy="348.6" r="1.15" fill="#e4870e"/>
<circle cx="469.4" cy="348.3" r="1.15" fill="#e4870e"/>
<circle cx="457.6" cy="350.6" r="1.15" fill="#e4870e"/>
<circle cx="460.8" cy="351.0" r="1.15" fill="#e4870e"/>
<circle cx="464.0" cy="351.0" r="1.15" fill="#e4870e"/>
<path d="M489.9 325.4 L491.2 327.7 L488.6 327.7 Z" fill="#e4870e"/>
<path d="M489.9 331.4 L491.2 333.7 L488.6 333.7 Z" fill="#e4870e"/>
<path d="M489.9 336.7 L491.2 339.0 L488.6 339.0 Z" fill="#e4870e"/>
<path d="M486.7 340.8 L488.0 343.1 L485.4 343.1 Z" fill="#e4870e"/>
<path d="M492.3 340.4 L493.6 342.7 L491.0 342.7 Z" fill="#e4870e"/>
<path d="M487.5 345.3 L488.8 347.6 L486.2 347.6 Z" fill="#e4870e"/>
<path d="M491.5 345.3 L492.8 347.6 L490.2 347.6 Z" fill="#e4870e"/>
<path d="M495.5 345.6 L496.8 347.9 L494.2 347.9 Z" fill="#e4870e"/>
<path d="M485.0 347.2 L486.3 349.5 L483.7 349.5 Z" fill="#e4870e"/>
<path d="M488.3 348.5 L489.6 350.8 L487.0 350.8 Z" fill="#e4870e"/>
<path d="M492.3 348.5 L493.6 350.8 L491.0 350.8 Z" fill="#e4870e"/>
<line x1="422.0" y1="324.4" x2="441.9" y2="324.4" stroke="#151515" stroke-width="1.2" />
<line x1="451.1" y1="348.3" x2="471.0" y2="348.3" stroke="#151515" stroke-width="1.2" />
<line x1="480.2" y1="344.1" x2="499.9" y2="344.1" stroke="#151515" stroke-width="1.2" />
<text x="6.3" y="394.2" font-size="11.6" fill="#000" stroke="#000" stroke-width="0.45" font-weight="bold">C</text>
<line x1="56.8" y1="385.6" x2="56.8" y2="414.0" stroke="#2a2a2a" stroke-width="1.4" />
<line x1="56.8" y1="419.9" x2="56.8" y2="493.6" stroke="#2a2a2a" stroke-width="1.4" />
<line x1="56.1" y1="492.9" x2="289.5" y2="492.9" stroke="#2a2a2a" stroke-width="1.4" />
<line x1="53.8" y1="387.9" x2="56.8" y2="387.9" stroke="#2a2a2a" stroke-width="1.0" />
<text x="50.9" y="390.1" font-size="6.4" fill="#3a3a3a" stroke="#3a3a3a" stroke-width="0.12" text-anchor="end">450</text>
<line x1="53.8" y1="399.2" x2="56.8" y2="399.2" stroke="#2a2a2a" stroke-width="1.0" />
<text x="50.9" y="401.4" font-size="6.4" fill="#3a3a3a" stroke="#3a3a3a" stroke-width="0.12" text-anchor="end">350</text>
<line x1="53.8" y1="410.5" x2="56.8" y2="410.5" stroke="#2a2a2a" stroke-width="1.0" />
<text x="50.9" y="412.7" font-size="6.4" fill="#3a3a3a" stroke="#3a3a3a" stroke-width="0.12" text-anchor="end">250</text>
<line x1="53.8" y1="432.6" x2="56.8" y2="432.6" stroke="#2a2a2a" stroke-width="1.0" />
<text x="50.9" y="434.8" font-size="6.4" fill="#3a3a3a" stroke="#3a3a3a" stroke-width="0.12" text-anchor="end">150</text>
<line x1="53.8" y1="452.7" x2="56.8" y2="452.7" stroke="#2a2a2a" stroke-width="1.0" />
<text x="50.9" y="454.9" font-size="6.4" fill="#3a3a3a" stroke="#3a3a3a" stroke-width="0.12" text-anchor="end">100</text>
<line x1="53.8" y1="472.8" x2="56.8" y2="472.8" stroke="#2a2a2a" stroke-width="1.0" />
<text x="50.9" y="475.0" font-size="6.4" fill="#3a3a3a" stroke="#3a3a3a" stroke-width="0.12" text-anchor="end">50</text>
<line x1="53.8" y1="492.9" x2="56.8" y2="492.9" stroke="#2a2a2a" stroke-width="1.0" />
<text x="50.9" y="495.1" font-size="6.4" fill="#3a3a3a" stroke="#3a3a3a" stroke-width="0.12" text-anchor="end">0</text>
<text transform="translate(34.9,438.9) rotate(-90)" font-size="8" fill="#2a2a2a" stroke="#2a2a2a" stroke-width="0.1" text-anchor="middle" textLength="77.8" lengthAdjust="spacingAndGlyphs">CFU number/ 20,000 cells</text>
<rect x="199.3" y="386.3" width="3.6" height="3.6" fill="#b10e3a" />
<text x="205.7" y="390.2" font-size="5.9" fill="#333" stroke="#333" stroke-width="0.06" textLength="34.4" lengthAdjust="spacingAndGlyphs">CFU-Erythroid</text>
<rect x="199.3" y="395.2" width="3.6" height="3.6" fill="#2e4e8c" />
<text x="205.7" y="399.1" font-size="5.9" fill="#333" stroke="#333" stroke-width="0.06" textLength="23.4" lengthAdjust="spacingAndGlyphs">CFU-Meg</text>
<rect x="199.3" y="404.1" width="3.6" height="3.6" fill="#e3921e" />
<text x="205.7" y="408.0" font-size="5.9" fill="#333" stroke="#333" stroke-width="0.06" textLength="32.3" lengthAdjust="spacingAndGlyphs">CFU-Myeloid</text>
<rect x="57.4" y="478.3" width="10.7" height="14.6" fill="#e3921e" />
<rect x="57.4" y="455.1" width="10.7" height="23.2" fill="#2e4e8c" />
<rect x="57.4" y="419.9" width="10.7" height="35.2" fill="#b10e3a" />
<rect x="57.4" y="397.6" width="10.7" height="16.4" fill="#b10e3a" />
<line x1="62.8" y1="397.6" x2="62.8" y2="391.5" stroke="#111" stroke-width="0.8" />
<line x1="61.1" y1="391.5" x2="64.3" y2="391.5" stroke="#111" stroke-width="0.9" />
<line x1="62.8" y1="455.0" x2="62.8" y2="445.3" stroke="#111" stroke-width="0.9" />
<line x1="61.1" y1="445.3" x2="64.3" y2="445.3" stroke="#111" stroke-width="0.9" />
<line x1="62.8" y1="478.0" x2="62.8" y2="466.3" stroke="#111" stroke-width="0.9" />
<line x1="61.1" y1="466.3" x2="64.3" y2="466.3" stroke="#111" stroke-width="0.9" />
<line x1="61.1" y1="477.5" x2="64.3" y2="477.5" stroke="#111" stroke-width="0.9" />
<rect x="70.0" y="482.6" width="10.4" height="10.3" fill="#e3921e" />
<rect x="70.0" y="482.0" width="10.4" height="0.6" fill="#2e4e8c" />
<rect x="70.0" y="467.2" width="10.4" height="14.8" fill="#b10e3a" />
<line x1="75.2" y1="467.2" x2="75.2" y2="448.3" stroke="#111" stroke-width="0.8" />
<line x1="73.6" y1="448.3" x2="76.8" y2="448.3" stroke="#111" stroke-width="0.9" />
<rect x="82.1" y="467.6" width="10.6" height="25.3" fill="#e3921e" />
<rect x="82.1" y="467.0" width="10.6" height="0.6" fill="#2e4e8c" />
<rect x="82.1" y="440.7" width="10.6" height="26.3" fill="#b10e3a" />
<line x1="87.4" y1="440.7" x2="87.4" y2="432.3" stroke="#111" stroke-width="0.8" />
<line x1="85.8" y1="432.3" x2="89.0" y2="432.3" stroke="#111" stroke-width="0.9" />
<rect x="106.2" y="482.4" width="10.6" height="10.5" fill="#e3921e" />
<rect x="106.2" y="457.0" width="10.6" height="25.4" fill="#2e4e8c" />
<rect x="106.2" y="434.4" width="10.6" height="22.6" fill="#b10e3a" />
<line x1="111.5" y1="434.4" x2="111.5" y2="423.2" stroke="#111" stroke-width="0.8" />
<line x1="109.9" y1="423.2" x2="113.1" y2="423.2" stroke="#111" stroke-width="0.9" />
<rect x="119.1" y="467.6" width="10.2" height="25.3" fill="#e3921e" />
<rect x="119.1" y="465.7" width="10.2" height="1.9" fill="#2e4e8c" />
<rect x="119.1" y="458.3" width="10.2" height="7.4" fill="#b10e3a" />
<line x1="124.2" y1="458.3" x2="124.2" y2="452.7" stroke="#111" stroke-width="0.8" />
<line x1="122.6" y1="452.7" x2="125.8" y2="452.7" stroke="#111" stroke-width="0.9" />
<rect x="131.1" y="467.8" width="10.4" height="25.1" fill="#e3921e" />
<rect x="131.1" y="466.6" width="10.4" height="1.2" fill="#2e4e8c" />
<rect x="131.1" y="465.0" width="10.4" height="1.6" fill="#b10e3a" />
<line x1="136.3" y1="465.0" x2="136.3" y2="457.4" stroke="#111" stroke-width="0.8" />
<line x1="134.7" y1="457.4" x2="137.9" y2="457.4" stroke="#111" stroke-width="0.9" />
<rect x="155.3" y="484.5" width="10.7" height="8.4" fill="#e3921e" />
<rect x="155.3" y="472.2" width="10.7" height="12.3" fill="#2e4e8c" />
<rect x="155.3" y="459.8" width="10.7" height="12.4" fill="#b10e3a" />
<line x1="160.7" y1="459.8" x2="160.7" y2="456.1" stroke="#111" stroke-width="0.8" />
<line x1="159.1" y1="456.1" x2="162.2" y2="456.1" stroke="#111" stroke-width="0.9" />
<rect x="167.5" y="484.8" width="10.6" height="8.1" fill="#e3921e" />
<rect x="167.5" y="480.7" width="10.6" height="4.1" fill="#2e4e8c" />
<rect x="167.5" y="476.8" width="10.6" height="3.9" fill="#b10e3a" />
<line x1="172.8" y1="476.8" x2="172.8" y2="473.3" stroke="#111" stroke-width="0.8" />
<line x1="171.2" y1="473.3" x2="174.4" y2="473.3" stroke="#111" stroke-width="0.9" />
<rect x="180.0" y="457.6" width="10.5" height="35.3" fill="#e3921e" />
<rect x="180.0" y="456.1" width="10.5" height="1.5" fill="#2e4e8c" />
<rect x="180.0" y="454.2" width="10.5" height="1.9" fill="#b10e3a" />
<line x1="185.2" y1="454.2" x2="185.2" y2="434.2" stroke="#111" stroke-width="0.8" />
<line x1="183.7" y1="434.2" x2="186.8" y2="434.2" stroke="#111" stroke-width="0.9" />
<rect x="204.2" y="486.0" width="10.7" height="6.9" fill="#e3921e" />
<rect x="204.2" y="482.6" width="10.7" height="3.4" fill="#2e4e8c" />
<rect x="204.2" y="472.3" width="10.7" height="10.3" fill="#b10e3a" />
<line x1="209.6" y1="472.3" x2="209.6" y2="467.9" stroke="#111" stroke-width="0.8" />
<line x1="208.0" y1="467.9" x2="211.2" y2="467.9" stroke="#111" stroke-width="0.9" />
<rect x="216.3" y="473.5" width="10.5" height="19.4" fill="#e3921e" />
<rect x="216.3" y="472.9" width="10.5" height="0.6" fill="#b10e3a" />
<line x1="221.6" y1="472.9" x2="221.6" y2="461.8" stroke="#111" stroke-width="0.8" />
<line x1="220.0" y1="461.8" x2="223.2" y2="461.8" stroke="#111" stroke-width="0.9" />
<rect x="228.4" y="460.2" width="10.7" height="32.7" fill="#e3921e" />
<rect x="228.4" y="459.4" width="10.7" height="0.8" fill="#b10e3a" />
<line x1="233.8" y1="459.4" x2="233.8" y2="440.2" stroke="#111" stroke-width="0.8" />
<line x1="232.2" y1="440.2" x2="235.3" y2="440.2" stroke="#111" stroke-width="0.9" />
<rect x="253.3" y="492.9" width="10.5" height="0.0" fill="#e3921e" />
<rect x="253.3" y="490.7" width="10.5" height="2.2" fill="#b10e3a" />
<line x1="258.6" y1="490.7" x2="258.6" y2="488.7" stroke="#111" stroke-width="0.8" />
<line x1="256.9" y1="488.7" x2="260.2" y2="488.7" stroke="#111" stroke-width="0.9" />
<rect x="265.2" y="432.5" width="10.7" height="60.4" fill="#e3921e" />
<rect x="265.2" y="424.4" width="10.7" height="8.1" fill="#b10e3a" />
<line x1="270.5" y1="424.4" x2="270.5" y2="424.0" stroke="#111" stroke-width="0.8" />
<line x1="268.9" y1="424.0" x2="272.1" y2="424.0" stroke="#111" stroke-width="0.9" />
<rect x="277.3" y="467.5" width="10.7" height="25.4" fill="#e3921e" />
<rect x="277.3" y="466.3" width="10.7" height="1.2" fill="#2e4e8c" />
<rect x="277.3" y="461.8" width="10.7" height="4.5" fill="#b10e3a" />
<line x1="282.6" y1="461.8" x2="282.6" y2="443.0" stroke="#111" stroke-width="0.8" />
<line x1="281.0" y1="443.0" x2="284.2" y2="443.0" stroke="#111" stroke-width="0.9" />
<line x1="75.2" y1="477.4" x2="75.2" y2="482.6" stroke="#111" stroke-width="0.9" />
<line x1="73.7" y1="477.4" x2="76.7" y2="477.4" stroke="#111" stroke-width="0.9" />
<line x1="111.5" y1="476.5" x2="111.5" y2="482.4" stroke="#111" stroke-width="0.9" />
<line x1="110.0" y1="476.5" x2="113.0" y2="476.5" stroke="#111" stroke-width="0.9" />
<line x1="111.5" y1="455.0" x2="111.5" y2="457.0" stroke="#111" stroke-width="0.9" />
<line x1="110.0" y1="455.0" x2="113.0" y2="455.0" stroke="#111" stroke-width="0.9" />
<line x1="124.2" y1="460.0" x2="124.2" y2="466.0" stroke="#111" stroke-width="0.9" />
<line x1="122.7" y1="460.0" x2="125.7" y2="460.0" stroke="#111" stroke-width="0.9" />
<line x1="136.3" y1="462.0" x2="136.3" y2="468.0" stroke="#111" stroke-width="0.9" />
<line x1="134.8" y1="462.0" x2="137.8" y2="462.0" stroke="#111" stroke-width="0.9" />
<line x1="160.6" y1="466.0" x2="160.6" y2="472.0" stroke="#111" stroke-width="0.9" />
<line x1="159.1" y1="466.0" x2="162.1" y2="466.0" stroke="#111" stroke-width="0.9" />
<line x1="160.6" y1="476.0" x2="160.6" y2="484.5" stroke="#111" stroke-width="0.9" />
<line x1="159.1" y1="476.0" x2="162.1" y2="476.0" stroke="#111" stroke-width="0.9" />
<line x1="172.8" y1="474.0" x2="172.8" y2="480.0" stroke="#111" stroke-width="0.9" />
<line x1="171.3" y1="474.0" x2="174.3" y2="474.0" stroke="#111" stroke-width="0.9" />
<line x1="209.5" y1="479.0" x2="209.5" y2="486.0" stroke="#111" stroke-width="0.9" />
<line x1="208.0" y1="479.0" x2="211.0" y2="479.0" stroke="#111" stroke-width="0.9" />
<line x1="209.5" y1="470.5" x2="209.5" y2="474.0" stroke="#111" stroke-width="0.9" />
<line x1="208.0" y1="470.5" x2="211.0" y2="470.5" stroke="#111" stroke-width="0.9" />
<line x1="282.6" y1="458.0" x2="282.6" y2="466.0" stroke="#111" stroke-width="0.9" />
<line x1="281.1" y1="458.0" x2="284.1" y2="458.0" stroke="#111" stroke-width="0.9" />
<line x1="221.5" y1="471.0" x2="221.5" y2="474.0" stroke="#111" stroke-width="0.9" />
<line x1="220.0" y1="471.0" x2="223.0" y2="471.0" stroke="#111" stroke-width="0.9" />
<line x1="56.6" y1="492.9" x2="56.6" y2="519.7" stroke="#333" stroke-width="0.8" />
<line x1="68.8" y1="492.9" x2="68.8" y2="512.2" stroke="#333" stroke-width="0.8" />
<line x1="81.1" y1="492.9" x2="81.1" y2="512.2" stroke="#333" stroke-width="0.8" />
<line x1="93.3" y1="492.9" x2="93.3" y2="512.2" stroke="#333" stroke-width="0.8" />
<text transform="translate(64.8,518.2) rotate(-90)" font-size="5.9" fill="#222" textLength="21.3" lengthAdjust="spacingAndGlyphs">Control</text>
<text transform="translate(77.0,503.8) rotate(-90)" font-size="5.9" fill="#222">P1</text>
<text transform="translate(89.3,503.8) rotate(-90)" font-size="5.9" fill="#222">P2</text>
<text x="75.4" y="528.9" font-size="6.3" fill="#111" stroke="#111" stroke-width="0.18" font-weight="bold" text-anchor="middle">D9</text>
<line x1="105.4" y1="492.9" x2="105.4" y2="519.7" stroke="#333" stroke-width="0.8" />
<line x1="117.7" y1="492.9" x2="117.7" y2="512.2" stroke="#333" stroke-width="0.8" />
<line x1="129.9" y1="492.9" x2="129.9" y2="512.2" stroke="#333" stroke-width="0.8" />
<line x1="142.2" y1="492.9" x2="142.2" y2="512.2" stroke="#333" stroke-width="0.8" />
<text transform="translate(113.6,518.2) rotate(-90)" font-size="5.9" fill="#222" textLength="21.3" lengthAdjust="spacingAndGlyphs">Control</text>
<text transform="translate(125.8,503.8) rotate(-90)" font-size="5.9" fill="#222">P1</text>
<text transform="translate(138.1,503.8) rotate(-90)" font-size="5.9" fill="#222">P2</text>
<text x="124.2" y="528.9" font-size="6.3" fill="#111" stroke="#111" stroke-width="0.18" font-weight="bold" text-anchor="middle">D13</text>
<line x1="154.2" y1="492.9" x2="154.2" y2="519.7" stroke="#333" stroke-width="0.8" />
<line x1="166.4" y1="492.9" x2="166.4" y2="512.2" stroke="#333" stroke-width="0.8" />
<line x1="178.7" y1="492.9" x2="178.7" y2="512.2" stroke="#333" stroke-width="0.8" />
<line x1="190.9" y1="492.9" x2="190.9" y2="512.2" stroke="#333" stroke-width="0.8" />
<text transform="translate(162.4,518.2) rotate(-90)" font-size="5.9" fill="#222" textLength="21.3" lengthAdjust="spacingAndGlyphs">Control</text>
<text transform="translate(174.6,503.8) rotate(-90)" font-size="5.9" fill="#222">P1</text>
<text transform="translate(186.9,503.8) rotate(-90)" font-size="5.9" fill="#222">P2</text>
<text x="173.0" y="528.9" font-size="6.3" fill="#111" stroke="#111" stroke-width="0.18" font-weight="bold" text-anchor="middle">D16</text>
<line x1="203.0" y1="492.9" x2="203.0" y2="519.7" stroke="#333" stroke-width="0.8" />
<line x1="215.2" y1="492.9" x2="215.2" y2="512.2" stroke="#333" stroke-width="0.8" />
<line x1="227.5" y1="492.9" x2="227.5" y2="512.2" stroke="#333" stroke-width="0.8" />
<line x1="239.7" y1="492.9" x2="239.7" y2="512.2" stroke="#333" stroke-width="0.8" />
<text transform="translate(211.2,518.2) rotate(-90)" font-size="5.9" fill="#222" textLength="21.3" lengthAdjust="spacingAndGlyphs">Control</text>
<text transform="translate(223.4,503.8) rotate(-90)" font-size="5.9" fill="#222">P1</text>
<text transform="translate(235.7,503.8) rotate(-90)" font-size="5.9" fill="#222">P2</text>
<text x="221.8" y="528.9" font-size="6.3" fill="#111" stroke="#111" stroke-width="0.18" font-weight="bold" text-anchor="middle">D20</text>
<line x1="251.8" y1="492.9" x2="251.8" y2="519.7" stroke="#333" stroke-width="0.8" />
<line x1="264.0" y1="492.9" x2="264.0" y2="512.2" stroke="#333" stroke-width="0.8" />
<line x1="276.3" y1="492.9" x2="276.3" y2="512.2" stroke="#333" stroke-width="0.8" />
<line x1="288.5" y1="492.9" x2="288.5" y2="512.2" stroke="#333" stroke-width="0.8" />
<text transform="translate(260.0,518.2) rotate(-90)" font-size="5.9" fill="#222" textLength="21.3" lengthAdjust="spacingAndGlyphs">Control</text>
<text transform="translate(272.2,503.8) rotate(-90)" font-size="5.9" fill="#222">P1</text>
<text transform="translate(284.5,503.8) rotate(-90)" font-size="5.9" fill="#222">P2</text>
<text x="270.6" y="528.9" font-size="6.3" fill="#111" stroke="#111" stroke-width="0.18" font-weight="bold" text-anchor="middle">D30</text>
<line x1="289.3" y1="492.9" x2="289.3" y2="512.2" stroke="#333" stroke-width="0.8" />
<text x="307.3" y="394.2" font-size="11.6" fill="#000" stroke="#000" stroke-width="0.45" font-weight="bold">D</text>
<svg x="322.2" y="400.2" width="58.7" height="45.8" viewBox="0 0 58.7 45.8">
<rect width="58.7" height="45.8" fill="#3e4a62"/>
<rect width="58.7" height="1.5" fill="#26262c"/>
<path d="M0 1.8 L54.7 1.3" stroke="#7a7068" stroke-width="0.6"/>
<path d="M55.300000000000004 0 L56.400000000000006 45.8" stroke="#e0d0a8" stroke-width="1.6"/>
<rect x="57.400000000000006" y="0" width="1.3" height="45.8" fill="#3a2a22"/>
<circle cx="52.7" cy="3" r="2.2" fill="#c07040" opacity="0.8" filter="url(#blur1)"/>
<g fill="#a89a8a" opacity="0.5" filter="url(#blur03)">
<circle cx="7.6" cy="28.5" r="0.71"/>
<circle cx="8.6" cy="27.1" r="0.54"/>
<circle cx="33.2" cy="37.2" r="0.56"/>
<circle cx="27.8" cy="18.9" r="0.40"/>
<circle cx="49.0" cy="35.8" r="0.60"/>
<circle cx="47.3" cy="20.2" r="0.56"/>
<circle cx="27.4" cy="25.7" r="0.51"/>
<circle cx="35.1" cy="26.8" r="0.37"/>
<circle cx="42.5" cy="26.5" r="0.47"/>
<circle cx="36.0" cy="11.9" r="0.57"/>
<circle cx="3.9" cy="24.0" r="0.48"/>
<circle cx="54.7" cy="23.4" r="0.60"/>
<circle cx="21.7" cy="31.9" r="0.39"/>
<circle cx="49.1" cy="32.7" r="0.45"/>
<circle cx="34.5" cy="14.3" r="0.73"/>
<circle cx="26.3" cy="23.7" r="0.35"/>
<circle cx="40.3" cy="16.8" r="0.74"/>
<circle cx="21.3" cy="26.8" r="0.56"/>
<circle cx="28.1" cy="14.6" r="0.29"/>
<circle cx="26.4" cy="18.0" r="0.37"/>
<circle cx="30.2" cy="26.5" r="0.65"/>
<circle cx="34.4" cy="37.8" r="0.47"/>
<circle cx="34.9" cy="42.1" r="0.32"/>
<circle cx="21.4" cy="19.3" r="0.46"/>
<circle cx="28.8" cy="33.3" r="0.74"/>
<circle cx="30.2" cy="14.4" r="0.69"/>
<circle cx="29.7" cy="35.7" r="0.68"/>
<circle cx="21.7" cy="19.7" r="0.74"/>
<circle cx="28.7" cy="33.0" r="0.64"/>
<circle cx="20.0" cy="32.8" r="0.29"/>
<circle cx="42.7" cy="32.5" r="0.37"/>
<circle cx="14.4" cy="17.1" r="0.48"/>
<circle cx="42.7" cy="20.5" r="0.54"/>
<circle cx="32.4" cy="18.3" r="0.33"/>
<circle cx="49.2" cy="11.9" r="0.37"/>
<circle cx="35.1" cy="42.3" r="0.72"/>
<circle cx="41.1" cy="13.0" r="0.46"/>
<circle cx="29.3" cy="26.0" r="0.73"/>
<circle cx="27.7" cy="42.7" r="0.38"/>
<circle cx="35.0" cy="9.5" r="0.40"/>
<circle cx="36.8" cy="41.1" r="0.28"/>
<circle cx="28.6" cy="39.2" r="0.68"/>
<circle cx="16.8" cy="17.6" r="0.71"/>
<circle cx="26.8" cy="26.1" r="0.38"/>
<circle cx="21.0" cy="25.4" r="0.34"/>
<circle cx="12.7" cy="35.5" r="0.32"/>
<circle cx="5.5" cy="43.2" r="0.74"/>
<circle cx="13.3" cy="8.7" r="0.54"/>
<circle cx="28.5" cy="26.5" r="0.26"/>
<circle cx="45.7" cy="14.0" r="0.73"/>
<circle cx="47.1" cy="26.3" r="0.49"/>
<circle cx="24.4" cy="13.6" r="0.75"/>
<circle cx="42.8" cy="30.9" r="0.62"/>
<circle cx="45.9" cy="12.5" r="0.60"/>
<circle cx="12.4" cy="38.6" r="0.70"/>
</g>
<g fill="#d08a48" opacity="0.85" filter="url(#blur03)">
<circle cx="26.9" cy="19.4" r="0.75"/>
<circle cx="10.8" cy="15.0" r="0.65"/>
<circle cx="20.9" cy="25.2" r="0.43"/>
<circle cx="19.7" cy="16.0" r="0.80"/>
<circle cx="32.1" cy="14.7" r="0.69"/>
<circle cx="19.3" cy="18.8" r="0.58"/>
<circle cx="34.2" cy="6.3" r="0.41"/>
<circle cx="12.4" cy="12.8" r="0.59"/>
<circle cx="25.7" cy="30.9" r="0.65"/>
<circle cx="29.4" cy="19.2" r="0.50"/>
<circle cx="33.2" cy="22.4" r="0.48"/>
<circle cx="33.4" cy="37.7" r="0.76"/>
<circle cx="24.0" cy="20.8" r="0.53"/>
<circle cx="17.2" cy="9.1" r="0.48"/>
<circle cx="11.2" cy="28.0" r="0.75"/>
<circle cx="24.2" cy="22.2" r="0.63"/>
<circle cx="18.6" cy="35.4" r="0.73"/>
<circle cx="33.6" cy="9.3" r="0.68"/>
<circle cx="34.6" cy="18.6" r="0.58"/>
<circle cx="22.4" cy="35.6" r="0.49"/>
<circle cx="18.7" cy="25.3" r="0.53"/>
<circle cx="28.2" cy="16.0" r="0.79"/>
<circle cx="13.0" cy="25.4" r="0.75"/>
<circle cx="35.8" cy="24.8" r="0.68"/>
<circle cx="17.6" cy="18.5" r="0.41"/>
<circle cx="37.3" cy="36.3" r="0.58"/>
<circle cx="37.2" cy="23.8" r="0.46"/>
<circle cx="32.0" cy="24.1" r="0.65"/>
<circle cx="18.9" cy="23.8" r="0.72"/>
<circle cx="30.1" cy="20.3" r="0.67"/>
<circle cx="27.1" cy="29.3" r="0.40"/>
<circle cx="13.3" cy="23.8" r="0.69"/>
<circle cx="29.1" cy="31.1" r="0.68"/>
<circle cx="9.2" cy="19.8" r="0.65"/>
<circle cx="24.8" cy="17.8" r="0.76"/>
<circle cx="38.7" cy="30.4" r="0.77"/>
<circle cx="22.1" cy="7.3" r="0.65"/>
<circle cx="37.3" cy="13.8" r="0.55"/>
<circle cx="8.7" cy="14.5" r="0.78"/>
<circle cx="19.9" cy="22.9" r="0.66"/>
<circle cx="27.2" cy="30.8" r="0.66"/>
<circle cx="24.2" cy="19.9" r="0.49"/>
<circle cx="44.5" cy="7.3" r="0.61"/>
<circle cx="27.0" cy="12.8" r="0.53"/>
<circle cx="36.3" cy="14.4" r="0.43"/>
<circle cx="17.7" cy="24.5" r="0.62"/>
<circle cx="25.7" cy="12.1" r="0.72"/>
<circle cx="34.8" cy="26.1" r="0.72"/>
<circle cx="27.6" cy="27.6" r="0.46"/>
<circle cx="35.6" cy="36.7" r="0.61"/>
<circle cx="22.1" cy="6.9" r="0.78"/>
<circle cx="20.1" cy="22.0" r="0.78"/>
<circle cx="35.0" cy="28.0" r="0.52"/>
<circle cx="22.3" cy="4.9" r="0.66"/>
<circle cx="10.2" cy="19.7" r="0.52"/>
<circle cx="20.4" cy="25.6" r="0.74"/>
<circle cx="35.6" cy="13.9" r="0.79"/>
<circle cx="4.4" cy="18.7" r="0.63"/>
<circle cx="26.2" cy="26.8" r="0.64"/>
<circle cx="34.1" cy="23.5" r="0.79"/>
</g>
<g fill="#d08848" opacity="0.85" filter="url(#blur03)">
<circle cx="11.9" cy="24.8" r="0.85"/>
<circle cx="10.8" cy="20.6" r="0.80"/>
<circle cx="46.2" cy="32.0" r="0.66"/>
<circle cx="25.8" cy="39.5" r="0.51"/>
<circle cx="1.1" cy="34.9" r="0.90"/>
<circle cx="14.2" cy="27.5" r="0.55"/>
<circle cx="1.1" cy="7.6" r="0.51"/>
<circle cx="28.6" cy="23.5" r="0.55"/>
<circle cx="31.5" cy="44.1" r="0.61"/>
<circle cx="14.3" cy="39.2" r="0.50"/>
<circle cx="27.0" cy="19.9" r="0.71"/>
<circle cx="28.0" cy="34.0" r="0.72"/>
<circle cx="13.7" cy="30.5" r="0.66"/>
<circle cx="18.7" cy="24.7" r="0.55"/>
<circle cx="12.5" cy="13.4" r="0.71"/>
<circle cx="41.1" cy="12.7" r="0.88"/>
<circle cx="30.9" cy="45.6" r="0.86"/>
<circle cx="39.4" cy="20.0" r="0.61"/>
<circle cx="37.9" cy="22.1" r="0.95"/>
<circle cx="34.5" cy="21.8" r="0.57"/>
<circle cx="26.2" cy="16.8" r="0.50"/>
<circle cx="36.3" cy="15.1" r="0.84"/>
<circle cx="39.4" cy="34.7" r="0.79"/>
<circle cx="38.7" cy="26.9" r="0.79"/>
</g>
<circle cx="24.6" cy="21.8" r="9.6" fill="url(#gcol1)"/>
<text x="2.4" y="7.6" font-size="7.4" font-weight="bold" fill="#fff" stroke="#fff" stroke-width="0.3">i</text>
</svg>
<svg x="382.2" y="400.2" width="58.7" height="45.8" viewBox="0 0 58.7 45.8">
<rect width="58.7" height="45.8" fill="#3a4a6c"/>
<g fill="#a89a80" opacity="0.55" filter="url(#blur03)">
<circle cx="6.9" cy="26.8" r="0.58"/>
<circle cx="31.5" cy="25.4" r="0.44"/>
<circle cx="25.6" cy="45.6" r="0.60"/>
<circle cx="13.6" cy="14.9" r="0.58"/>
<circle cx="40.5" cy="34.2" r="0.33"/>
<circle cx="34.6" cy="21.7" r="0.66"/>
<circle cx="51.8" cy="32.3" r="0.42"/>
<circle cx="4.6" cy="37.0" r="0.26"/>
<circle cx="23.0" cy="23.7" r="0.74"/>
<circle cx="37.4" cy="22.1" r="0.46"/>
<circle cx="39.2" cy="31.8" r="0.56"/>
<circle cx="42.8" cy="39.9" r="0.28"/>
<circle cx="44.0" cy="43.4" r="0.45"/>
<circle cx="11.2" cy="31.9" r="0.49"/>
<circle cx="27.0" cy="26.0" r="0.61"/>
<circle cx="22.2" cy="14.4" r="0.43"/>
<circle cx="21.2" cy="7.3" r="0.31"/>
<circle cx="31.4" cy="35.4" r="0.51"/>
<circle cx="36.9" cy="10.9" r="0.26"/>
<circle cx="37.5" cy="12.6" r="0.51"/>
<circle cx="32.9" cy="36.5" r="0.44"/>
<circle cx="31.0" cy="18.5" r="0.52"/>
<circle cx="40.8" cy="40.7" r="0.27"/>
<circle cx="27.6" cy="34.9" r="0.57"/>
<circle cx="46.8" cy="28.3" r="0.35"/>
<circle cx="26.4" cy="37.4" r="0.73"/>
<circle cx="23.2" cy="29.9" r="0.62"/>
<circle cx="31.6" cy="23.3" r="0.38"/>
<circle cx="31.9" cy="13.1" r="0.37"/>
<circle cx="34.6" cy="24.2" r="0.56"/>
<circle cx="26.5" cy="23.9" r="0.41"/>
<circle cx="37.0" cy="2.0" r="0.57"/>
<circle cx="32.5" cy="38.6" r="0.49"/>
<circle cx="21.3" cy="17.3" r="0.72"/>
<circle cx="37.5" cy="19.6" r="0.40"/>
<circle cx="39.0" cy="17.1" r="0.72"/>
<circle cx="5.4" cy="22.2" r="0.60"/>
<circle cx="32.9" cy="33.6" r="0.38"/>
<circle cx="20.0" cy="7.1" r="0.32"/>
<circle cx="42.6" cy="15.8" r="0.37"/>
<circle cx="9.2" cy="17.8" r="0.71"/>
<circle cx="56.3" cy="19.2" r="0.46"/>
<circle cx="0.8" cy="10.4" r="0.64"/>
<circle cx="17.1" cy="18.6" r="0.43"/>
<circle cx="28.2" cy="8.6" r="0.26"/>
<circle cx="46.8" cy="16.1" r="0.64"/>
<circle cx="24.7" cy="27.7" r="0.43"/>
<circle cx="22.5" cy="10.1" r="0.56"/>
<circle cx="44.0" cy="34.5" r="0.60"/>
<circle cx="20.5" cy="29.6" r="0.45"/>
<circle cx="19.1" cy="40.3" r="0.32"/>
</g>
<g fill="#c88a50" opacity="0.8" filter="url(#blur03)">
<circle cx="41.7" cy="29.6" r="0.70"/>
<circle cx="31.4" cy="6.4" r="0.82"/>
<circle cx="27.4" cy="26.2" r="0.59"/>
<circle cx="20.6" cy="26.6" r="0.68"/>
<circle cx="23.6" cy="31.4" r="0.51"/>
<circle cx="31.9" cy="23.5" r="0.53"/>
<circle cx="28.0" cy="31.9" r="0.57"/>
<circle cx="5.2" cy="23.9" r="0.43"/>
<circle cx="8.7" cy="27.6" r="0.77"/>
<circle cx="30.0" cy="37.3" r="0.78"/>
<circle cx="35.6" cy="16.5" r="0.62"/>
<circle cx="31.1" cy="12.0" r="0.69"/>
<circle cx="7.2" cy="18.0" r="0.53"/>
<circle cx="28.4" cy="13.5" r="0.60"/>
<circle cx="21.2" cy="31.9" r="0.42"/>
<circle cx="33.1" cy="38.9" r="0.48"/>
<circle cx="57.7" cy="30.2" r="0.49"/>
<circle cx="49.9" cy="17.7" r="0.54"/>
<circle cx="53.8" cy="5.7" r="0.51"/>
<circle cx="46.1" cy="36.2" r="0.77"/>
<circle cx="8.2" cy="10.8" r="0.56"/>
<circle cx="20.8" cy="17.7" r="0.55"/>
<circle cx="18.5" cy="32.1" r="0.55"/>
</g>
<g fill="#d0a060" opacity="0.8" filter="url(#blur03)">
<circle cx="16.9" cy="13.3" r="0.40"/>
<circle cx="20.1" cy="16.6" r="0.51"/>
<circle cx="20.6" cy="19.3" r="0.63"/>
<circle cx="14.4" cy="18.6" r="0.59"/>
<circle cx="13.3" cy="23.1" r="0.63"/>
<circle cx="16.8" cy="23.6" r="0.65"/>
<circle cx="19.2" cy="18.1" r="0.37"/>
<circle cx="17.5" cy="21.1" r="0.59"/>
<circle cx="14.0" cy="21.7" r="0.42"/>
<circle cx="18.5" cy="13.8" r="0.54"/>
<circle cx="17.9" cy="19.5" r="0.48"/>
<circle cx="13.0" cy="17.1" r="0.56"/>
<circle cx="15.9" cy="15.7" r="0.49"/>
<circle cx="12.7" cy="14.6" r="0.46"/>
</g>
<g fill="#d0a060" opacity="0.8" filter="url(#blur03)">
<circle cx="25.7" cy="18.9" r="0.41"/>
<circle cx="30.4" cy="16.4" r="0.50"/>
<circle cx="28.7" cy="16.0" r="0.57"/>
<circle cx="26.6" cy="18.3" r="0.46"/>
<circle cx="23.9" cy="15.6" r="0.35"/>
<circle cx="28.1" cy="18.5" r="0.34"/>
<circle cx="30.7" cy="20.2" r="0.40"/>
<circle cx="30.2" cy="20.8" r="0.57"/>
<circle cx="21.3" cy="13.0" r="0.60"/>
<circle cx="30.1" cy="17.1" r="0.31"/>
<circle cx="27.9" cy="23.6" r="0.38"/>
<circle cx="27.2" cy="14.9" r="0.47"/>
<circle cx="23.7" cy="17.2" r="0.33"/>
<circle cx="23.2" cy="15.0" r="0.68"/>
</g>
<g fill="#d0a060" opacity="0.8" filter="url(#blur03)">
<circle cx="40.5" cy="7.9" r="0.44"/>
<circle cx="36.0" cy="8.8" r="0.67"/>
<circle cx="33.1" cy="6.0" r="0.39"/>
<circle cx="32.4" cy="8.7" r="0.59"/>
<circle cx="38.1" cy="4.7" r="0.45"/>
<circle cx="37.9" cy="6.3" r="0.70"/>
<circle cx="31.5" cy="8.7" r="0.51"/>
<circle cx="32.3" cy="12.9" r="0.39"/>
<circle cx="33.6" cy="10.5" r="0.52"/>
<circle cx="39.5" cy="7.3" r="0.60"/>
<circle cx="36.2" cy="11.7" r="0.59"/>
<circle cx="33.3" cy="5.1" r="0.37"/>
<circle cx="33.9" cy="7.6" r="0.45"/>
<circle cx="35.1" cy="11.0" r="0.44"/>
</g>
<path d="M54.5 0 L55.7 43.0 L0 43.599999999999994" fill="none" stroke="#e8d8b0" stroke-width="1.3"/>
<rect x="56.5" y="0" width="2.2" height="45.8" fill="#2a1e18"/>
<rect x="0" y="44.4" width="58.7" height="1.4" fill="#2a1e18"/>
<circle cx="1" cy="30" r="2.5" fill="#6a7890" opacity="0.7"/>
<circle cx="15.3" cy="17.5" r="3.0" fill="url(#gcol2)"/>
<circle cx="27.1" cy="18.1" r="2.6" fill="url(#gcol2)"/>
<circle cx="36.2" cy="8.3" r="3.0" fill="url(#gcol2)"/>
<circle cx="33.5" cy="43.2" r="2.6" fill="url(#gcol2)"/>
<text x="2.4" y="7.6" font-size="7.4" font-weight="bold" fill="#fff" stroke="#fff" stroke-width="0.3">ii</text>
</svg>
<svg x="322.2" y="449.2" width="58.7" height="45.8" viewBox="0 0 58.7 45.8">
<rect width="58.7" height="45.8" fill="#2a376e"/>
<g fill="#a89890" opacity="0.5" filter="url(#blur03)">
<circle cx="15.2" cy="31.4" r="0.59"/>
<circle cx="49.9" cy="8.5" r="0.37"/>
<circle cx="8.6" cy="10.3" r="0.62"/>
<circle cx="7.6" cy="24.3" r="0.36"/>
<circle cx="17.3" cy="19.8" r="0.67"/>
<circle cx="35.7" cy="0.7" r="0.39"/>
<circle cx="8.6" cy="39.9" r="0.65"/>
<circle cx="47.3" cy="37.8" r="0.62"/>
<circle cx="55.7" cy="36.4" r="0.38"/>
<circle cx="49.9" cy="22.3" r="0.63"/>
<circle cx="33.1" cy="19.7" r="0.43"/>
<circle cx="25.2" cy="14.4" r="0.31"/>
<circle cx="48.1" cy="36.6" r="0.74"/>
<circle cx="40.6" cy="25.4" r="0.62"/>
<circle cx="7.9" cy="31.0" r="0.47"/>
<circle cx="10.4" cy="9.3" r="0.51"/>
<circle cx="14.9" cy="21.0" r="0.55"/>
<circle cx="23.2" cy="6.0" r="0.50"/>
<circle cx="13.8" cy="10.8" r="0.35"/>
<circle cx="21.5" cy="3.4" r="0.58"/>
<circle cx="56.0" cy="17.8" r="0.61"/>
<circle cx="54.8" cy="2.0" r="0.32"/>
<circle cx="47.3" cy="38.4" r="0.57"/>
<circle cx="9.4" cy="18.9" r="0.68"/>
<circle cx="52.0" cy="36.8" r="0.35"/>
<circle cx="50.1" cy="17.2" r="0.61"/>
<circle cx="8.0" cy="44.5" r="0.55"/>
<circle cx="42.4" cy="9.7" r="0.56"/>
<circle cx="34.1" cy="27.1" r="0.43"/>
<circle cx="42.7" cy="15.6" r="0.40"/>
<circle cx="9.7" cy="31.3" r="0.31"/>
<circle cx="13.2" cy="3.2" r="0.57"/>
<circle cx="32.6" cy="24.9" r="0.27"/>
<circle cx="25.8" cy="15.7" r="0.30"/>
<circle cx="0.2" cy="45.7" r="0.31"/>
<circle cx="17.7" cy="12.3" r="0.55"/>
<circle cx="4.5" cy="21.5" r="0.43"/>
<circle cx="49.0" cy="0.3" r="0.42"/>
<circle cx="29.1" cy="44.4" r="0.51"/>
<circle cx="27.8" cy="30.7" r="0.40"/>
<circle cx="1.9" cy="23.0" r="0.71"/>
<circle cx="43.3" cy="11.8" r="0.59"/>
<circle cx="49.8" cy="11.8" r="0.54"/>
<circle cx="20.9" cy="11.2" r="0.39"/>
<circle cx="12.0" cy="16.1" r="0.27"/>
<circle cx="23.3" cy="4.0" r="0.63"/>
<circle cx="35.2" cy="0.2" r="0.64"/>
<circle cx="11.2" cy="22.0" r="0.53"/>
<circle cx="19.5" cy="13.3" r="0.47"/>
<circle cx="8.0" cy="39.6" r="0.31"/>
<circle cx="48.3" cy="10.0" r="0.40"/>
<circle cx="22.8" cy="1.5" r="0.31"/>
<circle cx="21.2" cy="20.2" r="0.69"/>
<circle cx="58.1" cy="2.0" r="0.52"/>
<circle cx="7.6" cy="36.8" r="0.41"/>
<circle cx="52.4" cy="25.0" r="0.31"/>
<circle cx="0.3" cy="11.4" r="0.68"/>
<circle cx="8.8" cy="21.9" r="0.44"/>
<circle cx="20.2" cy="36.7" r="0.36"/>
<circle cx="42.2" cy="30.5" r="0.72"/>
<circle cx="30.5" cy="42.2" r="0.47"/>
<circle cx="33.7" cy="28.4" r="0.67"/>
<circle cx="52.7" cy="5.3" r="0.32"/>
<circle cx="31.3" cy="37.2" r="0.52"/>
<circle cx="17.6" cy="44.1" r="0.40"/>
<circle cx="5.1" cy="2.4" r="0.27"/>
<circle cx="42.7" cy="4.9" r="0.61"/>
<circle cx="50.9" cy="45.8" r="0.65"/>
<circle cx="24.9" cy="28.5" r="0.67"/>
<circle cx="42.0" cy="13.3" r="0.63"/>
<circle cx="6.4" cy="14.1" r="0.75"/>
<circle cx="27.7" cy="12.3" r="0.64"/>
<circle cx="26.4" cy="0.2" r="0.26"/>
<circle cx="15.2" cy="15.2" r="0.72"/>
<circle cx="14.5" cy="38.9" r="0.68"/>
<circle cx="24.4" cy="45.5" r="0.63"/>
<circle cx="28.4" cy="12.0" r="0.48"/>
<circle cx="53.0" cy="24.6" r="0.35"/>
<circle cx="22.0" cy="21.8" r="0.35"/>
<circle cx="33.6" cy="1.6" r="0.66"/>
<circle cx="10.5" cy="4.7" r="0.54"/>
<circle cx="18.0" cy="40.5" r="0.50"/>
<circle cx="30.6" cy="38.2" r="0.36"/>
<circle cx="43.8" cy="29.7" r="0.46"/>
<circle cx="56.3" cy="1.0" r="0.68"/>
<circle cx="8.4" cy="38.5" r="0.33"/>
<circle cx="3.1" cy="22.9" r="0.71"/>
<circle cx="15.1" cy="22.3" r="0.55"/>
<circle cx="14.3" cy="24.3" r="0.25"/>
<circle cx="26.4" cy="34.8" r="0.42"/>
<circle cx="12.9" cy="2.3" r="0.60"/>
<circle cx="25.1" cy="41.9" r="0.62"/>
<circle cx="5.9" cy="41.9" r="0.72"/>
<circle cx="48.0" cy="38.1" r="0.59"/>
<circle cx="42.3" cy="30.6" r="0.55"/>
<circle cx="15.1" cy="6.1" r="0.61"/>
<circle cx="35.0" cy="2.6" r="0.57"/>
<circle cx="35.8" cy="23.4" r="0.64"/>
<circle cx="51.4" cy="17.5" r="0.66"/>
<circle cx="29.3" cy="26.2" r="0.46"/>
<circle cx="54.8" cy="20.4" r="0.73"/>
<circle cx="19.9" cy="30.8" r="0.71"/>
<circle cx="40.1" cy="17.2" r="0.29"/>
<circle cx="28.1" cy="19.0" r="0.66"/>
<circle cx="46.0" cy="45.2" r="0.47"/>
<circle cx="24.1" cy="25.8" r="0.62"/>
<circle cx="4.7" cy="9.9" r="0.32"/>
<circle cx="19.1" cy="13.7" r="0.73"/>
<circle cx="12.2" cy="42.8" r="0.40"/>
<circle cx="12.0" cy="44.6" r="0.29"/>
</g>
<circle cx="12.6" cy="23.3" r="12" fill="url(#gcol3)"/>
<circle cx="40.9" cy="22" r="14" fill="url(#gcol4)"/>
<g fill="#c8b4a4" opacity="0.45" filter="url(#blur03)">
<circle cx="20.1" cy="29.7" r="0.40"/>
<circle cx="14.9" cy="33.0" r="0.31"/>
<circle cx="21.2" cy="24.2" r="0.34"/>
<circle cx="5.3" cy="20.1" r="0.60"/>
<circle cx="8.5" cy="16.9" r="0.57"/>
<circle cx="14.9" cy="20.3" r="0.31"/>
<circle cx="18.2" cy="25.3" r="0.46"/>
<circle cx="13.8" cy="17.3" r="0.32"/>
<circle cx="11.0" cy="17.8" r="0.35"/>
<circle cx="10.5" cy="33.7" r="0.48"/>
<circle cx="1.9" cy="19.5" r="0.54"/>
<circle cx="18.7" cy="27.6" r="0.51"/>
<circle cx="20.4" cy="35.7" r="0.35"/>
<circle cx="13.3" cy="21.5" r="0.34"/>
<circle cx="8.5" cy="34.6" r="0.29"/>
<circle cx="9.4" cy="12.5" r="0.48"/>
<circle cx="5.3" cy="27.3" r="0.38"/>
<circle cx="8.3" cy="28.2" r="0.25"/>
<circle cx="20.5" cy="16.5" r="0.57"/>
<circle cx="16.7" cy="14.3" r="0.43"/>
<circle cx="4.6" cy="27.6" r="0.46"/>
<circle cx="13.0" cy="32.4" r="0.31"/>
<circle cx="22.8" cy="16.4" r="0.55"/>
<circle cx="12.4" cy="13.9" r="0.29"/>
<circle cx="12.4" cy="18.9" r="0.63"/>
<circle cx="14.7" cy="16.5" r="0.49"/>
<circle cx="13.2" cy="18.8" r="0.58"/>
<circle cx="5.9" cy="17.0" r="0.40"/>
<circle cx="22.3" cy="24.6" r="0.42"/>
<circle cx="11.2" cy="29.0" r="0.47"/>
<circle cx="3.4" cy="29.9" r="0.47"/>
<circle cx="13.6" cy="18.5" r="0.43"/>
<circle cx="3.8" cy="21.3" r="0.55"/>
<circle cx="15.2" cy="21.2" r="0.47"/>
<circle cx="3.2" cy="19.9" r="0.42"/>
<circle cx="1.2" cy="23.4" r="0.61"/>
<circle cx="18.0" cy="24.8" r="0.43"/>
<circle cx="20.5" cy="12.2" r="0.31"/>
<circle cx="13.2" cy="18.5" r="0.27"/>
<circle cx="3.7" cy="29.5" r="0.57"/>
<circle cx="12.1" cy="17.7" r="0.27"/>
<circle cx="10.2" cy="16.1" r="0.43"/>
<circle cx="11.6" cy="17.1" r="0.60"/>
<circle cx="17.1" cy="28.2" r="0.63"/>
<circle cx="24.2" cy="30.3" r="0.43"/>
<circle cx="20.1" cy="20.1" r="0.45"/>
<circle cx="5.4" cy="14.6" r="0.35"/>
<circle cx="14.0" cy="24.5" r="0.60"/>
<circle cx="22.5" cy="25.6" r="0.54"/>
<circle cx="5.7" cy="23.3" r="0.64"/>
<circle cx="18.9" cy="31.7" r="0.26"/>
<circle cx="9.3" cy="21.9" r="0.37"/>
<circle cx="7.9" cy="10.1" r="0.45"/>
<circle cx="6.4" cy="18.6" r="0.35"/>
<circle cx="24.3" cy="28.4" r="0.46"/>
<circle cx="16.0" cy="30.4" r="0.26"/>
<circle cx="6.6" cy="17.3" r="0.54"/>
<circle cx="15.6" cy="20.8" r="0.31"/>
<circle cx="11.7" cy="22.3" r="0.50"/>
<circle cx="17.4" cy="32.8" r="0.46"/>
<circle cx="15.1" cy="12.6" r="0.53"/>
<circle cx="0.0" cy="17.2" r="0.45"/>
<circle cx="18.2" cy="33.5" r="0.50"/>
<circle cx="12.8" cy="30.9" r="0.55"/>
<circle cx="22.4" cy="31.1" r="0.43"/>
<circle cx="13.2" cy="29.2" r="0.36"/>
<circle cx="12.0" cy="20.0" r="0.44"/>
<circle cx="14.3" cy="31.4" r="0.57"/>
<circle cx="1.9" cy="15.4" r="0.25"/>
<circle cx="13.7" cy="17.6" r="0.35"/>
<circle cx="5.9" cy="25.9" r="0.53"/>
<circle cx="10.8" cy="36.8" r="0.43"/>
<circle cx="25.7" cy="29.5" r="0.61"/>
<circle cx="17.1" cy="27.0" r="0.52"/>
<circle cx="22.8" cy="15.8" r="0.32"/>
<circle cx="1.9" cy="18.3" r="0.54"/>
<circle cx="6.4" cy="24.6" r="0.54"/>
<circle cx="18.3" cy="21.8" r="0.39"/>
<circle cx="23.1" cy="14.3" r="0.56"/>
<circle cx="20.3" cy="13.7" r="0.63"/>
<circle cx="15.8" cy="28.0" r="0.48"/>
<circle cx="16.5" cy="25.3" r="0.36"/>
<circle cx="15.0" cy="17.4" r="0.42"/>
<circle cx="16.0" cy="33.3" r="0.40"/>
<circle cx="25.3" cy="27.2" r="0.37"/>
<circle cx="16.3" cy="22.7" r="0.42"/>
<circle cx="21.5" cy="27.6" r="0.49"/>
<circle cx="15.7" cy="35.4" r="0.52"/>
<circle cx="24.9" cy="24.1" r="0.63"/>
<circle cx="23.1" cy="24.7" r="0.57"/>
<circle cx="12.1" cy="11.6" r="0.55"/>
<circle cx="3.0" cy="27.8" r="0.63"/>
<circle cx="20.2" cy="25.8" r="0.31"/>
<circle cx="12.7" cy="13.7" r="0.35"/>
<circle cx="15.1" cy="20.5" r="0.46"/>
<circle cx="17.4" cy="40.3" r="0.27"/>
<circle cx="15.4" cy="38.0" r="0.39"/>
<circle cx="22.2" cy="15.7" r="0.50"/>
<circle cx="15.7" cy="23.5" r="0.55"/>
<circle cx="19.1" cy="39.8" r="0.28"/>
<circle cx="11.9" cy="17.4" r="0.35"/>
<circle cx="21.8" cy="30.4" r="0.37"/>
<circle cx="6.7" cy="21.0" r="0.28"/>
<circle cx="8.3" cy="25.5" r="0.30"/>
<circle cx="15.2" cy="21.2" r="0.29"/>
<circle cx="14.7" cy="30.9" r="0.29"/>
<circle cx="6.5" cy="14.3" r="0.41"/>
<circle cx="15.3" cy="30.0" r="0.52"/>
<circle cx="21.2" cy="21.3" r="0.44"/>
<circle cx="7.0" cy="26.3" r="0.42"/>
<circle cx="17.4" cy="33.2" r="0.37"/>
<circle cx="9.8" cy="16.1" r="0.31"/>
<circle cx="17.6" cy="15.6" r="0.39"/>
<circle cx="15.2" cy="18.6" r="0.39"/>
<circle cx="7.6" cy="20.6" r="0.42"/>
<circle cx="2.1" cy="22.2" r="0.34"/>
<circle cx="19.5" cy="18.5" r="0.62"/>
<circle cx="16.5" cy="14.0" r="0.54"/>
<circle cx="18.1" cy="28.8" r="0.59"/>
<circle cx="8.8" cy="26.2" r="0.33"/>
<circle cx="4.1" cy="19.5" r="0.59"/>
<circle cx="7.0" cy="25.2" r="0.33"/>
<circle cx="10.4" cy="33.3" r="0.59"/>
<circle cx="19.4" cy="21.8" r="0.38"/>
<circle cx="19.8" cy="15.0" r="0.35"/>
<circle cx="16.1" cy="31.0" r="0.31"/>
<circle cx="13.8" cy="33.6" r="0.51"/>
</g>
<g fill="#c8b4a4" opacity="0.45" filter="url(#blur03)">
<circle cx="50.7" cy="17.3" r="0.48"/>
<circle cx="54.2" cy="24.5" r="0.29"/>
<circle cx="33.5" cy="18.3" r="0.42"/>
<circle cx="52.4" cy="23.4" r="0.35"/>
<circle cx="45.8" cy="31.9" r="0.58"/>
<circle cx="53.0" cy="23.2" r="0.42"/>
<circle cx="46.8" cy="33.0" r="0.63"/>
<circle cx="56.4" cy="18.6" r="0.38"/>
<circle cx="31.4" cy="19.4" r="0.42"/>
<circle cx="32.1" cy="14.6" r="0.41"/>
<circle cx="42.8" cy="13.6" r="0.61"/>
<circle cx="30.2" cy="16.9" r="0.35"/>
<circle cx="46.6" cy="18.1" r="0.44"/>
<circle cx="48.2" cy="13.1" r="0.54"/>
<circle cx="33.8" cy="24.7" r="0.58"/>
<circle cx="29.0" cy="13.1" r="0.60"/>
<circle cx="32.3" cy="20.5" r="0.36"/>
<circle cx="48.0" cy="32.1" r="0.62"/>
<circle cx="28.8" cy="17.9" r="0.42"/>
<circle cx="45.1" cy="10.7" r="0.59"/>
<circle cx="41.5" cy="11.9" r="0.63"/>
<circle cx="30.2" cy="31.1" r="0.51"/>
<circle cx="48.0" cy="24.3" r="0.61"/>
<circle cx="52.0" cy="19.2" r="0.55"/>
<circle cx="33.2" cy="35.6" r="0.28"/>
<circle cx="35.4" cy="24.8" r="0.47"/>
<circle cx="37.1" cy="32.6" r="0.33"/>
<circle cx="25.6" cy="16.6" r="0.26"/>
<circle cx="30.0" cy="24.7" r="0.29"/>
<circle cx="49.8" cy="15.6" r="0.62"/>
<circle cx="30.6" cy="21.6" r="0.54"/>
<circle cx="29.2" cy="15.5" r="0.43"/>
<circle cx="36.0" cy="9.5" r="0.60"/>
<circle cx="51.7" cy="15.3" r="0.44"/>
<circle cx="43.7" cy="8.6" r="0.31"/>
<circle cx="47.7" cy="27.2" r="0.52"/>
<circle cx="35.4" cy="30.5" r="0.63"/>
<circle cx="39.0" cy="32.7" r="0.50"/>
<circle cx="33.9" cy="15.2" r="0.47"/>
<circle cx="35.1" cy="33.2" r="0.28"/>
<circle cx="48.6" cy="37.4" r="0.33"/>
<circle cx="51.9" cy="15.9" r="0.50"/>
<circle cx="49.3" cy="19.6" r="0.28"/>
<circle cx="32.6" cy="14.1" r="0.53"/>
<circle cx="35.7" cy="11.0" r="0.51"/>
<circle cx="37.9" cy="12.2" r="0.63"/>
<circle cx="40.9" cy="33.6" r="0.49"/>
<circle cx="35.9" cy="31.4" r="0.46"/>
<circle cx="45.0" cy="29.9" r="0.44"/>
<circle cx="30.3" cy="29.2" r="0.34"/>
<circle cx="41.9" cy="23.7" r="0.59"/>
<circle cx="48.5" cy="32.4" r="0.50"/>
<circle cx="44.8" cy="27.2" r="0.39"/>
<circle cx="56.7" cy="33.9" r="0.47"/>
<circle cx="37.7" cy="20.1" r="0.46"/>
<circle cx="34.0" cy="29.9" r="0.33"/>
<circle cx="31.4" cy="16.7" r="0.41"/>
<circle cx="40.8" cy="29.5" r="0.59"/>
<circle cx="47.8" cy="21.6" r="0.38"/>
<circle cx="45.6" cy="29.2" r="0.27"/>
<circle cx="29.8" cy="11.9" r="0.52"/>
<circle cx="46.4" cy="15.3" r="0.41"/>
<circle cx="31.3" cy="26.6" r="0.53"/>
<circle cx="24.4" cy="19.5" r="0.56"/>
<circle cx="52.0" cy="15.2" r="0.44"/>
<circle cx="38.3" cy="10.7" r="0.35"/>
<circle cx="31.8" cy="25.4" r="0.52"/>
<circle cx="49.1" cy="25.3" r="0.41"/>
<circle cx="32.3" cy="11.8" r="0.52"/>
<circle cx="36.6" cy="14.9" r="0.51"/>
<circle cx="31.0" cy="25.1" r="0.60"/>
<circle cx="42.9" cy="9.7" r="0.51"/>
<circle cx="41.1" cy="11.7" r="0.46"/>
<circle cx="28.4" cy="24.6" r="0.51"/>
<circle cx="47.0" cy="15.8" r="0.53"/>
<circle cx="50.4" cy="13.4" r="0.48"/>
<circle cx="27.4" cy="12.9" r="0.27"/>
<circle cx="47.6" cy="20.9" r="0.29"/>
<circle cx="38.4" cy="21.2" r="0.34"/>
<circle cx="51.5" cy="25.0" r="0.63"/>
<circle cx="33.2" cy="24.1" r="0.36"/>
<circle cx="52.5" cy="24.2" r="0.47"/>
<circle cx="41.1" cy="23.1" r="0.64"/>
<circle cx="36.9" cy="32.3" r="0.38"/>
<circle cx="47.8" cy="28.6" r="0.30"/>
<circle cx="49.4" cy="17.0" r="0.47"/>
<circle cx="49.7" cy="14.7" r="0.48"/>
<circle cx="36.3" cy="10.0" r="0.32"/>
<circle cx="33.2" cy="21.9" r="0.38"/>
<circle cx="31.8" cy="25.2" r="0.29"/>
<circle cx="54.2" cy="31.4" r="0.35"/>
<circle cx="34.9" cy="10.4" r="0.30"/>
<circle cx="53.1" cy="11.1" r="0.46"/>
<circle cx="50.9" cy="15.5" r="0.61"/>
<circle cx="54.0" cy="23.0" r="0.27"/>
<circle cx="48.6" cy="13.2" r="0.31"/>
<circle cx="34.0" cy="8.2" r="0.65"/>
<circle cx="35.3" cy="14.4" r="0.41"/>
<circle cx="52.5" cy="20.0" r="0.42"/>
<circle cx="26.8" cy="17.9" r="0.37"/>
<circle cx="56.0" cy="18.1" r="0.45"/>
<circle cx="51.1" cy="18.7" r="0.63"/>
<circle cx="52.4" cy="25.6" r="0.29"/>
<circle cx="40.7" cy="32.0" r="0.40"/>
<circle cx="28.3" cy="23.2" r="0.51"/>
<circle cx="30.4" cy="21.8" r="0.30"/>
<circle cx="54.3" cy="21.7" r="0.60"/>
<circle cx="31.8" cy="24.9" r="0.52"/>
<circle cx="49.2" cy="18.0" r="0.27"/>
<circle cx="32.3" cy="23.8" r="0.48"/>
<circle cx="39.4" cy="32.4" r="0.35"/>
<circle cx="30.2" cy="23.2" r="0.44"/>
<circle cx="37.8" cy="11.1" r="0.54"/>
<circle cx="38.1" cy="35.1" r="0.31"/>
<circle cx="34.7" cy="16.0" r="0.64"/>
<circle cx="54.9" cy="19.4" r="0.57"/>
<circle cx="52.5" cy="20.0" r="0.62"/>
<circle cx="46.7" cy="27.9" r="0.33"/>
<circle cx="27.0" cy="21.5" r="0.47"/>
<circle cx="44.5" cy="35.4" r="0.55"/>
<circle cx="48.3" cy="26.3" r="0.63"/>
<circle cx="47.8" cy="30.8" r="0.40"/>
<circle cx="38.8" cy="13.1" r="0.30"/>
<circle cx="55.4" cy="29.5" r="0.26"/>
<circle cx="34.0" cy="19.5" r="0.44"/>
<circle cx="49.1" cy="14.0" r="0.34"/>
<circle cx="47.6" cy="30.8" r="0.57"/>
<circle cx="53.5" cy="32.9" r="0.25"/>
<circle cx="54.2" cy="21.1" r="0.46"/>
<circle cx="51.0" cy="25.1" r="0.45"/>
<circle cx="45.7" cy="31.1" r="0.48"/>
<circle cx="36.4" cy="30.3" r="0.44"/>
<circle cx="43.7" cy="21.1" r="0.54"/>
<circle cx="42.3" cy="31.7" r="0.35"/>
<circle cx="45.5" cy="11.7" r="0.57"/>
<circle cx="38.1" cy="30.9" r="0.48"/>
<circle cx="50.7" cy="14.1" r="0.31"/>
<circle cx="39.8" cy="32.0" r="0.49"/>
<circle cx="48.8" cy="20.2" r="0.58"/>
<circle cx="34.2" cy="23.1" r="0.40"/>
<circle cx="42.8" cy="15.8" r="0.65"/>
<circle cx="34.3" cy="23.4" r="0.39"/>
<circle cx="46.9" cy="28.3" r="0.38"/>
<circle cx="31.2" cy="21.6" r="0.54"/>
<circle cx="38.1" cy="15.8" r="0.50"/>
<circle cx="51.2" cy="15.8" r="0.52"/>
<circle cx="47.5" cy="12.8" r="0.25"/>
<circle cx="47.5" cy="6.5" r="0.26"/>
<circle cx="32.6" cy="15.2" r="0.55"/>
<circle cx="49.2" cy="31.7" r="0.52"/>
<circle cx="51.1" cy="27.8" r="0.48"/>
<circle cx="33.4" cy="10.3" r="0.39"/>
<circle cx="49.5" cy="12.4" r="0.41"/>
<circle cx="32.2" cy="14.7" r="0.51"/>
<circle cx="47.3" cy="16.5" r="0.53"/>
<circle cx="48.7" cy="34.2" r="0.40"/>
<circle cx="33.4" cy="24.8" r="0.31"/>
<circle cx="43.4" cy="30.5" r="0.38"/>
<circle cx="51.0" cy="28.2" r="0.54"/>
<circle cx="41.8" cy="26.6" r="0.49"/>
<circle cx="52.2" cy="24.3" r="0.49"/>
<circle cx="29.4" cy="15.5" r="0.47"/>
<circle cx="44.1" cy="27.1" r="0.60"/>
<circle cx="33.5" cy="30.0" r="0.43"/>
<circle cx="51.2" cy="11.2" r="0.29"/>
<circle cx="45.0" cy="10.6" r="0.52"/>
<circle cx="57.0" cy="29.8" r="0.37"/>
<circle cx="29.6" cy="15.7" r="0.48"/>
<circle cx="29.9" cy="32.0" r="0.38"/>
<circle cx="28.5" cy="28.1" r="0.57"/>
</g>
<text x="2.4" y="7.6" font-size="7.4" font-weight="bold" fill="#fff" stroke="#fff" stroke-width="0.3">iii</text>
</svg>
<svg x="382.2" y="449.2" width="58.7" height="45.8" viewBox="0 0 58.7 45.8">
<rect width="58.7" height="45.8" fill="#263366"/>
<ellipse cx="27" cy="22" rx="24" ry="20" fill="#786e80" opacity="0.45" filter="url(#blur2)"/>
<g fill="#d0b0a0" opacity="0.7" filter="url(#blur03)">
<circle cx="45.3" cy="34.6" r="0.63"/>
<circle cx="38.1" cy="18.2" r="0.43"/>
<circle cx="24.8" cy="3.0" r="0.45"/>
<circle cx="20.9" cy="10.0" r="0.69"/>
<circle cx="34.8" cy="28.3" r="0.75"/>
<circle cx="19.7" cy="29.9" r="0.70"/>
<circle cx="21.2" cy="16.6" r="0.58"/>
<circle cx="22.4" cy="15.3" r="0.63"/>
<circle cx="36.7" cy="30.2" r="0.34"/>
<circle cx="8.0" cy="28.7" r="0.74"/>
<circle cx="24.2" cy="16.2" r="0.59"/>
<circle cx="20.7" cy="15.9" r="0.35"/>
<circle cx="39.7" cy="10.9" r="0.40"/>
<circle cx="16.9" cy="24.7" r="0.70"/>
<circle cx="20.0" cy="22.0" r="0.71"/>
<circle cx="37.3" cy="27.6" r="0.31"/>
<circle cx="26.6" cy="15.6" r="0.56"/>
<circle cx="41.3" cy="30.2" r="0.64"/>
<circle cx="10.9" cy="18.9" r="0.54"/>
<circle cx="8.4" cy="28.7" r="0.35"/>
<circle cx="16.1" cy="23.5" r="0.73"/>
<circle cx="32.2" cy="20.2" r="0.37"/>
<circle cx="21.4" cy="5.8" r="0.31"/>
<circle cx="14.7" cy="27.6" r="0.58"/>
<circle cx="37.9" cy="18.2" r="0.45"/>
<circle cx="34.9" cy="39.0" r="0.53"/>
<circle cx="26.4" cy="34.9" r="0.32"/>
<circle cx="16.5" cy="16.5" r="0.77"/>
<circle cx="19.8" cy="29.7" r="0.32"/>
<circle cx="33.1" cy="28.9" r="0.42"/>
<circle cx="35.2" cy="14.7" r="0.42"/>
<circle cx="0.4" cy="4.4" r="0.45"/>
<circle cx="28.0" cy="9.6" r="0.58"/>
<circle cx="27.8" cy="6.5" r="0.72"/>
<circle cx="17.1" cy="31.5" r="0.78"/>
<circle cx="2.2" cy="15.6" r="0.46"/>
<circle cx="44.8" cy="12.9" r="0.42"/>
<circle cx="42.4" cy="16.1" r="0.47"/>
<circle cx="26.4" cy="28.0" r="0.40"/>
<circle cx="24.1" cy="15.3" r="0.43"/>
<circle cx="9.2" cy="27.3" r="0.49"/>
<circle cx="29.5" cy="12.2" r="0.48"/>
<circle cx="20.0" cy="25.1" r="0.41"/>
<circle cx="41.6" cy="38.6" r="0.37"/>
<circle cx="21.8" cy="14.0" r="0.62"/>
<circle cx="19.2" cy="11.9" r="0.77"/>
<circle cx="16.4" cy="8.2" r="0.32"/>
<circle cx="17.2" cy="27.7" r="0.53"/>
<circle cx="54.4" cy="11.4" r="0.33"/>
<circle cx="20.5" cy="20.5" r="0.73"/>
<circle cx="46.9" cy="4.7" r="0.77"/>
<circle cx="51.2" cy="31.6" r="0.45"/>
<circle cx="36.7" cy="31.5" r="0.59"/>
<circle cx="43.4" cy="22.4" r="0.69"/>
<circle cx="8.6" cy="22.5" r="0.45"/>
<circle cx="38.1" cy="20.2" r="0.64"/>
<circle cx="26.7" cy="21.6" r="0.80"/>
<circle cx="56.0" cy="9.8" r="0.73"/>
<circle cx="14.0" cy="30.5" r="0.47"/>
<circle cx="30.4" cy="20.8" r="0.37"/>
<circle cx="53.2" cy="15.6" r="0.65"/>
<circle cx="44.9" cy="18.8" r="0.72"/>
<circle cx="41.6" cy="27.9" r="0.59"/>
<circle cx="31.3" cy="8.9" r="0.64"/>
<circle cx="42.3" cy="19.3" r="0.40"/>
<circle cx="56.3" cy="26.9" r="0.54"/>
<circle cx="13.2" cy="32.2" r="0.36"/>
<circle cx="28.9" cy="31.4" r="0.43"/>
<circle cx="34.2" cy="14.4" r="0.35"/>
<circle cx="39.8" cy="9.7" r="0.31"/>
<circle cx="16.7" cy="4.4" r="0.62"/>
<circle cx="29.4" cy="8.5" r="0.41"/>
<circle cx="26.2" cy="3.8" r="0.65"/>
<circle cx="32.9" cy="33.5" r="0.65"/>
<circle cx="11.8" cy="33.7" r="0.54"/>
<circle cx="27.4" cy="10.0" r="0.55"/>
<circle cx="33.1" cy="12.1" r="0.39"/>
<circle cx="21.8" cy="16.7" r="0.73"/>
<circle cx="18.5" cy="20.4" r="0.56"/>
<circle cx="19.9" cy="8.3" r="0.62"/>
<circle cx="39.3" cy="42.7" r="0.31"/>
<circle cx="21.4" cy="21.8" r="0.37"/>
<circle cx="21.5" cy="34.3" r="0.54"/>
<circle cx="16.0" cy="14.6" r="0.48"/>
<circle cx="38.6" cy="8.8" r="0.48"/>
<circle cx="24.6" cy="22.9" r="0.45"/>
<circle cx="34.4" cy="17.2" r="0.40"/>
<circle cx="28.9" cy="15.8" r="0.72"/>
<circle cx="29.2" cy="34.7" r="0.60"/>
<circle cx="46.7" cy="36.5" r="0.52"/>
<circle cx="30.2" cy="0.1" r="0.34"/>
<circle cx="39.2" cy="0.4" r="0.42"/>
<circle cx="18.5" cy="17.2" r="0.57"/>
<circle cx="27.2" cy="9.4" r="0.57"/>
<circle cx="47.3" cy="41.1" r="0.61"/>
<circle cx="30.0" cy="17.3" r="0.67"/>
<circle cx="43.1" cy="30.9" r="0.42"/>
<circle cx="32.8" cy="18.4" r="0.54"/>
<circle cx="12.4" cy="24.3" r="0.33"/>
<circle cx="6.4" cy="43.3" r="0.47"/>
<circle cx="24.6" cy="36.2" r="0.79"/>
<circle cx="30.9" cy="3.9" r="0.32"/>
<circle cx="24.5" cy="22.7" r="0.33"/>
<circle cx="19.0" cy="28.8" r="0.35"/>
<circle cx="0.9" cy="20.3" r="0.76"/>
<circle cx="40.7" cy="15.1" r="0.39"/>
<circle cx="42.3" cy="18.9" r="0.47"/>
<circle cx="35.6" cy="7.2" r="0.78"/>
<circle cx="4.6" cy="16.8" r="0.45"/>
<circle cx="27.5" cy="32.9" r="0.38"/>
<circle cx="34.3" cy="20.4" r="0.42"/>
<circle cx="20.2" cy="15.5" r="0.41"/>
<circle cx="26.8" cy="31.5" r="0.31"/>
<circle cx="25.6" cy="3.0" r="0.46"/>
<circle cx="42.5" cy="12.2" r="0.41"/>
<circle cx="37.6" cy="20.0" r="0.70"/>
<circle cx="27.5" cy="21.1" r="0.72"/>
<circle cx="11.4" cy="29.3" r="0.77"/>
<circle cx="16.4" cy="24.9" r="0.32"/>
<circle cx="39.4" cy="12.6" r="0.66"/>
<circle cx="24.3" cy="28.3" r="0.62"/>
<circle cx="19.9" cy="34.2" r="0.45"/>
<circle cx="18.8" cy="36.5" r="0.70"/>
<circle cx="40.7" cy="23.1" r="0.42"/>
<circle cx="42.6" cy="18.4" r="0.52"/>
<circle cx="40.7" cy="17.1" r="0.49"/>
<circle cx="18.1" cy="27.7" r="0.65"/>
<circle cx="22.9" cy="37.1" r="0.59"/>
<circle cx="29.6" cy="0.8" r="0.54"/>
<circle cx="49.0" cy="14.2" r="0.53"/>
<circle cx="8.0" cy="41.9" r="0.54"/>
<circle cx="26.8" cy="9.1" r="0.48"/>
<circle cx="51.1" cy="24.4" r="0.44"/>
<circle cx="2.9" cy="22.8" r="0.72"/>
<circle cx="47.8" cy="15.5" r="0.42"/>
<circle cx="31.5" cy="20.1" r="0.51"/>
<circle cx="52.8" cy="10.6" r="0.60"/>
<circle cx="33.3" cy="16.0" r="0.32"/>
<circle cx="39.9" cy="24.9" r="0.55"/>
<circle cx="32.0" cy="25.4" r="0.80"/>
<circle cx="37.6" cy="22.7" r="0.50"/>
<circle cx="36.9" cy="14.0" r="0.59"/>
<circle cx="34.0" cy="5.0" r="0.72"/>
<circle cx="45.6" cy="23.7" r="0.31"/>
<circle cx="29.0" cy="19.6" r="0.35"/>
<circle cx="8.1" cy="29.8" r="0.31"/>
<circle cx="22.5" cy="17.3" r="0.46"/>
<circle cx="50.3" cy="27.5" r="0.72"/>
<circle cx="28.6" cy="10.6" r="0.42"/>
<circle cx="53.9" cy="16.4" r="0.78"/>
<circle cx="0.4" cy="35.6" r="0.64"/>
<circle cx="31.0" cy="6.8" r="0.69"/>
<circle cx="15.0" cy="22.1" r="0.54"/>
<circle cx="48.7" cy="27.0" r="0.47"/>
<circle cx="38.2" cy="42.9" r="0.56"/>
<circle cx="41.6" cy="16.8" r="0.57"/>
<circle cx="41.1" cy="22.0" r="0.79"/>
<circle cx="29.8" cy="22.4" r="0.33"/>
<circle cx="49.4" cy="31.9" r="0.79"/>
<circle cx="28.5" cy="4.3" r="0.49"/>
<circle cx="21.2" cy="26.6" r="0.50"/>
<circle cx="46.7" cy="38.4" r="0.57"/>
<circle cx="5.9" cy="39.7" r="0.45"/>
<circle cx="43.6" cy="7.1" r="0.61"/>
<circle cx="9.4" cy="11.7" r="0.75"/>
<circle cx="46.2" cy="21.5" r="0.78"/>
<circle cx="42.9" cy="9.6" r="0.36"/>
<circle cx="38.1" cy="13.8" r="0.47"/>
<circle cx="33.1" cy="20.3" r="0.62"/>
<circle cx="28.5" cy="28.0" r="0.54"/>
<circle cx="2.8" cy="27.8" r="0.44"/>
<circle cx="23.7" cy="32.5" r="0.58"/>
<circle cx="40.0" cy="34.3" r="0.71"/>
<circle cx="22.6" cy="12.8" r="0.54"/>
<circle cx="41.1" cy="30.2" r="0.68"/>
<circle cx="48.6" cy="22.1" r="0.76"/>
<circle cx="24.6" cy="33.2" r="0.64"/>
<circle cx="33.6" cy="30.5" r="0.61"/>
<circle cx="18.0" cy="21.1" r="0.40"/>
<circle cx="34.0" cy="40.8" r="0.57"/>
<circle cx="24.3" cy="35.2" r="0.71"/>
<circle cx="42.1" cy="31.8" r="0.54"/>
<circle cx="38.9" cy="30.6" r="0.39"/>
<circle cx="23.9" cy="23.8" r="0.58"/>
<circle cx="37.4" cy="17.9" r="0.70"/>
<circle cx="12.0" cy="38.0" r="0.54"/>
<circle cx="26.3" cy="8.9" r="0.78"/>
<circle cx="0.7" cy="26.9" r="0.39"/>
<circle cx="25.6" cy="13.1" r="0.50"/>
<circle cx="10.9" cy="35.2" r="0.59"/>
<circle cx="43.5" cy="25.7" r="0.37"/>
<circle cx="35.2" cy="27.8" r="0.77"/>
<circle cx="50.7" cy="24.8" r="0.59"/>
<circle cx="42.1" cy="0.3" r="0.36"/>
<circle cx="34.4" cy="18.7" r="0.36"/>
<circle cx="28.8" cy="42.1" r="0.59"/>
<circle cx="23.1" cy="13.6" r="0.54"/>
<circle cx="5.9" cy="13.6" r="0.52"/>
<circle cx="32.0" cy="25.9" r="0.41"/>
<circle cx="26.1" cy="13.3" r="0.54"/>
<circle cx="22.7" cy="27.8" r="0.49"/>
<circle cx="30.0" cy="8.4" r="0.45"/>
<circle cx="28.0" cy="34.1" r="0.57"/>
<circle cx="32.8" cy="21.1" r="0.40"/>
<circle cx="11.6" cy="32.2" r="0.33"/>
<circle cx="45.9" cy="24.2" r="0.31"/>
<circle cx="36.9" cy="4.6" r="0.53"/>
<circle cx="44.2" cy="21.7" r="0.77"/>
<circle cx="28.2" cy="27.1" r="0.51"/>
<circle cx="5.2" cy="18.3" r="0.36"/>
<circle cx="23.8" cy="11.6" r="0.77"/>
<circle cx="34.5" cy="0.6" r="0.32"/>
<circle cx="30.6" cy="23.2" r="0.52"/>
<circle cx="35.1" cy="23.6" r="0.33"/>
<circle cx="43.8" cy="21.4" r="0.43"/>
<circle cx="34.1" cy="30.5" r="0.35"/>
<circle cx="29.4" cy="17.3" r="0.60"/>
<circle cx="36.1" cy="11.7" r="0.69"/>
<circle cx="45.1" cy="23.2" r="0.67"/>
<circle cx="20.8" cy="24.6" r="0.79"/>
<circle cx="31.6" cy="12.2" r="0.66"/>
<circle cx="37.3" cy="37.6" r="0.66"/>
<circle cx="13.9" cy="13.8" r="0.71"/>
<circle cx="22.1" cy="24.6" r="0.38"/>
<circle cx="42.4" cy="40.3" r="0.33"/>
<circle cx="46.2" cy="18.3" r="0.34"/>
<circle cx="29.0" cy="38.6" r="0.42"/>
<circle cx="30.9" cy="25.9" r="0.74"/>
<circle cx="28.8" cy="30.6" r="0.39"/>
<circle cx="29.4" cy="30.0" r="0.33"/>
<circle cx="25.1" cy="16.1" r="0.71"/>
<circle cx="38.2" cy="18.2" r="0.53"/>
<circle cx="32.6" cy="7.8" r="0.46"/>
<circle cx="54.2" cy="27.7" r="0.47"/>
<circle cx="30.4" cy="21.8" r="0.40"/>
<circle cx="12.3" cy="30.7" r="0.69"/>
<circle cx="30.5" cy="25.3" r="0.42"/>
<circle cx="56.4" cy="40.5" r="0.56"/>
<circle cx="30.9" cy="32.9" r="0.43"/>
<circle cx="14.4" cy="25.4" r="0.61"/>
<circle cx="31.9" cy="41.3" r="0.76"/>
<circle cx="27.1" cy="16.6" r="0.54"/>
<circle cx="29.4" cy="17.5" r="0.77"/>
<circle cx="32.5" cy="25.9" r="0.30"/>
<circle cx="29.2" cy="19.6" r="0.54"/>
<circle cx="12.4" cy="14.0" r="0.80"/>
<circle cx="25.9" cy="21.3" r="0.50"/>
<circle cx="44.3" cy="45.0" r="0.41"/>
<circle cx="18.6" cy="10.0" r="0.52"/>
<circle cx="15.8" cy="19.7" r="0.62"/>
<circle cx="4.8" cy="8.1" r="0.71"/>
<circle cx="49.7" cy="35.9" r="0.46"/>
<circle cx="46.3" cy="19.1" r="0.40"/>
<circle cx="8.3" cy="20.0" r="0.56"/>
<circle cx="12.0" cy="33.4" r="0.57"/>
<circle cx="31.0" cy="10.6" r="0.53"/>
<circle cx="51.8" cy="23.4" r="0.33"/>
<circle cx="39.7" cy="10.8" r="0.59"/>
<circle cx="12.5" cy="32.7" r="0.35"/>
<circle cx="37.3" cy="35.4" r="0.45"/>
<circle cx="9.5" cy="21.6" r="0.79"/>
<circle cx="25.3" cy="19.9" r="0.63"/>
<circle cx="23.0" cy="29.5" r="0.48"/>
<circle cx="48.0" cy="7.9" r="0.53"/>
<circle cx="38.6" cy="10.0" r="0.37"/>
<circle cx="21.7" cy="12.2" r="0.54"/>
<circle cx="34.7" cy="29.1" r="0.33"/>
<circle cx="50.4" cy="17.5" r="0.54"/>
<circle cx="17.7" cy="3.7" r="0.54"/>
<circle cx="26.8" cy="37.1" r="0.57"/>
<circle cx="19.2" cy="28.4" r="0.59"/>
<circle cx="20.6" cy="14.4" r="0.36"/>
<circle cx="24.7" cy="9.3" r="0.59"/>
<circle cx="35.8" cy="30.1" r="0.59"/>
<circle cx="55.8" cy="12.5" r="0.68"/>
<circle cx="11.3" cy="5.0" r="0.45"/>
<circle cx="46.2" cy="26.9" r="0.41"/>
<circle cx="2.4" cy="28.2" r="0.79"/>
<circle cx="50.4" cy="43.2" r="0.42"/>
<circle cx="0.2" cy="19.5" r="0.64"/>
<circle cx="3.8" cy="40.8" r="0.39"/>
<circle cx="31.1" cy="16.6" r="0.49"/>
<circle cx="38.3" cy="28.9" r="0.50"/>
<circle cx="36.0" cy="34.2" r="0.72"/>
<circle cx="20.4" cy="12.6" r="0.36"/>
<circle cx="47.9" cy="37.5" r="0.43"/>
<circle cx="17.8" cy="19.0" r="0.65"/>
<circle cx="41.6" cy="29.5" r="0.52"/>
<circle cx="16.7" cy="21.4" r="0.64"/>
<circle cx="37.0" cy="19.7" r="0.34"/>
<circle cx="24.6" cy="33.7" r="0.73"/>
<circle cx="31.4" cy="22.8" r="0.57"/>
<circle cx="16.8" cy="23.8" r="0.64"/>
<circle cx="30.7" cy="37.5" r="0.36"/>
<circle cx="56.8" cy="41.4" r="0.74"/>
<circle cx="26.5" cy="6.6" r="0.64"/>
<circle cx="28.4" cy="30.2" r="0.41"/>
<circle cx="25.3" cy="35.0" r="0.55"/>
<circle cx="25.3" cy="34.0" r="0.70"/>
<circle cx="30.5" cy="12.6" r="0.58"/>
<circle cx="43.5" cy="33.4" r="0.61"/>
<circle cx="39.3" cy="44.6" r="0.61"/>
<circle cx="38.6" cy="19.9" r="0.38"/>
<circle cx="31.3" cy="0.7" r="0.42"/>
<circle cx="18.3" cy="24.9" r="0.53"/>
<circle cx="38.6" cy="20.8" r="0.48"/>
<circle cx="8.1" cy="20.5" r="0.55"/>
<circle cx="43.8" cy="13.6" r="0.53"/>
<circle cx="40.6" cy="6.4" r="0.80"/>
<circle cx="46.6" cy="34.8" r="0.70"/>
<circle cx="25.8" cy="23.4" r="0.47"/>
<circle cx="51.9" cy="18.2" r="0.47"/>
<circle cx="30.7" cy="17.6" r="0.67"/>
<circle cx="23.1" cy="33.5" r="0.48"/>
<circle cx="11.5" cy="27.4" r="0.40"/>
<circle cx="22.3" cy="23.4" r="0.61"/>
<circle cx="33.8" cy="12.1" r="0.52"/>
<circle cx="55.0" cy="17.0" r="0.64"/>
<circle cx="6.4" cy="24.9" r="0.74"/>
<circle cx="17.0" cy="32.7" r="0.63"/>
<circle cx="21.8" cy="2.3" r="0.50"/>
<circle cx="22.3" cy="43.9" r="0.66"/>
<circle cx="15.5" cy="20.7" r="0.34"/>
<circle cx="43.7" cy="6.1" r="0.51"/>
<circle cx="48.0" cy="2.3" r="0.45"/>
<circle cx="13.1" cy="19.2" r="0.40"/>
<circle cx="16.3" cy="22.6" r="0.77"/>
<circle cx="38.5" cy="20.6" r="0.38"/>
<circle cx="13.6" cy="43.3" r="0.80"/>
<circle cx="10.8" cy="42.7" r="0.35"/>
<circle cx="48.6" cy="27.3" r="0.46"/>
<circle cx="29.1" cy="37.3" r="0.70"/>
<circle cx="9.3" cy="27.8" r="0.68"/>
<circle cx="41.9" cy="30.5" r="0.32"/>
<circle cx="29.2" cy="28.4" r="0.39"/>
<circle cx="29.5" cy="20.8" r="0.54"/>
<circle cx="28.9" cy="22.9" r="0.76"/>
<circle cx="13.5" cy="9.7" r="0.68"/>
<circle cx="37.3" cy="22.3" r="0.64"/>
<circle cx="36.8" cy="21.6" r="0.50"/>
<circle cx="18.7" cy="6.7" r="0.67"/>
<circle cx="37.7" cy="24.8" r="0.64"/>
<circle cx="25.9" cy="2.8" r="0.70"/>
<circle cx="27.2" cy="21.5" r="0.45"/>
<circle cx="33.9" cy="24.9" r="0.66"/>
<circle cx="3.5" cy="39.5" r="0.31"/>
<circle cx="11.9" cy="36.7" r="0.73"/>
<circle cx="31.4" cy="11.1" r="0.52"/>
<circle cx="29.5" cy="6.2" r="0.51"/>
<circle cx="37.9" cy="18.7" r="0.65"/>
<circle cx="14.2" cy="36.4" r="0.68"/>
<circle cx="47.8" cy="7.0" r="0.55"/>
<circle cx="7.0" cy="12.5" r="0.68"/>
<circle cx="29.4" cy="20.9" r="0.31"/>
<circle cx="47.8" cy="17.4" r="0.35"/>
<circle cx="24.4" cy="28.8" r="0.46"/>
<circle cx="42.3" cy="38.2" r="0.38"/>
<circle cx="22.1" cy="23.3" r="0.50"/>
<circle cx="25.9" cy="38.2" r="0.43"/>
<circle cx="29.9" cy="33.8" r="0.77"/>
<circle cx="35.8" cy="21.6" r="0.67"/>
<circle cx="39.2" cy="25.9" r="0.69"/>
<circle cx="23.8" cy="2.2" r="0.55"/>
<circle cx="22.4" cy="23.4" r="0.63"/>
<circle cx="17.8" cy="12.3" r="0.37"/>
<circle cx="25.4" cy="45.5" r="0.34"/>
<circle cx="6.1" cy="9.1" r="0.67"/>
<circle cx="11.2" cy="36.3" r="0.41"/>
</g>
<g fill="#b89888" opacity="0.6" filter="url(#blur03)">
<circle cx="16.0" cy="29.3" r="0.31"/>
<circle cx="30.1" cy="31.4" r="0.27"/>
<circle cx="2.6" cy="37.2" r="0.65"/>
<circle cx="56.8" cy="5.1" r="0.67"/>
<circle cx="33.3" cy="25.4" r="0.34"/>
<circle cx="21.4" cy="8.7" r="0.26"/>
<circle cx="41.2" cy="4.5" r="0.29"/>
<circle cx="46.0" cy="37.9" r="0.30"/>
<circle cx="26.0" cy="7.0" r="0.42"/>
<circle cx="26.9" cy="13.0" r="0.42"/>
<circle cx="26.9" cy="32.9" r="0.35"/>
<circle cx="9.8" cy="21.2" r="0.40"/>
<circle cx="13.8" cy="7.1" r="0.66"/>
<circle cx="47.2" cy="5.3" r="0.58"/>
<circle cx="25.9" cy="3.0" r="0.29"/>
<circle cx="58.7" cy="4.9" r="0.51"/>
<circle cx="41.2" cy="34.4" r="0.60"/>
<circle cx="4.5" cy="17.5" r="0.31"/>
<circle cx="42.2" cy="36.3" r="0.37"/>
<circle cx="34.4" cy="11.4" r="0.43"/>
<circle cx="11.0" cy="15.0" r="0.33"/>
<circle cx="0.8" cy="18.1" r="0.66"/>
<circle cx="36.9" cy="30.3" r="0.48"/>
<circle cx="10.0" cy="11.7" r="0.30"/>
<circle cx="35.5" cy="7.4" r="0.58"/>
<circle cx="1.6" cy="33.3" r="0.37"/>
<circle cx="9.5" cy="21.0" r="0.36"/>
<circle cx="46.1" cy="30.0" r="0.48"/>
<circle cx="31.3" cy="35.1" r="0.58"/>
<circle cx="25.1" cy="25.5" r="0.47"/>
<circle cx="37.2" cy="37.0" r="0.64"/>
<circle cx="55.9" cy="1.1" r="0.28"/>
<circle cx="6.7" cy="43.5" r="0.44"/>
<circle cx="29.0" cy="20.6" r="0.48"/>
<circle cx="39.4" cy="28.6" r="0.35"/>
<circle cx="28.6" cy="38.9" r="0.48"/>
<circle cx="27.0" cy="13.3" r="0.45"/>
<circle cx="22.8" cy="8.6" r="0.55"/>
<circle cx="4.0" cy="11.3" r="0.26"/>
<circle cx="47.4" cy="19.6" r="0.44"/>
<circle cx="50.9" cy="34.5" r="0.37"/>
<circle cx="37.1" cy="12.6" r="0.43"/>
<circle cx="5.8" cy="23.4" r="0.57"/>
<circle cx="15.1" cy="16.5" r="0.37"/>
<circle cx="40.1" cy="42.3" r="0.68"/>
<circle cx="44.7" cy="36.6" r="0.45"/>
<circle cx="18.2" cy="40.8" r="0.74"/>
<circle cx="42.1" cy="11.6" r="0.28"/>
<circle cx="37.5" cy="3.6" r="0.68"/>
<circle cx="10.6" cy="12.8" r="0.30"/>
<circle cx="45.7" cy="8.2" r="0.33"/>
<circle cx="21.0" cy="5.6" r="0.29"/>
<circle cx="53.8" cy="18.8" r="0.37"/>
<circle cx="10.2" cy="33.8" r="0.27"/>
<circle cx="30.0" cy="20.0" r="0.52"/>
<circle cx="20.7" cy="41.9" r="0.28"/>
<circle cx="44.5" cy="6.9" r="0.28"/>
<circle cx="6.0" cy="12.5" r="0.49"/>
<circle cx="13.9" cy="7.9" r="0.32"/>
<circle cx="47.5" cy="41.2" r="0.39"/>
<circle cx="44.7" cy="30.6" r="0.68"/>
<circle cx="53.8" cy="26.4" r="0.37"/>
<circle cx="23.6" cy="23.7" r="0.28"/>
<circle cx="17.4" cy="4.8" r="0.61"/>
<circle cx="13.9" cy="7.1" r="0.39"/>
<circle cx="36.1" cy="32.0" r="0.43"/>
<circle cx="22.3" cy="1.6" r="0.49"/>
<circle cx="37.1" cy="25.3" r="0.57"/>
<circle cx="32.2" cy="37.7" r="0.68"/>
<circle cx="29.3" cy="39.1" r="0.33"/>
<circle cx="10.7" cy="41.1" r="0.41"/>
<circle cx="22.1" cy="5.4" r="0.54"/>
<circle cx="42.4" cy="3.5" r="0.40"/>
<circle cx="3.0" cy="19.5" r="0.37"/>
<circle cx="34.5" cy="31.2" r="0.46"/>
<circle cx="28.9" cy="44.6" r="0.59"/>
<circle cx="6.0" cy="35.6" r="0.48"/>
<circle cx="52.0" cy="6.6" r="0.49"/>
<circle cx="57.3" cy="36.2" r="0.67"/>
<circle cx="53.6" cy="39.5" r="0.58"/>
<circle cx="3.4" cy="33.7" r="0.50"/>
<circle cx="4.7" cy="6.2" r="0.72"/>
<circle cx="0.3" cy="10.2" r="0.65"/>
<circle cx="56.6" cy="10.8" r="0.74"/>
<circle cx="35.9" cy="20.6" r="0.50"/>
<circle cx="26.9" cy="25.8" r="0.31"/>
<circle cx="48.3" cy="18.3" r="0.43"/>
<circle cx="11.1" cy="8.9" r="0.54"/>
<circle cx="53.9" cy="8.0" r="0.62"/>
<circle cx="50.8" cy="25.2" r="0.69"/>
<circle cx="52.8" cy="29.3" r="0.64"/>
<circle cx="26.5" cy="5.5" r="0.46"/>
<circle cx="27.1" cy="10.9" r="0.36"/>
<circle cx="24.7" cy="44.1" r="0.75"/>
<circle cx="9.8" cy="38.6" r="0.40"/>
<circle cx="23.9" cy="40.5" r="0.59"/>
<circle cx="51.1" cy="4.8" r="0.49"/>
<circle cx="12.9" cy="33.9" r="0.27"/>
<circle cx="25.3" cy="32.4" r="0.58"/>
<circle cx="33.9" cy="45.8" r="0.34"/>
<circle cx="32.1" cy="8.6" r="0.39"/>
<circle cx="37.5" cy="27.1" r="0.46"/>
<circle cx="5.3" cy="21.7" r="0.53"/>
<circle cx="38.0" cy="28.6" r="0.39"/>
<circle cx="34.1" cy="30.6" r="0.40"/>
<circle cx="49.4" cy="6.9" r="0.75"/>
<circle cx="56.3" cy="45.7" r="0.26"/>
<circle cx="23.9" cy="4.2" r="0.61"/>
<circle cx="34.3" cy="33.1" r="0.61"/>
<circle cx="0.7" cy="39.1" r="0.73"/>
<circle cx="36.0" cy="12.5" r="0.72"/>
<circle cx="31.7" cy="41.4" r="0.56"/>
<circle cx="57.7" cy="24.6" r="0.37"/>
<circle cx="0.9" cy="5.1" r="0.38"/>
<circle cx="17.7" cy="41.9" r="0.32"/>
<circle cx="16.3" cy="26.1" r="0.49"/>
<circle cx="26.2" cy="1.3" r="0.32"/>
<circle cx="17.2" cy="39.4" r="0.57"/>
<circle cx="45.9" cy="7.2" r="0.73"/>
<circle cx="48.7" cy="20.0" r="0.73"/>
<circle cx="28.0" cy="14.9" r="0.61"/>
<circle cx="9.0" cy="32.1" r="0.34"/>
<circle cx="54.4" cy="29.2" r="0.68"/>
<circle cx="52.2" cy="30.7" r="0.54"/>
<circle cx="13.2" cy="35.1" r="0.66"/>
<circle cx="26.3" cy="1.2" r="0.39"/>
<circle cx="34.8" cy="29.9" r="0.68"/>
<circle cx="0.6" cy="30.0" r="0.39"/>
<circle cx="17.1" cy="34.1" r="0.46"/>
<circle cx="26.8" cy="30.2" r="0.67"/>
<circle cx="56.7" cy="15.1" r="0.48"/>
<circle cx="7.9" cy="13.0" r="0.55"/>
<circle cx="27.4" cy="14.5" r="0.58"/>
<circle cx="49.8" cy="14.2" r="0.45"/>
<circle cx="33.3" cy="43.3" r="0.56"/>
<circle cx="11.5" cy="19.2" r="0.38"/>
<circle cx="22.9" cy="25.5" r="0.45"/>
<circle cx="17.4" cy="8.6" r="0.36"/>
<circle cx="29.5" cy="5.5" r="0.36"/>
<circle cx="50.7" cy="8.0" r="0.68"/>
<circle cx="32.7" cy="14.4" r="0.44"/>
<circle cx="8.3" cy="35.9" r="0.38"/>
<circle cx="30.2" cy="38.1" r="0.54"/>
<circle cx="22.5" cy="31.3" r="0.68"/>
<circle cx="29.9" cy="20.5" r="0.54"/>
<circle cx="8.7" cy="35.8" r="0.55"/>
<circle cx="9.2" cy="7.1" r="0.65"/>
<circle cx="54.9" cy="18.2" r="0.26"/>
<circle cx="56.9" cy="1.9" r="0.74"/>
<circle cx="29.8" cy="40.7" r="0.35"/>
<circle cx="31.4" cy="25.4" r="0.69"/>
<circle cx="57.9" cy="6.0" r="0.61"/>
<circle cx="5.4" cy="41.6" r="0.73"/>
<circle cx="27.0" cy="22.6" r="0.43"/>
<circle cx="32.5" cy="14.1" r="0.41"/>
<circle cx="8.1" cy="33.9" r="0.27"/>
<circle cx="6.5" cy="3.2" r="0.54"/>
<circle cx="4.4" cy="7.2" r="0.54"/>
<circle cx="47.3" cy="36.5" r="0.64"/>
<circle cx="46.6" cy="39.8" r="0.52"/>
<circle cx="36.7" cy="7.0" r="0.27"/>
<circle cx="48.2" cy="21.9" r="0.59"/>
<circle cx="45.4" cy="12.9" r="0.62"/>
<circle cx="9.8" cy="44.4" r="0.64"/>
<circle cx="6.6" cy="6.3" r="0.57"/>
<circle cx="19.8" cy="36.6" r="0.59"/>
<circle cx="55.1" cy="9.6" r="0.29"/>
<circle cx="51.8" cy="28.5" r="0.38"/>
<circle cx="17.4" cy="5.5" r="0.56"/>
<circle cx="23.4" cy="12.8" r="0.52"/>
<circle cx="38.5" cy="21.4" r="0.43"/>
<circle cx="51.3" cy="28.1" r="0.63"/>
<circle cx="42.1" cy="2.6" r="0.67"/>
<circle cx="14.7" cy="24.2" r="0.58"/>
<circle cx="58.3" cy="34.3" r="0.55"/>
<circle cx="11.6" cy="13.0" r="0.55"/>
<circle cx="36.4" cy="39.4" r="0.67"/>
<circle cx="55.4" cy="32.2" r="0.71"/>
<circle cx="47.2" cy="17.7" r="0.55"/>
<circle cx="38.4" cy="33.2" r="0.54"/>
<circle cx="10.8" cy="26.2" r="0.39"/>
<circle cx="9.2" cy="36.5" r="0.43"/>
<circle cx="55.0" cy="40.5" r="0.60"/>
<circle cx="8.8" cy="9.9" r="0.26"/>
<circle cx="57.2" cy="29.5" r="0.41"/>
<circle cx="35.6" cy="37.0" r="0.64"/>
<circle cx="42.0" cy="33.4" r="0.30"/>
<circle cx="3.5" cy="5.9" r="0.49"/>
<circle cx="11.8" cy="26.7" r="0.63"/>
<circle cx="12.6" cy="20.5" r="0.67"/>
<circle cx="8.0" cy="18.8" r="0.64"/>
<circle cx="2.7" cy="21.3" r="0.28"/>
<circle cx="33.0" cy="2.2" r="0.48"/>
<circle cx="2.0" cy="27.2" r="0.64"/>
<circle cx="15.5" cy="12.9" r="0.50"/>
<circle cx="24.2" cy="9.1" r="0.31"/>
<circle cx="21.6" cy="43.9" r="0.41"/>
<circle cx="26.4" cy="7.3" r="0.57"/>
<circle cx="44.7" cy="42.7" r="0.34"/>
<circle cx="11.0" cy="10.1" r="0.29"/>
</g>
<text x="2.4" y="7.6" font-size="7.4" font-weight="bold" fill="#fff" stroke="#fff" stroke-width="0.3">iv</text>
</svg>
<svg x="322.2" y="497.9" width="58.7" height="45.8" viewBox="0 0 58.7 45.8">
<rect width="58.7" height="45.8" fill="#363c5a"/>
<ellipse cx="24" cy="36" rx="14" ry="12" fill="#a08878" opacity="0.45" filter="url(#blur2)"/>
<g fill="#c8a890" opacity="0.7" filter="url(#blur03)">
<circle cx="21.9" cy="24.5" r="0.67"/>
<circle cx="46.6" cy="28.0" r="0.64"/>
<circle cx="20.8" cy="37.7" r="0.65"/>
<circle cx="18.1" cy="35.7" r="0.41"/>
<circle cx="36.6" cy="2.8" r="0.70"/>
<circle cx="10.6" cy="24.3" r="0.53"/>
<circle cx="15.4" cy="27.7" r="0.58"/>
<circle cx="9.2" cy="39.0" r="0.77"/>
<circle cx="11.9" cy="13.7" r="0.73"/>
<circle cx="35.1" cy="24.5" r="0.77"/>
<circle cx="27.1" cy="25.9" r="0.39"/>
<circle cx="38.4" cy="16.9" r="0.66"/>
<circle cx="16.5" cy="40.9" r="0.74"/>
<circle cx="25.2" cy="29.1" r="0.32"/>
<circle cx="7.6" cy="20.2" r="0.55"/>
<circle cx="14.2" cy="33.1" r="0.46"/>
<circle cx="25.2" cy="14.1" r="0.75"/>
<circle cx="12.8" cy="38.0" r="0.34"/>
<circle cx="39.4" cy="11.3" r="0.54"/>
<circle cx="31.3" cy="35.8" r="0.49"/>
<circle cx="19.4" cy="13.5" r="0.32"/>
<circle cx="44.6" cy="4.2" r="0.38"/>
<circle cx="5.1" cy="25.0" r="0.79"/>
<circle cx="24.5" cy="26.3" r="0.72"/>
<circle cx="6.9" cy="18.4" r="0.69"/>
<circle cx="3.4" cy="13.1" r="0.43"/>
<circle cx="21.5" cy="26.0" r="0.47"/>
<circle cx="12.4" cy="14.0" r="0.47"/>
<circle cx="5.1" cy="10.2" r="0.60"/>
<circle cx="21.8" cy="23.5" r="0.63"/>
<circle cx="12.5" cy="36.3" r="0.56"/>
<circle cx="26.1" cy="33.3" r="0.79"/>
<circle cx="15.5" cy="13.8" r="0.46"/>
<circle cx="4.0" cy="11.7" r="0.47"/>
<circle cx="27.4" cy="28.1" r="0.73"/>
<circle cx="19.2" cy="18.4" r="0.72"/>
<circle cx="9.6" cy="19.2" r="0.75"/>
<circle cx="24.1" cy="29.6" r="0.47"/>
<circle cx="18.7" cy="7.4" r="0.54"/>
<circle cx="30.8" cy="17.3" r="0.69"/>
<circle cx="42.7" cy="25.7" r="0.38"/>
<circle cx="6.1" cy="2.8" r="0.63"/>
<circle cx="5.5" cy="16.6" r="0.68"/>
<circle cx="13.6" cy="32.5" r="0.58"/>
<circle cx="13.6" cy="24.1" r="0.57"/>
<circle cx="12.6" cy="26.7" r="0.65"/>
<circle cx="22.1" cy="12.5" r="0.73"/>
<circle cx="39.1" cy="23.4" r="0.50"/>
<circle cx="19.0" cy="32.3" r="0.44"/>
<circle cx="24.6" cy="25.0" r="0.76"/>
<circle cx="12.6" cy="1.8" r="0.35"/>
<circle cx="14.6" cy="17.5" r="0.64"/>
<circle cx="25.7" cy="3.5" r="0.57"/>
<circle cx="27.0" cy="18.3" r="0.38"/>
<circle cx="22.9" cy="21.5" r="0.51"/>
<circle cx="8.3" cy="38.1" r="0.55"/>
<circle cx="5.4" cy="27.1" r="0.53"/>
<circle cx="8.6" cy="16.5" r="0.51"/>
<circle cx="51.7" cy="7.6" r="0.42"/>
<circle cx="22.7" cy="24.0" r="0.47"/>
<circle cx="26.4" cy="20.0" r="0.63"/>
<circle cx="37.9" cy="24.3" r="0.53"/>
<circle cx="34.0" cy="27.9" r="0.53"/>
<circle cx="23.1" cy="11.5" r="0.70"/>
<circle cx="4.7" cy="36.2" r="0.68"/>
<circle cx="5.9" cy="29.9" r="0.79"/>
<circle cx="5.8" cy="17.7" r="0.41"/>
<circle cx="1.0" cy="24.2" r="0.65"/>
<circle cx="15.3" cy="13.7" r="0.73"/>
<circle cx="12.3" cy="27.7" r="0.73"/>
<circle cx="25.4" cy="20.9" r="0.74"/>
<circle cx="16.1" cy="14.7" r="0.59"/>
<circle cx="26.6" cy="21.2" r="0.63"/>
<circle cx="20.4" cy="32.9" r="0.78"/>
<circle cx="39.0" cy="24.4" r="0.70"/>
<circle cx="9.1" cy="34.1" r="0.61"/>
<circle cx="27.9" cy="5.0" r="0.53"/>
<circle cx="10.8" cy="14.8" r="0.71"/>
<circle cx="35.2" cy="7.3" r="0.46"/>
<circle cx="6.1" cy="39.3" r="0.35"/>
<circle cx="26.3" cy="32.4" r="0.64"/>
<circle cx="22.6" cy="45.3" r="0.34"/>
<circle cx="12.7" cy="4.7" r="0.43"/>
<circle cx="20.7" cy="35.6" r="0.55"/>
<circle cx="23.8" cy="34.4" r="0.70"/>
<circle cx="27.1" cy="21.8" r="0.56"/>
<circle cx="5.1" cy="18.7" r="0.69"/>
<circle cx="24.9" cy="3.6" r="0.61"/>
<circle cx="21.4" cy="21.2" r="0.68"/>
<circle cx="22.1" cy="37.9" r="0.50"/>
<circle cx="2.8" cy="22.7" r="0.59"/>
<circle cx="15.0" cy="37.1" r="0.63"/>
<circle cx="31.6" cy="19.3" r="0.30"/>
<circle cx="36.5" cy="1.7" r="0.72"/>
<circle cx="11.1" cy="14.0" r="0.33"/>
<circle cx="32.2" cy="17.8" r="0.36"/>
<circle cx="17.2" cy="22.0" r="0.49"/>
<circle cx="1.3" cy="9.8" r="0.48"/>
<circle cx="24.0" cy="37.1" r="0.71"/>
<circle cx="26.0" cy="29.1" r="0.47"/>
<circle cx="45.7" cy="16.4" r="0.78"/>
<circle cx="34.6" cy="29.9" r="0.37"/>
<circle cx="0.2" cy="12.3" r="0.54"/>
<circle cx="12.8" cy="5.3" r="0.55"/>
<circle cx="12.6" cy="31.6" r="0.66"/>
<circle cx="53.9" cy="20.7" r="0.76"/>
<circle cx="31.0" cy="8.3" r="0.55"/>
<circle cx="36.9" cy="42.2" r="0.39"/>
<circle cx="43.3" cy="13.3" r="0.44"/>
<circle cx="38.2" cy="12.0" r="0.71"/>
<circle cx="28.0" cy="32.0" r="0.38"/>
<circle cx="29.1" cy="21.2" r="0.52"/>
<circle cx="20.2" cy="10.9" r="0.62"/>
<circle cx="11.0" cy="15.3" r="0.76"/>
<circle cx="9.6" cy="5.0" r="0.67"/>
<circle cx="14.2" cy="19.2" r="0.76"/>
<circle cx="25.7" cy="22.7" r="0.48"/>
<circle cx="22.7" cy="31.9" r="0.59"/>
<circle cx="13.6" cy="28.0" r="0.54"/>
<circle cx="17.6" cy="17.9" r="0.62"/>
<circle cx="6.7" cy="2.7" r="0.80"/>
<circle cx="29.2" cy="15.8" r="0.34"/>
<circle cx="16.0" cy="32.4" r="0.73"/>
<circle cx="8.9" cy="38.4" r="0.66"/>
<circle cx="10.5" cy="9.1" r="0.38"/>
<circle cx="4.1" cy="31.8" r="0.74"/>
<circle cx="9.0" cy="1.1" r="0.48"/>
<circle cx="29.5" cy="29.7" r="0.75"/>
<circle cx="20.4" cy="32.1" r="0.33"/>
<circle cx="28.9" cy="25.0" r="0.34"/>
<circle cx="17.6" cy="28.2" r="0.67"/>
<circle cx="14.9" cy="11.4" r="0.66"/>
<circle cx="43.1" cy="27.8" r="0.62"/>
<circle cx="20.1" cy="17.2" r="0.78"/>
<circle cx="34.8" cy="23.6" r="0.46"/>
<circle cx="4.2" cy="29.2" r="0.78"/>
<circle cx="16.7" cy="11.6" r="0.75"/>
<circle cx="20.6" cy="22.2" r="0.55"/>
<circle cx="16.5" cy="36.3" r="0.48"/>
<circle cx="29.2" cy="8.5" r="0.42"/>
<circle cx="26.8" cy="28.3" r="0.49"/>
<circle cx="5.3" cy="20.7" r="0.51"/>
<circle cx="9.0" cy="22.9" r="0.78"/>
<circle cx="22.4" cy="38.2" r="0.63"/>
<circle cx="27.0" cy="12.9" r="0.62"/>
<circle cx="20.0" cy="27.1" r="0.78"/>
<circle cx="40.1" cy="34.8" r="0.32"/>
<circle cx="15.2" cy="41.1" r="0.75"/>
<circle cx="23.6" cy="13.9" r="0.30"/>
<circle cx="20.4" cy="1.8" r="0.77"/>
<circle cx="32.9" cy="40.5" r="0.61"/>
<circle cx="38.1" cy="6.1" r="0.68"/>
<circle cx="23.2" cy="20.3" r="0.79"/>
<circle cx="29.2" cy="38.7" r="0.74"/>
<circle cx="37.5" cy="20.9" r="0.75"/>
<circle cx="26.0" cy="26.0" r="0.43"/>
<circle cx="34.5" cy="9.3" r="0.51"/>
<circle cx="33.5" cy="16.5" r="0.37"/>
<circle cx="39.9" cy="16.9" r="0.80"/>
<circle cx="23.0" cy="8.7" r="0.75"/>
<circle cx="21.1" cy="26.3" r="0.43"/>
<circle cx="25.3" cy="23.2" r="0.68"/>
<circle cx="13.3" cy="23.2" r="0.40"/>
<circle cx="17.5" cy="11.4" r="0.74"/>
<circle cx="36.2" cy="30.7" r="0.73"/>
<circle cx="20.8" cy="36.3" r="0.59"/>
<circle cx="28.6" cy="42.9" r="0.76"/>
<circle cx="16.6" cy="32.7" r="0.74"/>
<circle cx="44.0" cy="34.0" r="0.51"/>
<circle cx="23.8" cy="12.0" r="0.78"/>
<circle cx="10.3" cy="9.3" r="0.34"/>
<circle cx="11.7" cy="20.0" r="0.66"/>
<circle cx="16.1" cy="34.2" r="0.37"/>
<circle cx="19.8" cy="32.2" r="0.44"/>
<circle cx="22.0" cy="11.9" r="0.76"/>
<circle cx="11.9" cy="36.9" r="0.57"/>
<circle cx="7.7" cy="15.5" r="0.63"/>
<circle cx="22.9" cy="34.1" r="0.47"/>
<circle cx="10.8" cy="29.0" r="0.58"/>
<circle cx="32.2" cy="31.5" r="0.53"/>
<circle cx="14.3" cy="20.3" r="0.63"/>
</g>
<g fill="#d8c0a8" opacity="0.75" filter="url(#blur03)">
<circle cx="4.1" cy="39.8" r="0.37"/>
<circle cx="11.2" cy="43.1" r="0.77"/>
<circle cx="31.0" cy="22.3" r="0.52"/>
<circle cx="25.1" cy="41.3" r="0.62"/>
<circle cx="19.1" cy="29.7" r="0.40"/>
<circle cx="29.6" cy="31.6" r="0.42"/>
<circle cx="31.8" cy="25.5" r="0.64"/>
<circle cx="27.5" cy="26.7" r="0.61"/>
<circle cx="19.7" cy="38.7" r="0.77"/>
<circle cx="36.1" cy="43.5" r="0.46"/>
<circle cx="23.9" cy="21.0" r="0.69"/>
<circle cx="42.1" cy="38.1" r="0.42"/>
<circle cx="26.9" cy="32.5" r="0.73"/>
<circle cx="25.4" cy="33.5" r="0.39"/>
<circle cx="27.5" cy="38.8" r="0.75"/>
<circle cx="31.7" cy="37.2" r="0.72"/>
<circle cx="33.9" cy="37.0" r="0.72"/>
<circle cx="38.4" cy="29.4" r="0.33"/>
<circle cx="38.3" cy="38.9" r="0.53"/>
<circle cx="10.5" cy="36.7" r="0.70"/>
<circle cx="26.2" cy="36.9" r="0.60"/>
<circle cx="23.9" cy="26.0" r="0.33"/>
<circle cx="42.5" cy="29.4" r="0.75"/>
<circle cx="23.7" cy="35.2" r="0.52"/>
<circle cx="26.5" cy="40.7" r="0.54"/>
<circle cx="31.9" cy="28.0" r="0.79"/>
<circle cx="21.6" cy="38.5" r="0.70"/>
<circle cx="31.8" cy="30.4" r="0.42"/>
<circle cx="19.6" cy="31.9" r="0.50"/>
<circle cx="11.8" cy="30.0" r="0.67"/>
<circle cx="31.4" cy="40.1" r="0.56"/>
<circle cx="22.8" cy="38.4" r="0.43"/>
<circle cx="12.3" cy="39.8" r="0.79"/>
<circle cx="27.3" cy="44.7" r="0.40"/>
<circle cx="29.0" cy="40.2" r="0.51"/>
<circle cx="28.4" cy="31.0" r="0.77"/>
<circle cx="25.8" cy="29.1" r="0.74"/>
<circle cx="23.8" cy="37.3" r="0.53"/>
<circle cx="14.1" cy="28.6" r="0.31"/>
<circle cx="37.6" cy="36.9" r="0.76"/>
<circle cx="8.7" cy="36.7" r="0.39"/>
<circle cx="30.2" cy="42.1" r="0.78"/>
<circle cx="32.3" cy="41.7" r="0.64"/>
<circle cx="40.2" cy="37.8" r="0.40"/>
<circle cx="29.9" cy="27.7" r="0.33"/>
<circle cx="26.3" cy="43.1" r="0.33"/>
<circle cx="23.3" cy="28.7" r="0.37"/>
<circle cx="14.0" cy="39.5" r="0.40"/>
<circle cx="22.9" cy="41.1" r="0.52"/>
<circle cx="25.4" cy="37.3" r="0.78"/>
<circle cx="26.5" cy="35.6" r="0.75"/>
<circle cx="20.9" cy="44.3" r="0.56"/>
<circle cx="31.2" cy="39.1" r="0.51"/>
<circle cx="13.3" cy="33.3" r="0.48"/>
<circle cx="19.5" cy="35.6" r="0.65"/>
<circle cx="19.1" cy="33.6" r="0.53"/>
<circle cx="13.5" cy="35.8" r="0.41"/>
<circle cx="12.5" cy="36.8" r="0.79"/>
<circle cx="34.0" cy="27.0" r="0.48"/>
<circle cx="16.1" cy="35.3" r="0.60"/>
<circle cx="27.8" cy="24.1" r="0.77"/>
<circle cx="25.4" cy="23.8" r="0.53"/>
<circle cx="25.2" cy="42.7" r="0.56"/>
<circle cx="13.5" cy="37.1" r="0.31"/>
<circle cx="32.7" cy="35.2" r="0.46"/>
<circle cx="29.1" cy="30.3" r="0.69"/>
<circle cx="32.8" cy="41.2" r="0.32"/>
<circle cx="8.0" cy="35.6" r="0.43"/>
<circle cx="15.1" cy="26.9" r="0.50"/>
<circle cx="38.6" cy="24.0" r="0.79"/>
<circle cx="30.0" cy="31.3" r="0.68"/>
<circle cx="26.6" cy="28.6" r="0.75"/>
<circle cx="34.2" cy="44.4" r="0.65"/>
<circle cx="24.6" cy="39.6" r="0.64"/>
<circle cx="30.6" cy="39.1" r="0.76"/>
<circle cx="23.3" cy="29.1" r="0.52"/>
<circle cx="12.3" cy="32.4" r="0.42"/>
<circle cx="30.3" cy="33.6" r="0.65"/>
<circle cx="42.7" cy="34.6" r="0.32"/>
<circle cx="10.2" cy="33.1" r="0.53"/>
<circle cx="23.3" cy="40.9" r="0.48"/>
<circle cx="17.6" cy="28.8" r="0.72"/>
<circle cx="32.1" cy="34.9" r="0.49"/>
<circle cx="22.2" cy="38.4" r="0.40"/>
<circle cx="25.6" cy="30.0" r="0.43"/>
<circle cx="24.4" cy="35.4" r="0.46"/>
<circle cx="27.7" cy="42.0" r="0.37"/>
<circle cx="21.9" cy="30.7" r="0.64"/>
<circle cx="35.9" cy="44.1" r="0.38"/>
<circle cx="12.7" cy="39.8" r="0.35"/>
<circle cx="11.7" cy="33.5" r="0.51"/>
<circle cx="23.4" cy="27.3" r="0.32"/>
<circle cx="26.4" cy="17.2" r="0.37"/>
<circle cx="29.9" cy="44.0" r="0.62"/>
<circle cx="18.6" cy="37.3" r="0.55"/>
<circle cx="17.7" cy="43.1" r="0.76"/>
<circle cx="29.6" cy="34.0" r="0.55"/>
<circle cx="27.5" cy="38.8" r="0.58"/>
<circle cx="38.6" cy="39.5" r="0.65"/>
<circle cx="38.9" cy="34.5" r="0.72"/>
<circle cx="37.3" cy="30.5" r="0.70"/>
<circle cx="25.5" cy="40.8" r="0.34"/>
<circle cx="29.2" cy="25.0" r="0.52"/>
<circle cx="28.8" cy="37.0" r="0.71"/>
<circle cx="19.9" cy="31.3" r="0.76"/>
<circle cx="21.6" cy="35.3" r="0.79"/>
<circle cx="18.7" cy="42.6" r="0.75"/>
<circle cx="30.4" cy="33.6" r="0.74"/>
<circle cx="23.9" cy="37.5" r="0.34"/>
<circle cx="30.2" cy="43.8" r="0.43"/>
<circle cx="28.8" cy="30.2" r="0.34"/>
<circle cx="20.0" cy="36.1" r="0.30"/>
<circle cx="27.7" cy="34.6" r="0.36"/>
<circle cx="23.7" cy="39.5" r="0.52"/>
<circle cx="19.6" cy="29.9" r="0.57"/>
<circle cx="29.1" cy="37.3" r="0.43"/>
<circle cx="13.6" cy="27.7" r="0.78"/>
<circle cx="18.4" cy="36.8" r="0.48"/>
<circle cx="19.2" cy="28.9" r="0.54"/>
<circle cx="22.5" cy="25.1" r="0.76"/>
<circle cx="8.9" cy="35.6" r="0.78"/>
<circle cx="28.3" cy="33.7" r="0.79"/>
<circle cx="5.7" cy="31.3" r="0.75"/>
<circle cx="33.7" cy="26.0" r="0.67"/>
<circle cx="35.9" cy="36.0" r="0.43"/>
<circle cx="13.0" cy="31.8" r="0.72"/>
<circle cx="17.0" cy="31.1" r="0.67"/>
<circle cx="17.5" cy="36.6" r="0.78"/>
<circle cx="17.9" cy="27.8" r="0.70"/>
<circle cx="14.6" cy="33.3" r="0.33"/>
<circle cx="18.9" cy="32.0" r="0.60"/>
<circle cx="35.5" cy="29.8" r="0.67"/>
<circle cx="34.6" cy="41.9" r="0.75"/>
<circle cx="10.7" cy="33.9" r="0.45"/>
<circle cx="21.8" cy="30.9" r="0.56"/>
<circle cx="25.3" cy="27.5" r="0.61"/>
<circle cx="28.7" cy="44.3" r="0.62"/>
<circle cx="21.8" cy="31.7" r="0.56"/>
<circle cx="12.7" cy="34.9" r="0.39"/>
<circle cx="31.0" cy="28.2" r="0.45"/>
<circle cx="36.4" cy="35.2" r="0.46"/>
<circle cx="16.9" cy="39.5" r="0.42"/>
<circle cx="26.3" cy="38.5" r="0.33"/>
<circle cx="20.7" cy="29.9" r="0.48"/>
<circle cx="30.2" cy="33.5" r="0.64"/>
</g>
<rect x="44.5" y="0" width="14.2" height="45.8" fill="#5a5660"/>
<g fill="#b8a090" opacity="0.7" filter="url(#blur03)">
<circle cx="44.7" cy="24.9" r="0.41"/>
<circle cx="51.5" cy="11.4" r="0.66"/>
<circle cx="54.5" cy="30.7" r="0.40"/>
<circle cx="50.6" cy="22.3" r="0.38"/>
<circle cx="52.0" cy="25.7" r="0.65"/>
<circle cx="48.4" cy="26.5" r="0.59"/>
<circle cx="51.7" cy="23.7" r="0.50"/>
<circle cx="52.8" cy="11.6" r="0.44"/>
<circle cx="47.9" cy="43.3" r="0.48"/>
<circle cx="50.7" cy="31.3" r="0.38"/>
<circle cx="53.7" cy="5.0" r="0.45"/>
<circle cx="48.4" cy="9.4" r="0.43"/>
<circle cx="50.2" cy="11.0" r="0.78"/>
<circle cx="56.6" cy="9.9" r="0.45"/>
<circle cx="51.7" cy="27.8" r="0.44"/>
<circle cx="55.9" cy="0.1" r="0.75"/>
<circle cx="57.0" cy="8.0" r="0.60"/>
<circle cx="53.6" cy="4.9" r="0.79"/>
<circle cx="51.6" cy="26.0" r="0.68"/>
<circle cx="43.5" cy="16.4" r="0.53"/>
<circle cx="50.1" cy="17.7" r="0.51"/>
<circle cx="52.3" cy="23.9" r="0.35"/>
<circle cx="47.7" cy="18.1" r="0.32"/>
<circle cx="57.8" cy="21.1" r="0.37"/>
<circle cx="48.3" cy="21.9" r="0.47"/>
<circle cx="50.0" cy="24.0" r="0.41"/>
<circle cx="48.4" cy="15.4" r="0.73"/>
<circle cx="57.9" cy="23.4" r="0.32"/>
<circle cx="46.6" cy="14.1" r="0.65"/>
<circle cx="49.1" cy="11.3" r="0.79"/>
<circle cx="52.6" cy="17.4" r="0.30"/>
<circle cx="55.0" cy="31.7" r="0.38"/>
<circle cx="51.6" cy="26.4" r="0.45"/>
<circle cx="52.6" cy="30.3" r="0.75"/>
<circle cx="50.0" cy="26.8" r="0.39"/>
<circle cx="50.3" cy="13.5" r="0.36"/>
<circle cx="49.0" cy="30.6" r="0.44"/>
<circle cx="46.1" cy="33.4" r="0.63"/>
<circle cx="51.4" cy="36.0" r="0.77"/>
<circle cx="55.7" cy="19.6" r="0.42"/>
<circle cx="53.2" cy="35.7" r="0.75"/>
<circle cx="56.0" cy="32.5" r="0.67"/>
<circle cx="57.8" cy="29.6" r="0.35"/>
<circle cx="51.4" cy="37.1" r="0.47"/>
<circle cx="51.5" cy="30.0" r="0.50"/>
<circle cx="57.4" cy="2.3" r="0.49"/>
<circle cx="56.6" cy="34.1" r="0.55"/>
<circle cx="52.2" cy="5.7" r="0.46"/>
<circle cx="55.7" cy="28.6" r="0.35"/>
</g>
<rect x="37.8" y="0" width="6.2" height="45.8" fill="#2a1a12"/>
<rect x="44" y="0" width="1.2" height="45.8" fill="#a89070"/>
<path d="M37.6 4 L36 7 L37.6 10" stroke="#b06030" stroke-width="1" fill="none"/>
<text x="2.4" y="7.6" font-size="7.4" font-weight="bold" fill="#fff" stroke="#fff" stroke-width="0.3">v</text>
</svg>
<svg x="382.2" y="497.9" width="58.7" height="45.8" viewBox="0 0 58.7 45.8">
<rect width="58.7" height="45.8" fill="#3a5277"/>
<rect width="58.7" height="2.4" fill="#1e1a18"/>
<rect x="55.1" y="0" width="3.6" height="45.8" fill="#1e1a18"/>
<path d="M6 3.4 L53.1 3.0 L53.7 45.8" fill="none" stroke="#d8c8a0" stroke-width="1.0"/>
<g fill="#c8b898" opacity="0.75" filter="url(#blur03)">
<circle cx="38.8" cy="38.7" r="0.51"/>
<circle cx="37.2" cy="33.4" r="0.63"/>
<circle cx="43.4" cy="44.2" r="0.31"/>
<circle cx="42.0" cy="38.6" r="0.37"/>
<circle cx="43.8" cy="21.4" r="0.69"/>
<circle cx="49.2" cy="27.9" r="0.75"/>
<circle cx="47.7" cy="16.1" r="0.31"/>
<circle cx="34.5" cy="33.8" r="0.45"/>
<circle cx="45.0" cy="38.5" r="0.43"/>
<circle cx="45.5" cy="21.0" r="0.51"/>
<circle cx="33.4" cy="10.9" r="0.45"/>
<circle cx="50.1" cy="14.6" r="0.56"/>
<circle cx="44.4" cy="35.8" r="0.45"/>
<circle cx="41.5" cy="30.9" r="0.65"/>
<circle cx="43.8" cy="28.4" r="0.72"/>
<circle cx="28.3" cy="31.2" r="0.54"/>
<circle cx="46.2" cy="19.4" r="0.61"/>
<circle cx="42.5" cy="30.0" r="0.37"/>
<circle cx="44.8" cy="40.1" r="0.48"/>
<circle cx="34.0" cy="26.4" r="0.50"/>
<circle cx="40.5" cy="40.8" r="0.78"/>
<circle cx="46.1" cy="15.7" r="0.71"/>
<circle cx="44.4" cy="34.6" r="0.35"/>
<circle cx="44.7" cy="30.9" r="0.61"/>
<circle cx="47.0" cy="27.6" r="0.64"/>
<circle cx="55.1" cy="23.8" r="0.38"/>
<circle cx="40.5" cy="24.1" r="0.39"/>
<circle cx="52.5" cy="30.9" r="0.76"/>
<circle cx="47.1" cy="33.4" r="0.49"/>
<circle cx="51.6" cy="32.7" r="0.67"/>
<circle cx="42.1" cy="30.7" r="0.32"/>
<circle cx="47.3" cy="44.1" r="0.76"/>
<circle cx="40.7" cy="29.9" r="0.41"/>
<circle cx="41.1" cy="32.4" r="0.36"/>
<circle cx="31.7" cy="37.7" r="0.42"/>
<circle cx="54.6" cy="16.3" r="0.52"/>
<circle cx="44.7" cy="36.3" r="0.63"/>
<circle cx="50.4" cy="12.4" r="0.40"/>
<circle cx="42.7" cy="30.9" r="0.45"/>
<circle cx="43.0" cy="34.9" r="0.34"/>
<circle cx="50.0" cy="29.6" r="0.55"/>
<circle cx="36.3" cy="27.6" r="0.59"/>
<circle cx="35.9" cy="29.8" r="0.34"/>
<circle cx="37.0" cy="19.0" r="0.66"/>
<circle cx="41.0" cy="40.3" r="0.70"/>
<circle cx="43.7" cy="26.7" r="0.47"/>
<circle cx="49.2" cy="43.9" r="0.50"/>
<circle cx="40.1" cy="34.5" r="0.53"/>
<circle cx="42.0" cy="16.2" r="0.41"/>
<circle cx="36.3" cy="38.5" r="0.33"/>
<circle cx="45.2" cy="28.8" r="0.61"/>
<circle cx="42.2" cy="23.4" r="0.55"/>
<circle cx="51.8" cy="13.8" r="0.63"/>
<circle cx="36.6" cy="17.4" r="0.76"/>
<circle cx="34.4" cy="28.8" r="0.70"/>
<circle cx="39.1" cy="29.5" r="0.59"/>
<circle cx="37.5" cy="42.8" r="0.67"/>
<circle cx="46.8" cy="27.3" r="0.31"/>
<circle cx="54.3" cy="23.2" r="0.80"/>
<circle cx="50.8" cy="7.2" r="0.38"/>
<circle cx="47.8" cy="42.7" r="0.68"/>
<circle cx="44.6" cy="36.7" r="0.52"/>
<circle cx="45.3" cy="33.9" r="0.34"/>
<circle cx="47.9" cy="31.2" r="0.64"/>
<circle cx="46.3" cy="13.1" r="0.51"/>
<circle cx="44.1" cy="25.1" r="0.73"/>
<circle cx="41.0" cy="32.7" r="0.49"/>
<circle cx="48.0" cy="45.5" r="0.49"/>
<circle cx="48.6" cy="30.7" r="0.34"/>
<circle cx="50.9" cy="26.9" r="0.69"/>
<circle cx="38.0" cy="24.3" r="0.67"/>
<circle cx="42.0" cy="29.0" r="0.80"/>
<circle cx="38.1" cy="41.8" r="0.51"/>
<circle cx="48.1" cy="28.6" r="0.33"/>
<circle cx="50.8" cy="32.7" r="0.72"/>
<circle cx="28.7" cy="37.5" r="0.37"/>
<circle cx="48.1" cy="28.7" r="0.74"/>
<circle cx="47.1" cy="42.4" r="0.61"/>
<circle cx="51.1" cy="28.1" r="0.72"/>
<circle cx="58.2" cy="36.8" r="0.56"/>
<circle cx="26.0" cy="23.9" r="0.46"/>
<circle cx="37.0" cy="21.3" r="0.45"/>
<circle cx="48.5" cy="38.4" r="0.44"/>
<circle cx="38.5" cy="23.5" r="0.34"/>
<circle cx="38.1" cy="8.9" r="0.61"/>
<circle cx="42.2" cy="38.1" r="0.78"/>
<circle cx="33.4" cy="35.5" r="0.34"/>
<circle cx="49.8" cy="10.5" r="0.43"/>
<circle cx="40.4" cy="43.6" r="0.78"/>
<circle cx="44.3" cy="28.0" r="0.36"/>
<circle cx="49.4" cy="23.5" r="0.78"/>
<circle cx="31.4" cy="35.9" r="0.41"/>
<circle cx="51.7" cy="27.5" r="0.30"/>
<circle cx="44.9" cy="33.9" r="0.51"/>
<circle cx="50.4" cy="25.5" r="0.68"/>
<circle cx="43.4" cy="11.1" r="0.78"/>
<circle cx="49.9" cy="15.2" r="0.46"/>
<circle cx="47.5" cy="39.1" r="0.45"/>
<circle cx="44.1" cy="24.2" r="0.40"/>
<circle cx="43.8" cy="27.2" r="0.34"/>
<circle cx="45.4" cy="30.0" r="0.35"/>
<circle cx="43.6" cy="22.1" r="0.35"/>
<circle cx="37.4" cy="30.1" r="0.30"/>
<circle cx="48.9" cy="33.1" r="0.51"/>
<circle cx="49.4" cy="37.0" r="0.54"/>
<circle cx="52.6" cy="24.0" r="0.45"/>
<circle cx="44.8" cy="36.3" r="0.49"/>
<circle cx="50.0" cy="41.5" r="0.68"/>
<circle cx="54.5" cy="22.4" r="0.62"/>
<circle cx="48.6" cy="34.2" r="0.77"/>
<circle cx="56.3" cy="18.9" r="0.47"/>
<circle cx="46.5" cy="12.7" r="0.50"/>
<circle cx="40.0" cy="39.5" r="0.57"/>
<circle cx="45.4" cy="30.2" r="0.80"/>
<circle cx="38.0" cy="35.7" r="0.59"/>
<circle cx="33.3" cy="27.2" r="0.57"/>
<circle cx="46.1" cy="30.4" r="0.43"/>
<circle cx="40.3" cy="30.1" r="0.72"/>
<circle cx="41.1" cy="39.6" r="0.62"/>
<circle cx="43.0" cy="22.7" r="0.51"/>
<circle cx="53.2" cy="17.0" r="0.40"/>
<circle cx="38.8" cy="22.4" r="0.38"/>
<circle cx="36.6" cy="21.5" r="0.37"/>
<circle cx="31.4" cy="19.0" r="0.40"/>
<circle cx="42.8" cy="41.0" r="0.76"/>
<circle cx="43.4" cy="21.4" r="0.47"/>
<circle cx="44.0" cy="32.9" r="0.56"/>
<circle cx="47.3" cy="36.1" r="0.71"/>
<circle cx="46.1" cy="32.8" r="0.33"/>
<circle cx="40.5" cy="24.5" r="0.43"/>
<circle cx="32.7" cy="27.9" r="0.79"/>
<circle cx="50.0" cy="33.4" r="0.31"/>
<circle cx="37.8" cy="41.8" r="0.47"/>
<circle cx="38.6" cy="33.7" r="0.79"/>
<circle cx="49.4" cy="10.5" r="0.61"/>
<circle cx="51.9" cy="21.1" r="0.35"/>
<circle cx="33.2" cy="24.7" r="0.58"/>
<circle cx="47.7" cy="25.9" r="0.38"/>
<circle cx="36.9" cy="23.0" r="0.40"/>
</g>
<g fill="#a8a090" opacity="0.55" filter="url(#blur03)">
<circle cx="19.0" cy="29.5" r="0.30"/>
<circle cx="55.8" cy="18.9" r="0.65"/>
<circle cx="9.9" cy="41.3" r="0.66"/>
<circle cx="31.8" cy="21.2" r="0.30"/>
<circle cx="49.1" cy="34.3" r="0.33"/>
<circle cx="32.3" cy="27.5" r="0.47"/>
<circle cx="23.4" cy="39.5" r="0.34"/>
<circle cx="23.4" cy="9.0" r="0.45"/>
<circle cx="49.6" cy="21.5" r="0.52"/>
<circle cx="31.0" cy="35.1" r="0.61"/>
<circle cx="25.9" cy="29.7" r="0.46"/>
<circle cx="21.7" cy="25.4" r="0.37"/>
<circle cx="54.4" cy="15.2" r="0.47"/>
<circle cx="31.1" cy="7.8" r="0.35"/>
<circle cx="24.7" cy="23.7" r="0.55"/>
<circle cx="23.2" cy="23.7" r="0.51"/>
<circle cx="30.9" cy="42.6" r="0.74"/>
<circle cx="31.9" cy="20.8" r="0.55"/>
<circle cx="28.6" cy="30.3" r="0.43"/>
<circle cx="14.6" cy="44.5" r="0.69"/>
<circle cx="9.3" cy="13.3" r="0.47"/>
<circle cx="27.7" cy="37.7" r="0.59"/>
<circle cx="17.5" cy="45.2" r="0.48"/>
<circle cx="30.9" cy="39.3" r="0.68"/>
<circle cx="21.6" cy="33.0" r="0.51"/>
<circle cx="55.5" cy="18.5" r="0.61"/>
<circle cx="30.0" cy="41.5" r="0.59"/>
<circle cx="24.4" cy="39.0" r="0.33"/>
<circle cx="49.2" cy="15.9" r="0.57"/>
<circle cx="40.4" cy="6.4" r="0.42"/>
<circle cx="24.0" cy="21.0" r="0.59"/>
<circle cx="17.2" cy="35.6" r="0.67"/>
<circle cx="27.3" cy="32.4" r="0.65"/>
<circle cx="38.0" cy="22.1" r="0.53"/>
<circle cx="50.3" cy="18.8" r="0.57"/>
<circle cx="40.3" cy="34.8" r="0.65"/>
<circle cx="53.6" cy="25.1" r="0.40"/>
<circle cx="18.0" cy="35.3" r="0.75"/>
<circle cx="22.0" cy="39.7" r="0.28"/>
<circle cx="46.6" cy="23.1" r="0.50"/>
<circle cx="45.2" cy="22.1" r="0.26"/>
<circle cx="28.3" cy="27.2" r="0.27"/>
<circle cx="48.4" cy="9.9" r="0.61"/>
<circle cx="20.7" cy="15.9" r="0.54"/>
<circle cx="23.4" cy="41.0" r="0.64"/>
</g>
<path d="M4.5 27 L9 24.5 L14.5 26.5 L15.5 31 L12 35.5 L9 36 L5 33 Z" fill="#3a1208" stroke="#a86030" stroke-width="1.2" stroke-linejoin="round" filter="url(#blur03)"/>
<text x="2.4" y="7.6" font-size="7.4" font-weight="bold" fill="#fff" stroke="#fff" stroke-width="0.3">vi</text>
</svg>
<text x="6.2" y="555.8" font-size="11.6" fill="#000" stroke="#000" stroke-width="0.45" font-weight="bold">E</text>
<line x1="56.6" y1="549.4" x2="56.6" y2="627.5" stroke="#2a2a2a" stroke-width="1.5" />
<line x1="55.9" y1="626.8" x2="241.5" y2="626.8" stroke="#2a2a2a" stroke-width="1.5" />
<line x1="53.6" y1="626.8" x2="56.6" y2="626.8" stroke="#2a2a2a" stroke-width="1.0" />
<text x="50.7" y="629.1" font-size="6.4" fill="#3a3a3a" stroke="#3a3a3a" stroke-width="0.12" text-anchor="end">0.0</text>
<line x1="53.6" y1="611.6" x2="56.6" y2="611.6" stroke="#2a2a2a" stroke-width="1.0" />
<text x="50.7" y="613.9" font-size="6.4" fill="#3a3a3a" stroke="#3a3a3a" stroke-width="0.12" text-anchor="end">0.2</text>
<line x1="53.6" y1="596.4" x2="56.6" y2="596.4" stroke="#2a2a2a" stroke-width="1.0" />
<text x="50.7" y="598.7" font-size="6.4" fill="#3a3a3a" stroke="#3a3a3a" stroke-width="0.12" text-anchor="end">0.4</text>
<line x1="53.6" y1="581.2" x2="56.6" y2="581.2" stroke="#2a2a2a" stroke-width="1.0" />
<text x="50.7" y="583.5" font-size="6.4" fill="#3a3a3a" stroke="#3a3a3a" stroke-width="0.12" text-anchor="end">0.6</text>
<line x1="53.6" y1="566.0" x2="56.6" y2="566.0" stroke="#2a2a2a" stroke-width="1.0" />
<text x="50.7" y="568.3" font-size="6.4" fill="#3a3a3a" stroke="#3a3a3a" stroke-width="0.12" text-anchor="end">0.8</text>
<line x1="53.6" y1="550.8" x2="56.6" y2="550.8" stroke="#2a2a2a" stroke-width="1.0" />
<text x="50.7" y="553.1" font-size="6.4" fill="#3a3a3a" stroke="#3a3a3a" stroke-width="0.12" text-anchor="end">1.0</text>
<text transform="translate(27.4,588) rotate(-90)" font-size="8.6" fill="#2a2a2a" stroke="#2a2a2a" stroke-width="0.1" text-anchor="middle" textLength="48" lengthAdjust="spacingAndGlyphs">Relative density</text>
<text transform="translate(36.9,588) rotate(-90)" font-size="8.6" fill="#2a2a2a" stroke="#2a2a2a" stroke-width="0.1" text-anchor="middle" textLength="53.2" lengthAdjust="spacingAndGlyphs">ratio 5mC / 5hmC</text>
<text x="80.2" y="551.6" font-size="6.9" fill="#222" stroke="#222" stroke-width="0.12" text-anchor="middle" textLength="32" lengthAdjust="spacingAndGlyphs">Fibroblasts</text>
<text x="125.5" y="551.6" font-size="6.9" fill="#222" stroke="#222" stroke-width="0.12" text-anchor="middle" textLength="12.5" lengthAdjust="spacingAndGlyphs">iPSC</text>
<text x="171.4" y="551.6" font-size="6.9" fill="#222" stroke="#222" stroke-width="0.12" text-anchor="middle" textLength="22.5" lengthAdjust="spacingAndGlyphs">HP_D13</text>
<text x="216.9" y="551.6" font-size="6.9" fill="#222" stroke="#222" stroke-width="0.12" text-anchor="middle" textLength="22.5" lengthAdjust="spacingAndGlyphs">HP_D20</text>
<line x1="103.6" y1="550.0" x2="103.6" y2="626.8" stroke="#2a2a2a" stroke-width="1.0" stroke-dasharray="2.6,1.6"/>
<line x1="148.6" y1="550.0" x2="148.6" y2="626.8" stroke="#2a2a2a" stroke-width="1.0" stroke-dasharray="2.6,1.6"/>
<line x1="193.8" y1="550.0" x2="193.8" y2="626.8" stroke="#2a2a2a" stroke-width="1.0" stroke-dasharray="2.6,1.6"/>
<rect x="64.9" y="574.0" width="14.0" height="52.8" fill="#6aab45" />
<rect x="82.8" y="574.0" width="14.2" height="52.8" fill="#a80c38" />
<rect x="110.2" y="590.8" width="13.8" height="36.0" fill="#6aab45" />
<rect x="128.3" y="568.6" width="13.9" height="58.2" fill="#a80c38" />
<rect x="155.4" y="598.5" width="14.4" height="28.3" fill="#6aab45" />
<rect x="173.2" y="573.8" width="14.5" height="53.0" fill="#a80c38" />
<rect x="200.9" y="584.0" width="13.9" height="42.8" fill="#6aab45" />
<rect x="219.0" y="576.9" width="13.9" height="49.9" fill="#a80c38" />
<line x1="71.9" y1="570.6" x2="71.9" y2="576.6" stroke="#1a1a1a" stroke-width="0.9" />
<line x1="68.2" y1="570.6" x2="75.6" y2="570.6" stroke="#1a1a1a" stroke-width="1.1" />
<line x1="68.2" y1="576.6" x2="75.6" y2="576.6" stroke="#1a1a1a" stroke-width="1.1" />
<line x1="91.5" y1="571.4" x2="91.5" y2="576.2" stroke="#1a1a1a" stroke-width="0.9" />
<line x1="87.8" y1="571.4" x2="95.2" y2="571.4" stroke="#1a1a1a" stroke-width="1.1" />
<line x1="87.8" y1="576.2" x2="95.2" y2="576.2" stroke="#1a1a1a" stroke-width="1.1" />
<line x1="117.1" y1="588.0" x2="117.1" y2="593.3" stroke="#1a1a1a" stroke-width="0.9" />
<line x1="113.4" y1="588.0" x2="120.8" y2="588.0" stroke="#1a1a1a" stroke-width="1.1" />
<line x1="113.4" y1="593.3" x2="120.8" y2="593.3" stroke="#1a1a1a" stroke-width="1.1" />
<line x1="134.5" y1="566.8" x2="134.5" y2="570.6" stroke="#1a1a1a" stroke-width="0.9" />
<line x1="130.8" y1="566.8" x2="138.2" y2="566.8" stroke="#1a1a1a" stroke-width="1.1" />
<line x1="130.8" y1="570.6" x2="138.2" y2="570.6" stroke="#1a1a1a" stroke-width="1.1" />
<line x1="162.6" y1="596.2" x2="162.6" y2="601.2" stroke="#1a1a1a" stroke-width="0.9" />
<line x1="158.9" y1="596.2" x2="166.3" y2="596.2" stroke="#1a1a1a" stroke-width="1.1" />
<line x1="158.9" y1="601.2" x2="166.3" y2="601.2" stroke="#1a1a1a" stroke-width="1.1" />
<line x1="180.5" y1="570.2" x2="180.5" y2="576.6" stroke="#1a1a1a" stroke-width="0.9" />
<line x1="176.8" y1="570.2" x2="184.2" y2="570.2" stroke="#1a1a1a" stroke-width="1.1" />
<line x1="176.8" y1="576.6" x2="184.2" y2="576.6" stroke="#1a1a1a" stroke-width="1.1" />
<line x1="208.0" y1="579.0" x2="208.0" y2="587.6" stroke="#1a1a1a" stroke-width="0.9" />
<line x1="204.3" y1="579.0" x2="211.7" y2="579.0" stroke="#1a1a1a" stroke-width="1.1" />
<line x1="204.3" y1="587.6" x2="211.7" y2="587.6" stroke="#1a1a1a" stroke-width="1.1" />
<line x1="226.0" y1="573.6" x2="226.0" y2="579.4" stroke="#1a1a1a" stroke-width="0.9" />
<line x1="222.3" y1="573.6" x2="229.7" y2="573.6" stroke="#1a1a1a" stroke-width="1.1" />
<line x1="222.3" y1="579.4" x2="229.7" y2="579.4" stroke="#1a1a1a" stroke-width="1.1" />
<ellipse cx="71.9" cy="573.6" rx="2.2" ry="2.4" fill="#2a6a58"/>
<ellipse cx="117.1" cy="590.5" rx="2.2" ry="2.4" fill="#2a6a58"/>
<ellipse cx="162.6" cy="598.6" rx="2.2" ry="2.4" fill="#2a6a58"/>
<ellipse cx="208.0" cy="583.2" rx="2.2" ry="2.4" fill="#2a6a58"/>
<rect x="85.25" y="568.35" width="4.3" height="4.3" fill="#4a1a74"/>
<path d="M85.8 573.9 L87.89999999999999 576.0 L85.8 578.1 L83.7 576.0 Z" fill="#4a1a74"/>
<rect x="90.20" y="571.20" width="2.6" height="2.4" fill="#fff" stroke="#222" stroke-width="0.6"/>
<path d="M93.70 572.09 L95.80 576.08 L91.60 576.08 Z" fill="#4a1a74"/>
<rect x="132.70" y="567.10" width="2.6" height="2.4" fill="#fff" stroke="#222" stroke-width="0.6"/>
<path d="M132.70 567.89 L134.80 571.88 L130.60 571.88 Z" fill="#4a1a74"/>
<rect x="136.05" y="565.05" width="4.5" height="4.5" fill="#4a1a74"/>
<path d="M180.50 571.99 L182.60 575.98 L178.40 575.98 Z" fill="#4a1a74"/>
<path d="M226.00 574.89 L228.10 578.88 L223.90 578.88 Z" fill="#4a1a74"/>
<text x="89.9" y="565.8" font-size="5.6" fill="#444" stroke="#444" stroke-width="0.12" text-anchor="middle" textLength="5.6" lengthAdjust="spacingAndGlyphs">ns</text>
<text x="135.3" y="564.7" font-size="4.8" fill="#444" stroke="#444" stroke-width="0.12" text-anchor="middle">*</text>
<text x="180.5" y="570.3" font-size="4.8" fill="#444" stroke="#444" stroke-width="0.12" text-anchor="middle">*</text>
<text x="226.0" y="573.7" font-size="4.8" fill="#444" stroke="#444" stroke-width="0.12" text-anchor="middle">*</text>
<text x="71.6" y="638.8" font-size="7.2" fill="#333" stroke="#333" stroke-width="0.12" text-anchor="middle">C</text>
<line x1="71.6" y1="626.8" x2="71.6" y2="629.4" stroke="#2a2a2a" stroke-width="1.0" />
<text x="90.1" y="638.8" font-size="7.2" fill="#333" stroke="#333" stroke-width="0.12" text-anchor="middle">P</text>
<line x1="90.1" y1="626.8" x2="90.1" y2="629.4" stroke="#2a2a2a" stroke-width="1.0" />
<text x="117.3" y="638.8" font-size="7.2" fill="#333" stroke="#333" stroke-width="0.12" text-anchor="middle">C</text>
<line x1="117.3" y1="626.8" x2="117.3" y2="629.4" stroke="#2a2a2a" stroke-width="1.0" />
<text x="135.4" y="638.8" font-size="7.2" fill="#333" stroke="#333" stroke-width="0.12" text-anchor="middle">P</text>
<line x1="135.4" y1="626.8" x2="135.4" y2="629.4" stroke="#2a2a2a" stroke-width="1.0" />
<text x="162.6" y="638.8" font-size="7.2" fill="#333" stroke="#333" stroke-width="0.12" text-anchor="middle">C</text>
<line x1="162.6" y1="626.8" x2="162.6" y2="629.4" stroke="#2a2a2a" stroke-width="1.0" />
<text x="180.6" y="638.8" font-size="7.2" fill="#333" stroke="#333" stroke-width="0.12" text-anchor="middle">P</text>
<line x1="180.6" y1="626.8" x2="180.6" y2="629.4" stroke="#2a2a2a" stroke-width="1.0" />
<text x="207.9" y="638.8" font-size="7.2" fill="#333" stroke="#333" stroke-width="0.12" text-anchor="middle">C</text>
<line x1="207.9" y1="626.8" x2="207.9" y2="629.4" stroke="#2a2a2a" stroke-width="1.0" />
<text x="226.1" y="638.8" font-size="7.2" fill="#333" stroke="#333" stroke-width="0.12" text-anchor="middle">P</text>
<line x1="226.1" y1="626.8" x2="226.1" y2="629.4" stroke="#2a2a2a" stroke-width="1.0" />
<circle cx="252.9" cy="550.8" r="1.6" fill="#1e5e40"/>
<rect x="251.5" y="557.7" width="2.8" height="2.8" fill="#4a1a72"/>
<path d="M252.9 565.1 L254.5 568.2 L251.3 568.2 Z" fill="#4a1a72"/>
<path d="M252.9 573.5 L254.4 575 L252.9 576.5 L251.4 575 Z" fill="#4a1a72"/>
<text x="257.3" y="552.8" font-size="5.6" fill="#333" stroke="#333" stroke-width="0.12">Control</text>
<text x="257.3" y="561.1" font-size="5.6" fill="#333" stroke="#333" stroke-width="0.12">P1</text>
<text x="257.3" y="568.9" font-size="5.6" fill="#333" stroke="#333" stroke-width="0.12">P2</text>
<text x="257.3" y="577.0" font-size="5.6" fill="#333" stroke="#333" stroke-width="0.12">P3</text>
<rect x="0.5" y="0.5" width="519" height="646" fill="none" stroke="#000" stroke-width="1"/>
</svg>
</body></html>
